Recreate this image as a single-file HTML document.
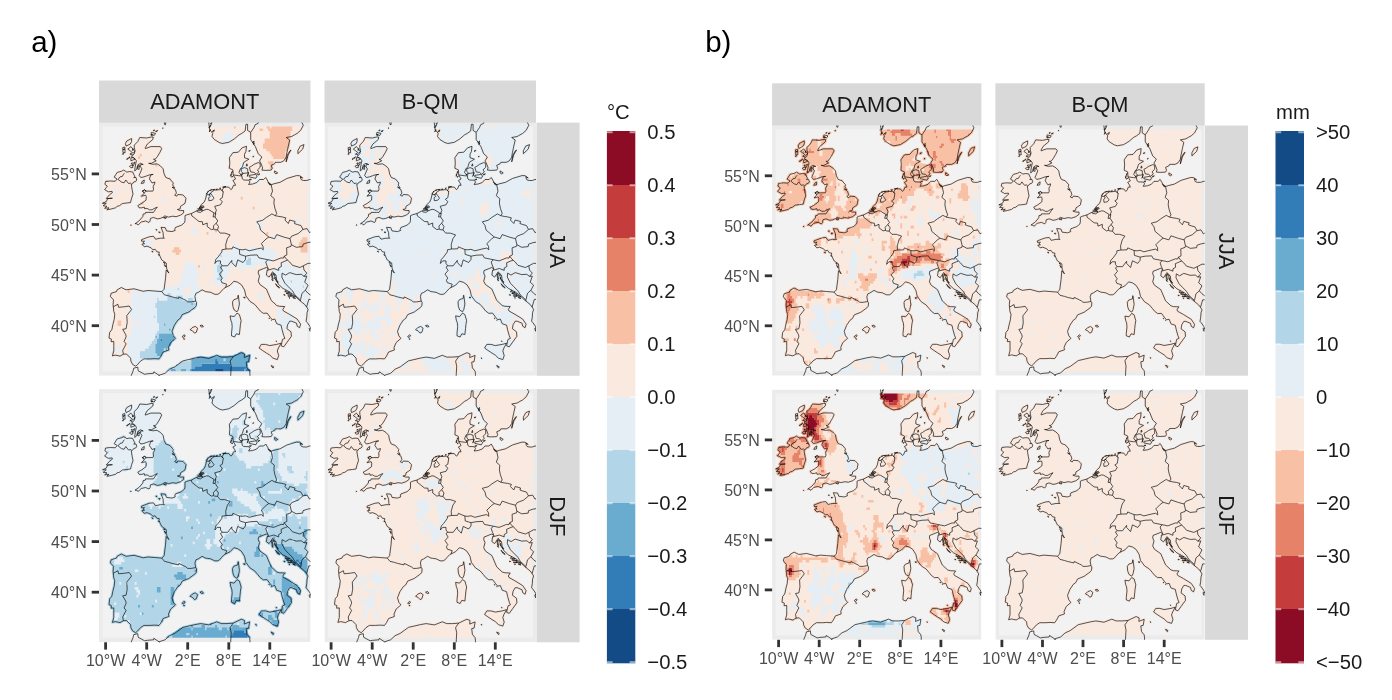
<!DOCTYPE html><html><head><meta charset="utf-8"><title>fig</title><style>html,body{margin:0;padding:0;background:#fff}svg{display:block}text{font-family:"Liberation Sans",sans-serif}</style></head><body>
<svg width="1392" height="700" viewBox="0 0 1392 700">
<defs>
<path id="land" d="M36 101.2L40.5 97.9L43.9 93.8L44.1 91.6L46.3 91.1L46.6 89.8L51.8 89.8L54.5 89.8L56.5 86.7L58.3 84.5L54.5 86.2L53.1 87.2L50.4 87.2L48 85.7L45.6 86.2L45.3 84.5L42.9 85.2L40.1 85.2L38.8 83L42.9 80.7L47 77.6L47.3 74.1L46.6 72.6L42.5 73.6L45.3 70.5L43.2 68.5L45.6 67.3L47.3 68.5L49 68.5L53.8 68.5L54.5 67L54.2 63.7L55.5 61.4L55.9 59.4L53.1 60.4L51.8 58.4L50.4 56.4L51.8 52.3L54.2 51.8L50.4 52.3L47.7 53.3L44.9 54.3L41.8 54.9L40.1 52.8L40.8 51.3L42.9 46.2L41.5 44.2L41.8 41.7L44.2 41.9L41.5 40.7L38.8 42.2L37.7 46.8L35.7 48.3L36 45.2L36.7 41.2L37.4 38.2L36 36.1L32.6 34.1L35.3 31.1L36 28L35.3 25L35.3 22.5L38.8 18.9L40.8 14.9L47.7 15.4L52.1 14.4L54.2 14.4L53.8 16.9L48.3 21.5L46.3 25L46.3 26L51.8 24L61.3 24L62.7 26L61 29.6L58.3 34.1L56.2 36.6L54.5 36.6L57.2 38.2L52.4 40.7L49.7 40.7L53.8 41.7L57.9 41.2L61.3 43.2L64.1 46.2L65.1 51.3L66.8 54.9L70.9 56.4L74.3 60.4L73.7 62.4L75.7 65.5L73 64.5L76.4 67L77.4 70.5L75.7 72.6L77.8 73.6L78.8 71.9L83.9 72.3L87 75.6L86 80.7L83.9 82.2L81.5 83.7L81.2 86.2L78.4 86.9L81.2 88L84.6 87.9L84.6 90.3L81.5 92.6L77.1 94.1L73.7 93.6L69.5 94.5L67.5 93.8L65.8 93.3L64.1 94.6L61.3 95.8L58.3 96.3L54.5 94.8L51.4 95.8L51.1 98.4L50 99.9L46.6 98.4L42.2 99.4L40.5 100.9L39.4 102.3L37 100.9ZM24.7 47.5L27.8 49.5L30.5 49L33.6 49.3L35.3 52.8L36 53.8L34.7 54.9L37 54.9L37.7 57.4L36.7 58.9L34.7 59.4L33.6 61.1L32.3 61.4L32.6 64L33.3 68L34 71.5L32.6 75.6L31.5 79.9L27.8 80.4L23.4 80.9L20.3 83.2L18.2 83.7L16.5 85.2L12.1 86.4L7.8 87.2L10 85.2L5.6 85.7L8 83.7L4.2 83.2L7.3 80.7L3.5 80.7L7.3 78.9L8.7 76.1L13.4 75.6L7.3 75.9L10.4 72.3L13.4 70L13.1 68.8L9.3 69.2L5.6 67L7.3 65L8.3 63.5L5.9 61.7L6.6 58.9L11.4 58.4L16.2 58.7L18.2 56.4L15.2 54.6L16.9 51.8L18.2 49.8L22.3 48.8ZM218.7 56.9L210.5 56.9L207.8 57.9L204.7 57.9L202.6 57.4L201.9 56.4L201.3 54.1L203.7 55.4L200.6 53.1L197.5 53L187.9 55.9L181.1 59.7L174.9 61.2L172.2 62.2L169.4 60.4L168.8 58.4L166.7 54.9L164.7 56.9L160.5 56.9L157.8 59.9L153.7 61.4L149.6 61.9L151 59.4L149.9 57.6L144.8 57.4L143.4 56.4L142.8 53.3L140 49.8L141.4 46.2L143.4 44.2L144.8 39.7L149.9 36.6L145.5 35.1L145.5 31.6L146.9 29L147.5 23.7L143.1 25.2L139.3 29.6L133.9 30.1L130.4 35.1L130.8 40.2L130.4 45.7L133.9 47.3L134.2 52.3L136.6 56.4L133.9 57.9L135.6 60.4L136.6 62.7L134.5 62.7L133.2 66L131.8 67L129.8 64.5L125 64.5L122.9 68L124.3 69L121.9 67L117.4 67.4L115.4 67.5L112 69.8L112 70.8L109.6 72.1L107.5 72L106.5 76.6L105.1 79.6L102.4 81.9L101.4 83.7L100.3 85.7L103.8 87.7L99 87.7L98.1 88L92.5 90.9L87.7 92.3L86 93.1L86 97.9L85.6 99.9L82.5 102.6L76.4 104.9L75.7 107L76.4 107.7L73 109L67.5 108.3L66.3 105.1L62 104.7L64.1 110L64.4 114.6L65.4 115.6L61.3 115.6L56.5 116.6L54.5 113.7L50.7 114.1L47.7 115.1L42.5 117.1L42.5 118.6L45.6 118.6L43.9 120.1L45.6 121.1L42.9 121.6L45.3 124.2L48 123.5L52.1 125.2L53.8 127.2L56.2 126.7L57.9 129.2L60.3 129.5L60 131.3L61.3 134.3L62.7 137.3L67.2 140.4L67.5 144.4L67.8 146.4L69.9 150.5L67.2 147.4L66.5 156.1L65.1 166.7L62.8 169L55.2 168.4L49 167.9L44.2 168.7L35 166.2L27.1 167.2L22.3 164.9L18.2 167.2L17.5 169L12.1 170.7L11.4 173.8L14.5 177.3L14.1 181.9L14.3 184.2L14.8 188.9L15.8 191.5L15.2 197L14.1 201.1L12.8 207.2L10.7 209.7L10 215.5L12.4 216.5L12.1 219.1L14.8 218.8L14.8 223.9L14.8 228.4L13.4 233.3L16.2 232.5L21 233.5L24.4 231.6L27.5 231.4L31.6 235.5L31.9 238.5L33.6 241.8L36.7 243.6L38.4 242.1L41.5 238.5L44.9 236.3L51.1 236.3L55.2 236L60 236.3L62 233.5L64.1 229.4L69.9 227.4L69.5 224.9L71.6 220L76.4 215.8L74.3 213.2L73 208.7L75.4 202.6L78.8 197.5L81.2 195.8L83.2 192L89.7 189.4L95.9 184.9L97.3 183.2L97.6 179.8L96.7 178.5L95.9 173.8L96.9 170.7L99 169.9L103.1 167.2L106.5 169L108.2 169.2L111.6 169.7L115.7 171.7L118.8 171.7L120.5 170.7L122.2 168.7L125 165.7L126.5 164.9L131.1 162.6L134.9 158.6L138.7 159.6L142.4 162.1L145.5 167.2L146.9 173.3L151 178.8L155.8 181.9L158.8 185.4L161.2 188.4L164.3 190.7L168.1 190.5L171.2 194.7L173.2 197L175.9 196.5L177.7 201.1L182.1 202.6L183.1 207.2L184.8 213.2L185.9 215.8L183.5 216.8L182.1 223.3L184.8 224.2L188.3 219.3L192.4 213.7L192 209.2L187.9 206.1L188.6 202.1L190.7 198.6L192.7 198.6L197.5 200.6L198.2 203.6L200.6 205.1L201.6 201.6L198.2 196.5L190.4 191.7L184.5 188.4L183.8 186.9L185.7 183.9L180.4 183.7L177.7 182.9L172.2 177.8L167.4 166.5L161 162L159.2 158.6L160.5 153.5L159.2 150.5L159.5 148L164.7 145.9L167.4 144.9L169.4 146.4L168.1 147.8L167.4 152.5L170.1 154.5L172.5 151L173.5 149.2L177 152.5L177.7 157.6L179.2 161.4L183.8 165.7L187.6 167.7L191.3 169.7L195.1 172.7L198.9 176.3L201.6 178.6L205.7 181.9L207.6 184.4L209.1 186.9L208.1 190L207.8 194.5L207.1 198.6L208.4 200.1L211.2 204.1L211.9 206.1L218.7 210.2ZM109.2 -9.4L109.6 -1.3L110.6 6.8L113.7 10.8L113 13.9L115.4 16.9L120.2 19.9L123.3 20.9L129.8 19.7L135.2 16.4L140 12.3L142.8 10.8L146.2 8.3L146.9 1.7L148.6 1.7L148.6 7.8L151.7 9.8L151.7 16.9L155.1 22L156.4 24L159.2 31.1L162.9 34.4L160.5 38.4L161.9 40.7L163.6 45.2L162.9 47.5L166.7 47.8L172.2 47.5L173.2 45.7L172.2 42.7L175.6 41.2L176.3 39.7L181.8 39.7L184.8 38.2L187.2 34.6L187.9 30.1L189.3 23.5L190.7 17.4L187.2 14.9L192.7 13.9L195.4 12.3L198.2 10.8L201.6 7.8L204.3 2.7L202.3 -1.3L201.6 -9.4ZM63.4 263.8L62.7 256.7L60 252.7L66.1 250.7L70.6 246.6L75.7 244.3L83.9 238.3L95.9 235.5L101.7 234.5L109.9 235.8L117.8 232.7L122.2 234.5L128 234.5L134.2 234L142.4 230.1L145.5 231.4L145.2 235L150.6 232.8L149.6 239L147.2 239.5L147.9 245.3L150.6 248.6L151 251.7L150.3 263.8ZM160.1 225.4L162.3 221.8L166.4 221.8L170.8 223L177.7 221.8L182.1 220.6L179.4 225.4L178.3 228.4L179.7 233L178.3 237L173.9 235.5L170.8 232.5L167.4 230.4L163.3 227.7ZM131.1 193.3L131.8 197.5L132.8 200.1L133.2 204.1L132.5 210.7L132.5 213.2L135.6 214.4L137.3 211.2L140.4 211.9L141 206.1L141.4 202.1L142.1 198L140.4 192L138 190.5L135.2 194ZM139.3 172.7L140.4 181.4L139.3 186.9L138 189.2L135.2 187.4L133.9 183.9L133.5 179.3L134.9 177.1L138.7 175.8L139 172.7ZM91.1 207.2L93.2 205.1L96.2 203.8L98.6 205.6L97.3 209.7L95.5 210.5L93.5 208.2ZM101 203.1L103.1 202.4L104.4 204.1L102.7 204.4ZM83.2 214.2L84.9 212.2L86.1 212.9L84.6 214.9ZM142.1 46.2L145.5 45L148.6 46.2L148.9 50.3L144.1 50.8L142.4 48.8ZM150.3 44.7L152.3 43.7L155.1 41.7L159.2 40L161.2 40.7L161.2 44.7L158.5 47.3L159.9 49.3L157.1 51.6L155.1 49.8L151.7 49.3ZM150.3 52.8L156.4 51.8L158.2 53.3L156.8 55.7L150.3 54.3ZM175.6 48.3L178.7 50.3L177 51.3L175.6 50.3ZM187.2 39.2L189.3 32.1L192 27.5L191 28L188.3 32.6ZM198.9 31.1L203.7 26.5L205 22L201.3 23.5L198.9 28ZM32.6 15.9L32.6 18.9L31.2 21.5L27.1 23.5L26.4 20.9L27.8 18.4ZM25.8 24.5L26.1 30.1L24 30.1L23.7 25ZM31.9 24L36 29L34 30.6L30.9 28L28.8 26.5ZM36 36.6L31.9 38.2L31.9 35.1L34.7 35.1ZM33.3 42.2L34 44.7L31.9 45.2L30.5 43.7ZM36 39.7L34.3 43.2L33.3 42.2L35 39.7ZM40.1 44.2L40.1 46.8L38.4 46.2L38.4 44.2ZM52.4 9.8L56.5 10.8L55.2 12.9L52.1 11.8ZM65.4 -1.3L66.8 -1.3L66.5 2.2L65.4 1.7ZM45.3 57.4L44.9 60.4L42.2 60.9L43.5 58.4ZM64.4 95L67.5 94.6L66.8 96ZM144.5 174.8L146.2 174.6L145.8 175.5ZM156.6 235.2L157.3 235.5L157.1 236.1ZM172.2 242.9L174.6 244.1L174.2 245.4L173.1 244.6ZM172.9 151L174.2 156.6L173.2 156.1L172.5 152.5ZM173.9 150.5L176.3 152.5L174.9 153ZM175.6 155.5L179.4 159.6L178 159.6ZM176.6 161.1L179 163.9L178.3 164.1ZM187.2 169.2L190.7 169.7L188.6 170.2ZM187.2 170.7L192.7 171.5L189.3 171.7ZM188.9 173L192.7 173.5L189.3 173.8ZM98.6 86.2L101.7 85.7L103.1 86.7L99.7 87.2ZM100.3 84.7L103.1 84.5L103.8 85.5L101 85.4ZM101.4 83.7L104.4 83.2L105.1 84.7L102.4 84.5ZM107.3 71.5L108.5 69.7L107.9 71.3ZM108.5 69.2L109.9 68.5L109.2 69.3ZM110.3 67.9L113 67L111.3 67.9ZM113.3 67.1L115.7 66.8L114.4 67.3ZM116.8 66.8L118.5 66.5L117.4 67ZM120.5 65.7L121.9 65.5L121.2 66ZM123.6 64.5L127 63.9L125 64.6ZM131.8 53.8L132.5 50.8L131.7 52.3ZM132.5 54.3L133.9 53.8L133.2 54.6ZM132.8 50.3L133.5 48.8L132.7 49.3ZM141.7 51.8L143.8 50.8L143.1 52.5ZM148.2 53.8L149.6 49.8L148.8 53.3ZM158.5 51.8L160.9 51.3L159.2 52.5ZM147.2 43.4L147.9 41.2L148.4 43.2ZM149.6 28.5L151.3 27.8L150.6 28.8ZM153.7 34.1L154.7 33.6L154.4 34.3ZM150.3 56.9L152.3 56.4L151.7 57.4ZM169.4 59.9L172.2 61.9L170.8 62.4L170.1 61.2ZM110.3 9.3L111.3 6.8L110.6 8.8ZM109.9 4.8L112 2.2L110.9 4.8ZM111.3 1.2L113 -0.3L112.3 1.7ZM113.3 8.8L115.4 7.3L114.7 9.3ZM153.4 19.9L155.1 18.4L154.7 20.4ZM154 21.5L155.4 20.4L154.7 21.8ZM29.2 35.6L30.9 34.1L30.2 35.6ZM27.5 36.6L28.8 35.6L28.5 36.8ZM30.9 31.6L32.3 30.6L32.3 31.8ZM32.6 32.3L33.3 31.8L33.1 32.5ZM32.3 41L33.1 40L32.9 41.2ZM39.8 42.4L40.8 43.7L40 44ZM33.4 27.8L34 26L34.1 27.5ZM24 27L25.8 26.2L25.1 27.2ZM23.4 31.6L24.4 30.6L24.3 31.8ZM51.8 12.3L53.5 11.8L53.1 13.1ZM56.5 8.8L58.6 7.8L57.9 9ZM54.2 8L55.5 7.3L55.2 8.3ZM63.5 5.6L64.1 5.2L64.1 5.8ZM43.5 68.5L45.6 67.3L47.3 68.5L45.3 70ZM31.6 102.4L32.1 102.1L32.1 102.9ZM59.6 109.5L61.3 109.5L60.7 110.3ZM56.9 107L57.9 107L57.6 107.8ZM52.8 128.7L54.2 129.2L53.5 129.4ZM65.4 141.9L66.8 143.9L66.5 144.4ZM64.4 139.9L66.1 140.4L65.8 140.9ZM59.3 132L60.3 132.5L60 132.8ZM84.5 216.1L85.6 216.5L84.9 216.8ZM172.2 197.4L172.7 197.5L172.3 197.7ZM169.8 195.5L170.6 195.7L170.1 196ZM177 218.3L177.7 218.6L177.3 219ZM184.8 172L186.2 172.4L185.2 172.7ZM193.7 174.8L196.5 175.8L194.1 175.3ZM190 175.1L191 175.3L190.3 175.6ZM175.6 154L176.6 155.5L175.9 155.5ZM172.9 156.6L174.2 158.1L173.5 158.1ZM179 163.6L180.7 165.2L179.7 165.2ZM185.9 168.7L186.9 169L186.2 169.4ZM186.5 167.7L187.2 167.7L186.9 168.1ZM191.3 172.7L195.4 174.3L196.5 174L192 172.2ZM210.5 205.6L211.5 205.3L211.2 208.7L210.2 206.1Z"/>
<path id="nod" d="M27.1 263.8L31.9 253.7L34 248.6L34.7 245.6L38.8 244.6L39.1 248.1L45.6 251.7L48.3 251.2L54.5 250.7L54.8 249.2L60 252.7L62.7 256.7L63.4 263.8ZM109.9 72.1L111.6 71L113.3 73.1L115 75.6L113.3 77.6L109.9 78.1L109.6 75.1L111.3 73.8Z"/>
<path id="mx" d="M140.7 53.3L142.1 41.2L149.6 38.2L161.2 40.2L162.6 46.2L159.2 54.3L150.3 56.4ZM30.5 45.2L39.4 45.2L37.4 35.1L36.7 25L32.6 23.5L28.5 27L30.5 35.1ZM98.3 87.7L104.4 87.7L104.4 82.2L100.3 83.7Z"/>
<path id="bord" d="M25.4 50.6L24.4 51.8L23.4 53.8L21 54.3L19.1 56.8L22.3 59.4L25.1 60.2L26.8 57.4L29.5 60.9L32.1 60.4M14.3 184.2L18.9 181.6L19.6 184.7L25.8 184.1L30.2 183.4L32.6 186.9L27.8 193L28.2 200.1L27.1 206.1L23.7 206.7L26.8 212.2L27.1 214.2L25.1 218.8L27.1 221.3L23.7 227.9L24.4 231.6M62.8 169L65.4 172.2L69.9 173.3L73 174.3L79.5 175.8L79.8 174.3L84.9 176.8L87 177.8L88.7 179.3L92.1 179.3L96.7 178.5M126.5 164.9L127.7 161.6L122.9 160.1L121.9 157.6L123.3 155.5L120.5 151.5L123.6 148L121.5 144.4L123.3 143.2M123.3 143.2L121.5 140.9L121.5 138.3L118.1 138.3L115.9 140.9L116.8 136.8L119.2 134.3L122.9 129.2L122.9 127.2L127 126.4M127 126.4L126.7 122.1L128.4 116.1L131.1 112.3L125.7 110.5L121.2 110.5L118.5 107.3M118.5 107.3L115.4 107L114.8 106.5L112.3 107L108.2 103.9L108.2 100.4L103.8 102.2L103.4 99.1L100 98.9L97.3 96.8L94.9 94.8L92.8 93.3L92.5 90.9M114.8 106.5L114.4 103.4L117.1 100.6L119.5 103.9L118.5 107.3M117.1 100.6L118.8 98.4L116.1 94.3M98.1 88L98.3 89.3L101.4 89.8L104.1 88L107.5 86.7L109.6 87L115 90.3L114 94.3L116.1 94.3M116.1 94.3L116.8 90.3L115.7 91.3L117.4 87.7L115.7 83.7L121.5 82.2L123.3 79.1L120.9 76.6L123.3 75.1L124.3 69M134.2 52.3L139.7 53.1L142.8 53.3M172.2 62.2L173.5 68.5L171.8 73.1L175.3 76.1L174.9 80.7L175.9 85.7L177.7 90.8L176.3 93.1M176.3 93.1L172.9 91.3L167.4 94.8L163.6 97.7L157.8 99.2L160.5 102.9L161.6 107.5L169.8 114.4M169.8 114.4L167 116.4L162.3 121.1L164 123.7L164.3 127.2L162.3 125.5L158.5 126.2L150.3 128.2L146.5 126.7L143.4 127.2L140.4 126.9M140.4 126.9L136.6 125.4L133.9 124.2L133.2 126.2L127 126.4M140.4 126.9L140.7 131.8L146.5 133.6M146.5 133.6L146.5 136.8L144.1 139.9L138.7 137.3L136.8 144.1L132.8 139.9L132.8 137.8L128.7 143.2L123.3 143.2M146.5 133.6L151.7 132.6L158.2 132.3L159.9 135.3L168.8 137.1M168.8 137.1L166.7 139.4L168.1 143.4L169.4 146.4M168.8 137.1L174.6 138.3L182.1 135.3L184.5 135.5L185.2 133.6M185.2 133.6L187.9 132.3L187.6 125.2L192 123.7L192.4 122.1M192.4 122.1L191 116.1M191 116.1L185.2 114.6L177.7 112L175.6 116.1L169.8 114.4M176.3 93.1L179.7 93.8L183.1 94.3L186.9 95.3L185.9 97.4L189.3 100.9L190.7 97.4L196.1 98.9L195.4 100.9L198.2 101.9L201.9 102.9L204 106.8M204 106.8L199.2 111L192.7 113.5L191 116.1M204 106.8L208.1 106L210.5 110L212.5 109L218.7 108M192.4 122.1L197.2 124.7L203.7 124L204 121.6L208.4 120.1L213.9 119.1L218.7 117.1M168.1 147.8L174.9 145.9L179.7 147.8L179.7 145.4L182.4 143.9L182.1 140.2L186.5 138.3L188.6 137.6M185.2 133.6L186.9 135.8L188.6 137.6M188.6 137.6L190.7 139.4L193.4 142.7L200.9 144.9L204.3 143.2M204.3 143.2L209.1 140.7L213.9 140.9L218.7 141.4M204.3 143.2L205 147.4L207.8 150.5L205 153.8M205 153.8L202.3 151.7L197.2 152L190.7 150L186.5 152.5L183.1 150.5L182.8 154.5L185.9 160.6L189.3 164.1L193.4 168.2L195.8 172.2L201.3 177.3L201.6 178.6M205 153.8L207.8 153.5L205.7 159.6L209.1 162.6L206.4 167.7L203 170.7L201.6 176.8L201.3 177.3M206.4 167.7L209.1 170.7L213.9 174.3L212.5 176.8L209.8 176.8L207.6 184.4M212.5 176.8L215.3 180.8L215.3 190L218.7 194M211.9 206.1L214.6 203.1L218.7 197M151.7 9.8L155.1 4.8L156.1 2.2L159.2 0.7L160.5 -4.4M134.2 234L131.1 238.5L132.2 243.6L131.8 250.7L131.5 257.8"/>
<mask id="lm" maskUnits="userSpaceOnUse" x="0" y="0" width="215" height="256"><use href="#land" fill="#fff" stroke="#fff" stroke-width="2.8" stroke-linejoin="round"/><use href="#mx" fill="#fff"/></mask>
<clipPath id="pca"><rect x="0" y="0" width="211.50" height="253.20"/></clipPath>
<clipPath id="pcb"><rect x="0" y="0" width="211.84" height="253.24"/></clipPath>
<clipPath id="rca"><rect x="3.5" y="4.00" width="205.00" height="244.70"/></clipPath>
<clipPath id="rcb"><rect x="3.5" y="4.35" width="205.34" height="244.74"/></clipPath>
</defs>
<rect width="1392" height="700" fill="#fff"/>
<rect x="99" y="80.5" width="211.5" height="42.4" fill="#D9D9D9"/>
<text x="204.75" y="109.35" font-size="21.8" text-anchor="middle" fill="#1a1a1a">ADAMONT</text>
<rect x="324.5" y="80.5" width="211.5" height="42.4" fill="#D9D9D9"/>
<text x="430.25" y="109.35" font-size="21.8" text-anchor="middle" fill="#1a1a1a">B-QM</text>
<rect x="536.5" y="122.6" width="43.1" height="253.2" fill="#D9D9D9"/>
<text transform="translate(558.05 249.8) rotate(90)" font-size="21.8" text-anchor="middle" fill="#1a1a1a" y="7.8">JJA</text>
<rect x="536.5" y="389.1" width="43.1" height="253.2" fill="#D9D9D9"/>
<text transform="translate(558.05 516.3) rotate(90)" font-size="21.8" text-anchor="middle" fill="#1a1a1a" y="7.8">DJF</text>
<g transform="translate(99 122.6) scale(1)" clip-path="url(#pca)">
<rect width="211.5" height="253.2" fill="#EBEBEB"/>
<rect x="3.5" y="4" width="205.0" height="244.7" fill="#F2F2F2"/>
<g transform="translate(0 0)">
<g mask="url(#lm)" clip-path="url(#rca)"><rect width="215" height="256" fill="#FAE9DF"/>
<path fill="#134B86" d="M116.1 246.1h8.7v2.7h-8.7zM107.5 248.6h5.3v2.7h-5.3zM116.1 248.6h13.8v2.7h-13.8zM102.4 251.2h29.2v2.7h-29.2z"/><path fill="#327CB8" d="M61.3 215.8h1.9v2.7h-1.9zM116.1 236h1.9v2.7h-1.9zM116.1 238.5h3.6v2.7h-3.6zM102.4 241.1h29.2v2.7h-29.2zM95.5 243.6h51.5v2.7h-51.5zM92.1 246.1h24.1v2.7h-24.1zM124.6 246.1h20.7v2.7h-20.7zM146.9 246.1h5.3v2.7h-5.3zM92.1 248.6h15.5v2.7h-15.5zM112.7 248.6h3.6v2.7h-3.6zM129.8 248.6h22.4v2.7h-22.4zM92.1 251.2h10.4v2.7h-10.4zM131.5 251.2h20.7v2.7h-20.7z"/><path fill="#6AACD0" d="M92.1 180.3h1.9v2.7h-1.9zM64.8 200.6h1.9v2.7h-1.9zM69.9 205.6h1.9v2.7h-1.9zM59.6 210.7h13.8v2.7h-13.8zM56.2 213.2h1.9v2.7h-1.9zM59.6 213.2h15.5v2.7h-15.5zM57.9 215.8h3.6v2.7h-3.6zM63 215.8h12.1v2.7h-12.1zM57.9 218.3h15.5v2.7h-15.5zM56.2 220.8h17.3v2.7h-17.3zM56.2 223.3h13.8v2.7h-13.8zM56.2 225.9h8.7v2.7h-8.7zM66.5 225.9h1.9v2.7h-1.9zM56.2 228.4h8.7v2.7h-8.7zM138.3 228.4h7v2.7h-7zM57.9 230.9h5.3v2.7h-5.3zM121.2 230.9h30.9v2.7h-30.9zM97.3 233.5h54.9v2.7h-54.9zM92.1 236h24.1v2.7h-24.1zM117.8 236h7v2.7h-7zM126.3 236h25.8v2.7h-25.8zM92.1 238.5h24.1v2.7h-24.1zM119.5 238.5h32.6v2.7h-32.6zM92.1 241.1h10.4v2.7h-10.4zM131.5 241.1h20.7v2.7h-20.7zM92.1 243.6h3.6v2.7h-3.6zM146.9 243.6h5.3v2.7h-5.3zM71.6 246.1h5.3v2.7h-5.3zM81.9 246.1h5.3v2.7h-5.3zM90.4 246.1h1.9v2.7h-1.9zM145.2 246.1h1.9v2.7h-1.9zM152 246.1h1.9v2.7h-1.9zM59.6 248.6h1.9v2.7h-1.9zM63 248.6h29.2v2.7h-29.2zM152 248.6h1.9v2.7h-1.9zM57.9 251.2h34.4v2.7h-34.4zM152 251.2h1.9v2.7h-1.9z"/><path fill="#B2D5E7" d="M121.2 132.3h1.9v2.7h-1.9zM148.6 134.8h3.6v2.7h-3.6zM146.9 137.3h5.3v2.7h-5.3zM119.5 139.9h1.9v2.7h-1.9zM146.9 139.9h5.3v2.7h-5.3zM117.8 142.4h5.3v2.7h-5.3zM117.8 144.9h5.3v2.7h-5.3zM117.8 147.4h5.3v2.7h-5.3zM119.5 150h3.6v2.7h-3.6zM119.5 152.5h3.6v2.7h-3.6zM117.8 155h5.3v2.7h-5.3zM191.3 157.6h1.9v2.7h-1.9zM203.3 162.6h1.9v2.7h-1.9zM78.4 165.2h1.9v2.7h-1.9zM68.2 170.2h3.6v2.7h-3.6zM68.2 172.7h5.3v2.7h-5.3zM76.7 172.7h7v2.7h-7zM57.9 175.3h1.9v2.7h-1.9zM68.2 175.3h15.5v2.7h-15.5zM88.7 175.3h5.3v2.7h-5.3zM57.9 177.8h37.8v2.7h-37.8zM56.2 180.3h36.1v2.7h-36.1zM93.8 180.3h3.6v2.7h-3.6zM56.2 182.9h41.2v2.7h-41.2zM57.9 185.4h39.5v2.7h-39.5zM57.9 187.9h34.4v2.7h-34.4zM57.9 190.5h32.6v2.7h-32.6zM54.5 193h1.9v2.7h-1.9zM57.9 193h30.9v2.7h-30.9zM57.9 195.5h27.5v2.7h-27.5zM57.9 198h24.1v2.7h-24.1zM59.6 200.6h5.3v2.7h-5.3zM66.5 200.6h13.8v2.7h-13.8zM59.6 203.1h19v2.7h-19zM59.6 205.6h10.4v2.7h-10.4zM71.6 205.6h5.3v2.7h-5.3zM57.9 208.2h19v2.7h-19zM56.2 210.7h3.6v2.7h-3.6zM73.3 210.7h5.3v2.7h-5.3zM57.9 213.2h1.9v2.7h-1.9zM75 213.2h5.3v2.7h-5.3zM54.5 215.8h3.6v2.7h-3.6zM75 215.8h3.6v2.7h-3.6zM52.8 218.3h5.3v2.7h-5.3zM73.3 218.3h3.6v2.7h-3.6zM51.1 220.8h5.3v2.7h-5.3zM73.3 220.8h1.9v2.7h-1.9zM49.4 223.3h7v2.7h-7zM69.9 223.3h3.6v2.7h-3.6zM45.9 225.9h10.4v2.7h-10.4zM64.8 225.9h1.9v2.7h-1.9zM68.2 225.9h5.3v2.7h-5.3zM138.3 225.9h7v2.7h-7zM40.8 228.4h15.5v2.7h-15.5zM64.8 228.4h7v2.7h-7zM131.5 228.4h7v2.7h-7zM145.2 228.4h7v2.7h-7zM40.8 230.9h17.3v2.7h-17.3zM63 230.9h7v2.7h-7zM97.3 230.9h24.1v2.7h-24.1zM152 230.9h1.9v2.7h-1.9zM40.8 233.5h24.1v2.7h-24.1zM92.1 233.5h5.3v2.7h-5.3zM152 233.5h1.9v2.7h-1.9zM47.7 236h15.5v2.7h-15.5zM90.4 236h1.9v2.7h-1.9zM124.6 236h1.9v2.7h-1.9zM152 236h1.9v2.7h-1.9zM80.2 238.5h12.1v2.7h-12.1zM76.7 241.1h15.5v2.7h-15.5zM66.5 243.6h25.8v2.7h-25.8zM61.3 246.1h10.4v2.7h-10.4zM76.7 246.1h5.3v2.7h-5.3zM87 246.1h3.6v2.7h-3.6zM57.9 248.6h1.9v2.7h-1.9zM61.3 248.6h1.9v2.7h-1.9z"/><path fill="#E4EEF4" d="M107.5 0.7h1.9v2.7h-1.9zM49.4 8.3h1.9v2.7h-1.9zM128 8.3h7v2.7h-7zM47.7 10.8h5.3v2.7h-5.3zM124.6 10.8h10.4v2.7h-10.4zM25.4 13.4h1.9v2.7h-1.9zM116.1 13.4h1.9v2.7h-1.9zM122.9 13.4h10.4v2.7h-10.4zM122.9 15.9h8.7v2.7h-8.7zM40.8 18.4h1.9v2.7h-1.9zM122.9 18.4h7v2.7h-7zM122.9 20.9h3.6v2.7h-3.6zM122.9 23.5h1.9v2.7h-1.9zM131.5 28.5h3.6v2.7h-3.6zM131.5 31.1h1.9v2.7h-1.9zM47.7 33.6h1.9v2.7h-1.9zM61.3 38.7h1.9v2.7h-1.9zM141.7 38.7h3.6v2.7h-3.6zM141.7 41.2h5.3v2.7h-5.3zM18.6 43.7h1.9v2.7h-1.9zM141.7 43.7h5.3v2.7h-5.3zM141.7 46.2h5.3v2.7h-5.3zM13.4 48.8h1.9v2.7h-1.9zM39.1 48.8h1.9v2.7h-1.9zM143.4 48.8h1.9v2.7h-1.9zM13.4 53.8h1.9v2.7h-1.9zM157.1 53.8h5.3v2.7h-5.3zM152 56.4h10.4v2.7h-10.4zM155.4 58.9h3.6v2.7h-3.6zM160.5 61.4h1.9v2.7h-1.9zM18.6 64h1.9v2.7h-1.9zM27.1 64h1.9v2.7h-1.9zM15.2 66.5h1.9v2.7h-1.9zM105.8 66.5h3.6v2.7h-3.6zM15.2 69h1.9v2.7h-1.9zM105.8 69h8.7v2.7h-8.7zM133.2 69h1.9v2.7h-1.9zM145.2 69h1.9v2.7h-1.9zM13.4 71.5h1.9v2.7h-1.9zM45.9 71.5h1.9v2.7h-1.9zM105.8 71.5h8.7v2.7h-8.7zM63 74.1h3.6v2.7h-3.6zM110.9 74.1h3.6v2.7h-3.6zM64.8 76.6h1.9v2.7h-1.9zM88.7 76.6h1.9v2.7h-1.9zM107.5 79.1h1.9v2.7h-1.9zM116.1 79.1h1.9v2.7h-1.9zM164 79.1h1.9v2.7h-1.9zM52.8 81.7h1.9v2.7h-1.9zM73.3 84.2h1.9v2.7h-1.9zM107.5 86.7h1.9v2.7h-1.9zM51.1 89.3h1.9v2.7h-1.9zM75 89.3h1.9v2.7h-1.9zM45.9 91.8h1.9v2.7h-1.9zM49.4 91.8h3.6v2.7h-3.6zM95.5 91.8h1.9v2.7h-1.9zM164 91.8h1.9v2.7h-1.9zM87 94.3h1.9v2.7h-1.9zM47.7 96.8h1.9v2.7h-1.9zM85.3 96.8h3.6v2.7h-3.6zM158.8 96.8h3.6v2.7h-3.6zM196.5 96.8h3.6v2.7h-3.6zM203.3 96.8h1.9v2.7h-1.9zM158.8 99.4h5.3v2.7h-5.3zM196.5 99.4h3.6v2.7h-3.6zM158.8 101.9h5.3v2.7h-5.3zM93.8 104.4h3.6v2.7h-3.6zM158.8 104.4h1.9v2.7h-1.9zM92.1 107h5.3v2.7h-5.3zM93.8 109.5h3.6v2.7h-3.6zM201.6 109.5h1.9v2.7h-1.9zM175.9 112h3.6v2.7h-3.6zM175.9 114.6h3.6v2.7h-3.6zM44.2 117.1h8.7v2.7h-8.7zM44.2 119.6h10.4v2.7h-10.4zM134.9 119.6h3.6v2.7h-3.6zM45.9 122.1h5.3v2.7h-5.3zM134.9 122.1h5.3v2.7h-5.3zM134.9 124.7h7v2.7h-7zM150.3 124.7h20.7v2.7h-20.7zM131.5 127.2h44.6v2.7h-44.6zM121.2 129.7h56.6v2.7h-56.6zM117.8 132.3h3.6v2.7h-3.6zM122.9 132.3h54.9v2.7h-54.9zM116.1 134.8h32.6v2.7h-32.6zM152 134.8h24.1v2.7h-24.1zM114.4 137.3h32.6v2.7h-32.6zM152 137.3h20.7v2.7h-20.7zM87 139.9h8.7v2.7h-8.7zM114.4 139.9h5.3v2.7h-5.3zM121.2 139.9h25.8v2.7h-25.8zM152 139.9h7v2.7h-7zM160.5 139.9h7v2.7h-7zM169.1 139.9h1.9v2.7h-1.9zM182.8 139.9h7v2.7h-7zM85.3 142.4h12.1v2.7h-12.1zM102.4 142.4h3.6v2.7h-3.6zM114.4 142.4h3.6v2.7h-3.6zM122.9 142.4h10.4v2.7h-10.4zM134.9 142.4h20.7v2.7h-20.7zM179.4 142.4h12.1v2.7h-12.1zM85.3 144.9h12.1v2.7h-12.1zM104.1 144.9h1.9v2.7h-1.9zM114.4 144.9h3.6v2.7h-3.6zM122.9 144.9h8.7v2.7h-8.7zM141.7 144.9h3.6v2.7h-3.6zM155.4 144.9h1.9v2.7h-1.9zM174.2 144.9h25.8v2.7h-25.8zM85.3 147.4h12.1v2.7h-12.1zM114.4 147.4h3.6v2.7h-3.6zM122.9 147.4h8.7v2.7h-8.7zM167.4 147.4h1.9v2.7h-1.9zM174.2 147.4h32.6v2.7h-32.6zM83.6 150h17.3v2.7h-17.3zM114.4 150h5.3v2.7h-5.3zM122.9 150h7v2.7h-7zM172.5 150h36.1v2.7h-36.1zM83.6 152.5h15.5v2.7h-15.5zM114.4 152.5h5.3v2.7h-5.3zM122.9 152.5h5.3v2.7h-5.3zM172.5 152.5h36.1v2.7h-36.1zM64.8 155h1.9v2.7h-1.9zM81.9 155h17.3v2.7h-17.3zM114.4 155h3.6v2.7h-3.6zM122.9 155h3.6v2.7h-3.6zM174.2 155h17.3v2.7h-17.3zM193 155h17.3v2.7h-17.3zM81.9 157.6h15.5v2.7h-15.5zM109.2 157.6h1.9v2.7h-1.9zM114.4 157.6h12.1v2.7h-12.1zM179.4 157.6h12.1v2.7h-12.1zM193 157.6h17.3v2.7h-17.3zM80.2 160.1h17.3v2.7h-17.3zM116.1 160.1h8.7v2.7h-8.7zM181.1 160.1h30.9v2.7h-30.9zM68.2 162.6h1.9v2.7h-1.9zM73.3 162.6h13.8v2.7h-13.8zM88.7 162.6h10.4v2.7h-10.4zM100.7 162.6h1.9v2.7h-1.9zM181.1 162.6h22.4v2.7h-22.4zM205 162.6h8.7v2.7h-8.7zM61.3 165.2h17.3v2.7h-17.3zM80.2 165.2h5.3v2.7h-5.3zM92.1 165.2h8.7v2.7h-8.7zM186.2 165.2h27.5v2.7h-27.5zM32.3 167.7h7v2.7h-7zM42.5 167.7h42.9v2.7h-42.9zM92.1 167.7h8.7v2.7h-8.7zM187.9 167.7h25.8v2.7h-25.8zM32.3 170.2h36.1v2.7h-36.1zM71.6 170.2h13.8v2.7h-13.8zM88.7 170.2h12.1v2.7h-12.1zM158.8 170.2h5.3v2.7h-5.3zM189.6 170.2h24.1v2.7h-24.1zM32.3 172.7h36.1v2.7h-36.1zM73.3 172.7h3.6v2.7h-3.6zM83.6 172.7h15.5v2.7h-15.5zM158.8 172.7h5.3v2.7h-5.3zM191.3 172.7h22.4v2.7h-22.4zM32.3 175.3h25.8v2.7h-25.8zM59.6 175.3h8.7v2.7h-8.7zM83.6 175.3h5.3v2.7h-5.3zM93.8 175.3h5.3v2.7h-5.3zM158.8 175.3h3.6v2.7h-3.6zM201.6 175.3h12.1v2.7h-12.1zM32.3 177.8h25.8v2.7h-25.8zM95.5 177.8h3.6v2.7h-3.6zM136.6 177.8h3.6v2.7h-3.6zM150.3 177.8h1.9v2.7h-1.9zM164 177.8h1.9v2.7h-1.9zM203.3 177.8h10.4v2.7h-10.4zM32.3 180.3h24.1v2.7h-24.1zM97.3 180.3h1.9v2.7h-1.9zM136.6 180.3h3.6v2.7h-3.6zM150.3 180.3h1.9v2.7h-1.9zM203.3 180.3h10.4v2.7h-10.4zM27.1 182.9h1.9v2.7h-1.9zM30.5 182.9h25.8v2.7h-25.8zM97.3 182.9h1.9v2.7h-1.9zM136.6 182.9h1.9v2.7h-1.9zM181.1 182.9h1.9v2.7h-1.9zM206.7 182.9h7v2.7h-7zM30.5 185.4h27.5v2.7h-27.5zM97.3 185.4h1.9v2.7h-1.9zM179.4 185.4h3.6v2.7h-3.6zM206.7 185.4h1.9v2.7h-1.9zM210.2 185.4h3.6v2.7h-3.6zM30.5 187.9h27.5v2.7h-27.5zM92.1 187.9h5.3v2.7h-5.3zM136.6 187.9h1.9v2.7h-1.9zM177.7 187.9h5.3v2.7h-5.3zM189.6 187.9h5.3v2.7h-5.3zM206.7 187.9h7v2.7h-7zM30.5 190.5h27.5v2.7h-27.5zM90.4 190.5h3.6v2.7h-3.6zM133.2 190.5h5.3v2.7h-5.3zM177.7 190.5h7v2.7h-7zM189.6 190.5h5.3v2.7h-5.3zM32.3 193h22.4v2.7h-22.4zM56.2 193h1.9v2.7h-1.9zM133.2 193h5.3v2.7h-5.3zM177.7 193h15.5v2.7h-15.5zM32.3 195.5h25.8v2.7h-25.8zM131.5 195.5h8.7v2.7h-8.7zM179.4 195.5h13.8v2.7h-13.8zM196.5 195.5h1.9v2.7h-1.9zM32.3 198h3.6v2.7h-3.6zM39.1 198h19v2.7h-19zM81.9 198h1.9v2.7h-1.9zM129.8 198h10.4v2.7h-10.4zM177.7 198h19v2.7h-19zM32.3 200.6h5.3v2.7h-5.3zM39.1 200.6h20.7v2.7h-20.7zM129.8 200.6h10.4v2.7h-10.4zM177.7 200.6h22.4v2.7h-22.4zM201.6 200.6h1.9v2.7h-1.9zM32.3 203.1h27.5v2.7h-27.5zM88.7 203.1h1.9v2.7h-1.9zM129.8 203.1h10.4v2.7h-10.4zM179.4 203.1h22.4v2.7h-22.4zM32.3 205.6h27.5v2.7h-27.5zM88.7 205.6h1.9v2.7h-1.9zM131.5 205.6h8.7v2.7h-8.7zM179.4 205.6h7v2.7h-7zM193 205.6h7v2.7h-7zM32.3 208.2h25.8v2.7h-25.8zM81.9 208.2h5.3v2.7h-5.3zM133.2 208.2h7v2.7h-7zM182.8 208.2h3.6v2.7h-3.6zM30.5 210.7h25.8v2.7h-25.8zM80.2 210.7h3.6v2.7h-3.6zM131.5 210.7h8.7v2.7h-8.7zM184.5 210.7h1.9v2.7h-1.9zM187.9 210.7h1.9v2.7h-1.9zM28.8 213.2h27.5v2.7h-27.5zM80.2 213.2h3.6v2.7h-3.6zM129.8 213.2h10.4v2.7h-10.4zM8.3 215.8h1.9v2.7h-1.9zM28.8 215.8h25.8v2.7h-25.8zM78.4 215.8h3.6v2.7h-3.6zM131.5 215.8h7v2.7h-7zM28.8 218.3h24.1v2.7h-24.1zM76.7 218.3h1.9v2.7h-1.9zM28.8 220.8h22.4v2.7h-22.4zM15.2 223.3h7v2.7h-7zM28.8 223.3h20.7v2.7h-20.7zM15.2 225.9h7v2.7h-7zM28.8 225.9h17.3v2.7h-17.3zM145.2 225.9h1.9v2.7h-1.9zM172.5 225.9h1.9v2.7h-1.9zM186.2 225.9h1.9v2.7h-1.9zM16.9 228.4h5.3v2.7h-5.3zM28.8 228.4h12.1v2.7h-12.1zM71.6 228.4h1.9v2.7h-1.9zM114.4 228.4h1.9v2.7h-1.9zM119.5 228.4h1.9v2.7h-1.9zM152 228.4h1.9v2.7h-1.9zM172.5 228.4h1.9v2.7h-1.9zM28.8 230.9h12.1v2.7h-12.1zM95.5 230.9h1.9v2.7h-1.9zM153.7 230.9h1.9v2.7h-1.9zM30.5 233.5h10.4v2.7h-10.4zM90.4 233.5h1.9v2.7h-1.9zM155.4 233.5h1.9v2.7h-1.9zM32.3 236h15.5v2.7h-15.5zM85.3 236h5.3v2.7h-5.3zM153.7 236h1.9v2.7h-1.9zM32.3 238.5h29.2v2.7h-29.2zM78.4 238.5h1.9v2.7h-1.9zM35.7 241.1h3.6v2.7h-3.6zM73.3 241.1h3.6v2.7h-3.6zM35.7 243.6h1.9v2.7h-1.9zM56.2 251.2h1.9v2.7h-1.9z"/><path fill="#F8C0A4" d="M169.1 -1.8h12.1v2.7h-12.1zM182.8 -1.8h12.1v2.7h-12.1zM167.4 0.7h3.6v2.7h-3.6zM172.5 0.7h20.7v2.7h-20.7zM134.9 3.2h1.9v2.7h-1.9zM167.4 3.2h3.6v2.7h-3.6zM172.5 3.2h20.7v2.7h-20.7zM160.5 5.8h3.6v2.7h-3.6zM169.1 5.8h24.1v2.7h-24.1zM170.8 8.3h20.7v2.7h-20.7zM170.8 10.8h20.7v2.7h-20.7zM170.8 13.4h20.7v2.7h-20.7zM165.7 15.9h25.8v2.7h-25.8zM165.7 18.4h25.8v2.7h-25.8zM164 20.9h27.5v2.7h-27.5zM164 23.5h27.5v2.7h-27.5zM167.4 26h20.7v2.7h-20.7zM170.8 28.5h15.5v2.7h-15.5zM40.8 31.1h1.9v2.7h-1.9zM172.5 31.1h13.8v2.7h-13.8zM39.1 33.6h1.9v2.7h-1.9zM174.2 33.6h13.8v2.7h-13.8zM186.2 36.1h1.9v2.7h-1.9zM169.1 38.7h5.3v2.7h-5.3zM56.2 41.2h1.9v2.7h-1.9zM170.8 41.2h3.6v2.7h-3.6zM128 43.7h1.9v2.7h-1.9zM170.8 43.7h3.6v2.7h-3.6zM69.9 53.8h1.9v2.7h-1.9zM6.6 56.4h1.9v2.7h-1.9zM211.9 66.5h1.9v2.7h-1.9zM211.9 69h1.9v2.7h-1.9zM40.8 71.5h1.9v2.7h-1.9zM39.1 74.1h5.3v2.7h-5.3zM141.7 74.1h1.9v2.7h-1.9zM39.1 76.6h5.3v2.7h-5.3zM3.2 79.1h1.9v2.7h-1.9zM40.8 79.1h3.6v2.7h-3.6zM153.7 84.2h1.9v2.7h-1.9zM80.2 94.3h1.9v2.7h-1.9zM116.1 107h1.9v2.7h-1.9zM56.2 109.5h1.9v2.7h-1.9zM107.5 109.5h1.9v2.7h-1.9zM167.4 109.5h1.9v2.7h-1.9zM56.2 112h3.6v2.7h-3.6zM203.3 114.6h5.3v2.7h-5.3zM201.6 117.1h10.4v2.7h-10.4zM199.9 119.6h12.1v2.7h-12.1zM199.9 122.1h12.1v2.7h-12.1zM75 124.7h5.3v2.7h-5.3zM201.6 124.7h10.4v2.7h-10.4zM73.3 127.2h8.7v2.7h-8.7zM201.6 127.2h10.4v2.7h-10.4zM76.7 129.7h3.6v2.7h-3.6zM99 142.4h1.9v2.7h-1.9zM28.8 167.7h1.9v2.7h-1.9zM18.6 198h3.6v2.7h-3.6zM18.6 200.6h3.6v2.7h-3.6zM85.3 213.2h1.9v2.7h-1.9zM11.7 228.4h1.9v2.7h-1.9zM170.8 246.1h1.9v2.7h-1.9z"/>
</g>
<g fill="none" stroke="#0d0d0d" stroke-width="0.7" stroke-linejoin="round"><use href="#land"/><use href="#nod"/><use href="#bord"/></g>
</g></g>
<g transform="translate(99 389.1) scale(1)" clip-path="url(#pca)">
<rect width="211.5" height="253.2" fill="#EBEBEB"/>
<rect x="3.5" y="4" width="205.0" height="244.7" fill="#F2F2F2"/>
<g transform="translate(0 0)">
<g mask="url(#lm)" clip-path="url(#rca)"><rect width="215" height="256" fill="#B2D5E7"/>
<path fill="#327CB8" d="M196.5 170.2h3.6v2.7h-3.6zM199.9 172.7h3.6v2.7h-3.6zM201.6 175.3h1.9v2.7h-1.9zM134.9 241.1h10.4v2.7h-10.4zM133.2 243.6h15.5v2.7h-15.5zM131.5 246.1h17.3v2.7h-17.3zM129.8 248.6h19v2.7h-19zM129.8 251.2h19v2.7h-19z"/><path fill="#6AACD0" d="M162.3 -1.8h1.9v2.7h-1.9zM110.9 64h1.9v2.7h-1.9zM83.6 69h1.9v2.7h-1.9zM76.7 71.5h1.9v2.7h-1.9zM117.8 91.8h1.9v2.7h-1.9zM162.3 91.8h1.9v2.7h-1.9zM162.3 94.3h3.6v2.7h-3.6zM205 104.4h1.9v2.7h-1.9zM47.7 109.5h1.9v2.7h-1.9zM112.7 109.5h3.6v2.7h-3.6zM109.2 112h1.9v2.7h-1.9zM131.5 112h1.9v2.7h-1.9zM129.8 114.6h3.6v2.7h-3.6zM174.2 114.6h1.9v2.7h-1.9zM110.9 124.7h1.9v2.7h-1.9zM172.5 134.8h1.9v2.7h-1.9zM92.1 137.3h1.9v2.7h-1.9zM199.9 137.3h1.9v2.7h-1.9zM153.7 139.9h3.6v2.7h-3.6zM205 139.9h3.6v2.7h-3.6zM150.3 142.4h8.7v2.7h-8.7zM205 142.4h3.6v2.7h-3.6zM160.5 144.9h1.9v2.7h-1.9zM203.3 144.9h3.6v2.7h-3.6zM81.9 147.4h1.9v2.7h-1.9zM174.2 147.4h1.9v2.7h-1.9zM124.6 150h1.9v2.7h-1.9zM206.7 152.5h1.9v2.7h-1.9zM177.7 155h7v2.7h-7zM157.1 157.6h3.6v2.7h-3.6zM177.7 157.6h15.5v2.7h-15.5zM157.1 160.1h3.6v2.7h-3.6zM177.7 160.1h17.3v2.7h-17.3zM155.4 162.6h5.3v2.7h-5.3zM177.7 162.6h20.7v2.7h-20.7zM155.4 165.2h5.3v2.7h-5.3zM162.3 165.2h1.9v2.7h-1.9zM182.8 165.2h20.7v2.7h-20.7zM186.2 167.7h19v2.7h-19zM187.9 170.2h1.9v2.7h-1.9zM191.3 170.2h5.3v2.7h-5.3zM199.9 170.2h8.7v2.7h-8.7zM193 172.7h7v2.7h-7zM203.3 172.7h8.7v2.7h-8.7zM170.8 175.3h1.9v2.7h-1.9zM194.8 175.3h7v2.7h-7zM203.3 175.3h10.4v2.7h-10.4zM20.3 177.8h3.6v2.7h-3.6zM169.1 177.8h3.6v2.7h-3.6zM199.9 177.8h13.8v2.7h-13.8zM95.5 180.3h1.9v2.7h-1.9zM169.1 180.3h3.6v2.7h-3.6zM201.6 180.3h12.1v2.7h-12.1zM78.4 182.9h5.3v2.7h-5.3zM141.7 182.9h1.9v2.7h-1.9zM169.1 182.9h3.6v2.7h-3.6zM186.2 182.9h1.9v2.7h-1.9zM203.3 182.9h10.4v2.7h-10.4zM75 185.4h12.1v2.7h-12.1zM138.3 185.4h1.9v2.7h-1.9zM205 185.4h8.7v2.7h-8.7zM76.7 187.9h10.4v2.7h-10.4zM182.8 187.9h8.7v2.7h-8.7zM208.4 187.9h5.3v2.7h-5.3zM174.2 190.5h1.9v2.7h-1.9zM182.8 190.5h8.7v2.7h-8.7zM210.2 190.5h3.6v2.7h-3.6zM174.2 193h1.9v2.7h-1.9zM182.8 193h10.4v2.7h-10.4zM211.9 193h1.9v2.7h-1.9zM78.4 195.5h1.9v2.7h-1.9zM182.8 195.5h15.5v2.7h-15.5zM57.9 198h3.6v2.7h-3.6zM71.6 198h3.6v2.7h-3.6zM104.1 198h1.9v2.7h-1.9zM182.8 198h7v2.7h-7zM194.8 198h7v2.7h-7zM57.9 200.6h3.6v2.7h-3.6zM71.6 200.6h3.6v2.7h-3.6zM182.8 200.6h5.3v2.7h-5.3zM196.5 200.6h5.3v2.7h-5.3zM71.6 203.1h3.6v2.7h-3.6zM184.5 203.1h5.3v2.7h-5.3zM198.2 203.1h3.6v2.7h-3.6zM71.6 205.6h3.6v2.7h-3.6zM184.5 205.6h10.4v2.7h-10.4zM71.6 208.2h3.6v2.7h-3.6zM134.9 208.2h5.3v2.7h-5.3zM184.5 208.2h10.4v2.7h-10.4zM71.6 210.7h3.6v2.7h-3.6zM133.2 210.7h8.7v2.7h-8.7zM184.5 210.7h8.7v2.7h-8.7zM71.6 213.2h3.6v2.7h-3.6zM133.2 213.2h3.6v2.7h-3.6zM184.5 213.2h7v2.7h-7zM39.1 215.8h1.9v2.7h-1.9zM52.8 215.8h1.9v2.7h-1.9zM186.2 215.8h5.3v2.7h-5.3zM165.7 218.3h3.6v2.7h-3.6zM182.8 218.3h1.9v2.7h-1.9zM174.2 220.8h3.6v2.7h-3.6zM182.8 220.8h1.9v2.7h-1.9zM42.5 223.3h1.9v2.7h-1.9zM158.8 223.3h5.3v2.7h-5.3zM175.9 223.3h3.6v2.7h-3.6zM158.8 225.9h5.3v2.7h-5.3zM169.1 225.9h3.6v2.7h-3.6zM175.9 225.9h3.6v2.7h-3.6zM169.1 228.4h5.3v2.7h-5.3zM63 230.9h1.9v2.7h-1.9zM172.5 230.9h7v2.7h-7zM110.9 233.5h1.9v2.7h-1.9zM174.2 233.5h5.3v2.7h-5.3zM92.1 236h1.9v2.7h-1.9zM102.4 236h3.6v2.7h-3.6zM116.1 236h1.9v2.7h-1.9zM133.2 236h7v2.7h-7zM157.1 236h3.6v2.7h-3.6zM175.9 236h5.3v2.7h-5.3zM78.4 238.5h13.8v2.7h-13.8zM93.8 238.5h12.1v2.7h-12.1zM107.5 238.5h12.1v2.7h-12.1zM122.9 238.5h5.3v2.7h-5.3zM129.8 238.5h22.4v2.7h-22.4zM179.4 238.5h1.9v2.7h-1.9zM73.3 241.1h61.7v2.7h-61.7zM145.2 241.1h7v2.7h-7zM73.3 243.6h13.8v2.7h-13.8zM90.4 243.6h7v2.7h-7zM99 243.6h34.4v2.7h-34.4zM148.6 243.6h3.6v2.7h-3.6zM64.8 246.1h5.3v2.7h-5.3zM73.3 246.1h19v2.7h-19zM93.8 246.1h32.6v2.7h-32.6zM128 246.1h3.6v2.7h-3.6zM148.6 246.1h5.3v2.7h-5.3zM73.3 248.6h56.6v2.7h-56.6zM148.6 248.6h5.3v2.7h-5.3zM59.6 251.2h1.9v2.7h-1.9zM73.3 251.2h19v2.7h-19zM93.8 251.2h19v2.7h-19zM114.4 251.2h10.4v2.7h-10.4zM126.3 251.2h3.6v2.7h-3.6zM148.6 251.2h5.3v2.7h-5.3z"/><path fill="#E4EEF4" d="M63 -1.8h5.3v2.7h-5.3zM105.8 -1.8h15.5v2.7h-15.5zM122.9 -1.8h36.1v2.7h-36.1zM186.2 -1.8h3.6v2.7h-3.6zM61.3 0.7h7v2.7h-7zM107.5 0.7h49.8v2.7h-49.8zM181.1 0.7h1.9v2.7h-1.9zM52.8 3.2h15.5v2.7h-15.5zM107.5 3.2h48v2.7h-48zM179.4 3.2h1.9v2.7h-1.9zM203.3 3.2h1.9v2.7h-1.9zM49.4 5.8h17.3v2.7h-17.3zM109.2 5.8h48v2.7h-48zM158.8 5.8h1.9v2.7h-1.9zM199.9 5.8h1.9v2.7h-1.9zM49.4 8.3h17.3v2.7h-17.3zM109.2 8.3h51.5v2.7h-51.5zM199.9 8.3h1.9v2.7h-1.9zM30.5 10.8h3.6v2.7h-3.6zM39.1 10.8h20.7v2.7h-20.7zM109.2 10.8h48v2.7h-48zM25.4 13.4h8.7v2.7h-8.7zM37.4 13.4h20.7v2.7h-20.7zM109.2 13.4h36.1v2.7h-36.1zM148.6 13.4h10.4v2.7h-10.4zM174.2 13.4h1.9v2.7h-1.9zM23.7 15.9h32.6v2.7h-32.6zM110.9 15.9h29.2v2.7h-29.2zM148.6 15.9h12.1v2.7h-12.1zM23.7 18.4h39.5v2.7h-39.5zM112.7 18.4h25.8v2.7h-25.8zM145.2 18.4h17.3v2.7h-17.3zM22 20.9h42.9v2.7h-42.9zM117.8 20.9h15.5v2.7h-15.5zM140 20.9h24.1v2.7h-24.1zM20.3 23.5h46.3v2.7h-46.3zM121.2 23.5h7v2.7h-7zM138.3 23.5h25.8v2.7h-25.8zM20.3 26h46.3v2.7h-46.3zM131.5 26h32.6v2.7h-32.6zM205 26h1.9v2.7h-1.9zM20.3 28.5h44.6v2.7h-44.6zM129.8 28.5h36.1v2.7h-36.1zM20.3 31.1h42.9v2.7h-42.9zM128 31.1h15.5v2.7h-15.5zM146.9 31.1h17.3v2.7h-17.3zM179.4 31.1h1.9v2.7h-1.9zM22 33.6h39.5v2.7h-39.5zM128 33.6h15.5v2.7h-15.5zM146.9 33.6h19v2.7h-19zM23.7 36.1h30.9v2.7h-30.9zM56.2 36.1h3.6v2.7h-3.6zM128 36.1h7v2.7h-7zM138.3 36.1h27.5v2.7h-27.5zM25.4 38.7h37.8v2.7h-37.8zM128 38.7h5.3v2.7h-5.3zM140 38.7h25.8v2.7h-25.8zM167.4 38.7h3.6v2.7h-3.6zM177.7 38.7h1.9v2.7h-1.9zM27.1 41.2h39.5v2.7h-39.5zM128 41.2h5.3v2.7h-5.3zM138.3 41.2h36.1v2.7h-36.1zM25.4 43.7h41.2v2.7h-41.2zM128 43.7h3.6v2.7h-3.6zM138.3 43.7h36.1v2.7h-36.1zM15.2 46.2h5.3v2.7h-5.3zM27.1 46.2h39.5v2.7h-39.5zM128 46.2h1.9v2.7h-1.9zM138.3 46.2h17.3v2.7h-17.3zM158.8 46.2h15.5v2.7h-15.5zM13.4 48.8h53.2v2.7h-53.2zM136.6 48.8h5.3v2.7h-5.3zM143.4 48.8h13.8v2.7h-13.8zM158.8 48.8h15.5v2.7h-15.5zM11.7 51.3h49.8v2.7h-49.8zM129.8 51.3h3.6v2.7h-3.6zM134.9 51.3h34.4v2.7h-34.4zM186.2 51.3h3.6v2.7h-3.6zM210.2 51.3h3.6v2.7h-3.6zM4.9 53.8h54.9v2.7h-54.9zM128 53.8h41.2v2.7h-41.2zM181.1 53.8h19v2.7h-19zM203.3 53.8h10.4v2.7h-10.4zM3.2 56.4h53.2v2.7h-53.2zM129.8 56.4h41.2v2.7h-41.2zM172.5 56.4h1.9v2.7h-1.9zM179.4 56.4h34.4v2.7h-34.4zM3.2 58.9h51.5v2.7h-51.5zM73.3 58.9h1.9v2.7h-1.9zM129.8 58.9h10.4v2.7h-10.4zM143.4 58.9h29.2v2.7h-29.2zM179.4 58.9h34.4v2.7h-34.4zM3.2 61.4h5.3v2.7h-5.3zM10 61.4h37.8v2.7h-37.8zM51.1 61.4h3.6v2.7h-3.6zM131.5 61.4h8.7v2.7h-8.7zM143.4 61.4h30.9v2.7h-30.9zM179.4 61.4h34.4v2.7h-34.4zM3.2 64h32.6v2.7h-32.6zM40.8 64h13.8v2.7h-13.8zM107.5 64h1.9v2.7h-1.9zM136.6 64h36.1v2.7h-36.1zM179.4 64h3.6v2.7h-3.6zM186.2 64h27.5v2.7h-27.5zM3.2 66.5h32.6v2.7h-32.6zM40.8 66.5h13.8v2.7h-13.8zM71.6 66.5h1.9v2.7h-1.9zM138.3 66.5h32.6v2.7h-32.6zM172.5 66.5h1.9v2.7h-1.9zM179.4 66.5h5.3v2.7h-5.3zM186.2 66.5h27.5v2.7h-27.5zM3.2 69h7v2.7h-7zM11.7 69h25.8v2.7h-25.8zM40.8 69h13.8v2.7h-13.8zM81.9 69h1.9v2.7h-1.9zM140 69h30.9v2.7h-30.9zM179.4 69h34.4v2.7h-34.4zM4.9 71.5h19v2.7h-19zM25.4 71.5h29.2v2.7h-29.2zM145.2 71.5h24.1v2.7h-24.1zM179.4 71.5h34.4v2.7h-34.4zM4.9 74.1h30.9v2.7h-30.9zM39.1 74.1h7v2.7h-7zM47.7 74.1h7v2.7h-7zM146.9 74.1h17.3v2.7h-17.3zM179.4 74.1h34.4v2.7h-34.4zM1.5 76.6h25.8v2.7h-25.8zM28.8 76.6h7v2.7h-7zM39.1 76.6h15.5v2.7h-15.5zM146.9 76.6h5.3v2.7h-5.3zM179.4 76.6h8.7v2.7h-8.7zM193 76.6h20.7v2.7h-20.7zM1.5 79.1h24.1v2.7h-24.1zM28.8 79.1h25.8v2.7h-25.8zM73.3 79.1h1.9v2.7h-1.9zM124.6 79.1h1.9v2.7h-1.9zM158.8 79.1h1.9v2.7h-1.9zM177.7 79.1h10.4v2.7h-10.4zM193 79.1h20.7v2.7h-20.7zM3.2 81.7h22.4v2.7h-22.4zM27.1 81.7h27.5v2.7h-27.5zM179.4 81.7h10.4v2.7h-10.4zM194.8 81.7h12.1v2.7h-12.1zM210.2 81.7h3.6v2.7h-3.6zM1.5 84.2h22.4v2.7h-22.4zM35.7 84.2h20.7v2.7h-20.7zM105.8 84.2h1.9v2.7h-1.9zM117.8 84.2h1.9v2.7h-1.9zM181.1 84.2h25.8v2.7h-25.8zM211.9 84.2h1.9v2.7h-1.9zM3.2 86.7h17.3v2.7h-17.3zM37.4 86.7h20.7v2.7h-20.7zM182.8 86.7h22.4v2.7h-22.4zM211.9 86.7h1.9v2.7h-1.9zM6.6 89.3h7v2.7h-7zM40.8 89.3h15.5v2.7h-15.5zM80.2 89.3h1.9v2.7h-1.9zM177.7 89.3h1.9v2.7h-1.9zM182.8 89.3h24.1v2.7h-24.1zM39.1 91.8h15.5v2.7h-15.5zM81.9 91.8h1.9v2.7h-1.9zM97.3 91.8h1.9v2.7h-1.9zM155.4 91.8h1.9v2.7h-1.9zM187.9 91.8h24.1v2.7h-24.1zM37.4 94.3h15.5v2.7h-15.5zM194.8 94.3h5.3v2.7h-5.3zM32.3 96.8h20.7v2.7h-20.7zM32.3 99.4h20.7v2.7h-20.7zM100.7 99.4h1.9v2.7h-1.9zM133.2 99.4h5.3v2.7h-5.3zM141.7 99.4h1.9v2.7h-1.9zM181.1 99.4h1.9v2.7h-1.9zM206.7 99.4h1.9v2.7h-1.9zM30.5 101.9h15.5v2.7h-15.5zM56.2 101.9h3.6v2.7h-3.6zM133.2 101.9h15.5v2.7h-15.5zM169.1 101.9h13.8v2.7h-13.8zM30.5 104.4h3.6v2.7h-3.6zM69.9 104.4h1.9v2.7h-1.9zM73.3 104.4h7v2.7h-7zM85.3 104.4h1.9v2.7h-1.9zM134.9 104.4h17.3v2.7h-17.3zM153.7 104.4h5.3v2.7h-5.3zM61.3 107h17.3v2.7h-17.3zM83.6 107h5.3v2.7h-5.3zM138.3 107h19v2.7h-19zM164 107h1.9v2.7h-1.9zM199.9 107h12.1v2.7h-12.1zM61.3 109.5h19v2.7h-19zM128 109.5h1.9v2.7h-1.9zM138.3 109.5h19v2.7h-19zM193 109.5h3.6v2.7h-3.6zM199.9 109.5h13.8v2.7h-13.8zM51.1 112h30.9v2.7h-30.9zM99 112h1.9v2.7h-1.9zM141.7 112h17.3v2.7h-17.3zM191.3 112h22.4v2.7h-22.4zM49.4 114.6h5.3v2.7h-5.3zM56.2 114.6h8.7v2.7h-8.7zM78.4 114.6h5.3v2.7h-5.3zM145.2 114.6h15.5v2.7h-15.5zM189.6 114.6h24.1v2.7h-24.1zM51.1 117.1h1.9v2.7h-1.9zM59.6 117.1h1.9v2.7h-1.9zM68.2 117.1h1.9v2.7h-1.9zM78.4 117.1h5.3v2.7h-5.3zM150.3 117.1h12.1v2.7h-12.1zM175.9 117.1h1.9v2.7h-1.9zM189.6 117.1h22.4v2.7h-22.4zM85.3 119.6h1.9v2.7h-1.9zM152 119.6h10.4v2.7h-10.4zM172.5 119.6h12.1v2.7h-12.1zM189.6 119.6h24.1v2.7h-24.1zM157.1 122.1h8.7v2.7h-8.7zM169.1 122.1h17.3v2.7h-17.3zM187.9 122.1h25.8v2.7h-25.8zM134.9 124.7h7v2.7h-7zM143.4 124.7h5.3v2.7h-5.3zM157.1 124.7h29.2v2.7h-29.2zM189.6 124.7h3.6v2.7h-3.6zM196.5 124.7h17.3v2.7h-17.3zM87 127.2h3.6v2.7h-3.6zM119.5 127.2h5.3v2.7h-5.3zM128 127.2h54.9v2.7h-54.9zM198.2 127.2h3.6v2.7h-3.6zM87 129.7h1.9v2.7h-1.9zM97.3 129.7h1.9v2.7h-1.9zM117.8 129.7h51.5v2.7h-51.5zM179.4 129.7h3.6v2.7h-3.6zM99 132.3h1.9v2.7h-1.9zM112.7 132.3h1.9v2.7h-1.9zM117.8 132.3h41.2v2.7h-41.2zM170.8 132.3h1.9v2.7h-1.9zM199.9 132.3h1.9v2.7h-1.9zM117.8 134.8h20.7v2.7h-20.7zM140 134.8h5.3v2.7h-5.3zM146.9 134.8h8.7v2.7h-8.7zM158.8 134.8h3.6v2.7h-3.6zM116.1 137.3h25.8v2.7h-25.8zM116.1 139.9h24.1v2.7h-24.1zM167.4 139.9h1.9v2.7h-1.9zM104.1 142.4h1.9v2.7h-1.9zM116.1 142.4h13.8v2.7h-13.8zM136.6 142.4h1.9v2.7h-1.9zM99 144.9h1.9v2.7h-1.9zM116.1 144.9h10.4v2.7h-10.4zM97.3 147.4h1.9v2.7h-1.9zM116.1 147.4h8.7v2.7h-8.7zM107.5 150h3.6v2.7h-3.6zM114.4 150h8.7v2.7h-8.7zM193 150h1.9v2.7h-1.9zM93.8 152.5h1.9v2.7h-1.9zM107.5 152.5h3.6v2.7h-3.6zM114.4 152.5h8.7v2.7h-8.7zM140 152.5h1.9v2.7h-1.9zM71.6 155h1.9v2.7h-1.9zM105.8 155h7v2.7h-7zM117.8 155h3.6v2.7h-3.6zM107.5 157.6h3.6v2.7h-3.6zM122.9 157.6h1.9v2.7h-1.9zM128 157.6h1.9v2.7h-1.9zM85.3 165.2h1.9v2.7h-1.9zM18.6 167.7h5.3v2.7h-5.3zM15.2 170.2h10.4v2.7h-10.4zM15.2 172.7h7v2.7h-7zM78.4 172.7h3.6v2.7h-3.6zM119.5 172.7h1.9v2.7h-1.9zM73.3 175.3h10.4v2.7h-10.4zM35.7 180.3h3.6v2.7h-3.6zM45.9 182.9h1.9v2.7h-1.9zM174.2 182.9h1.9v2.7h-1.9zM20.3 193h1.9v2.7h-1.9zM27.1 193h1.9v2.7h-1.9zM35.7 193h1.9v2.7h-1.9zM169.1 195.5h1.9v2.7h-1.9zM35.7 198h3.6v2.7h-3.6zM37.4 200.6h3.6v2.7h-3.6zM97.3 200.6h1.9v2.7h-1.9zM39.1 203.1h1.9v2.7h-1.9zM175.9 203.1h1.9v2.7h-1.9zM37.4 205.6h1.9v2.7h-1.9zM211.9 205.6h1.9v2.7h-1.9zM56.2 210.7h1.9v2.7h-1.9zM15.2 213.2h1.9v2.7h-1.9zM15.2 223.3h5.3v2.7h-5.3zM40.8 223.3h1.9v2.7h-1.9zM15.2 225.9h5.3v2.7h-5.3zM25.4 225.9h1.9v2.7h-1.9zM15.2 228.4h3.6v2.7h-3.6zM68.2 228.4h1.9v2.7h-1.9zM28.8 230.9h1.9v2.7h-1.9zM105.8 230.9h1.9v2.7h-1.9zM25.4 233.5h1.9v2.7h-1.9zM59.6 233.5h1.9v2.7h-1.9zM81.9 233.5h1.9v2.7h-1.9zM138.3 233.5h1.9v2.7h-1.9zM61.3 246.1h1.9v2.7h-1.9z"/>
</g>
<g fill="none" stroke="#0d0d0d" stroke-width="0.7" stroke-linejoin="round"><use href="#land"/><use href="#nod"/><use href="#bord"/></g>
</g></g>
<g transform="translate(324.5 122.6) scale(1)" clip-path="url(#pca)">
<rect width="211.5" height="253.2" fill="#EBEBEB"/>
<rect x="3.5" y="4" width="205.0" height="244.7" fill="#F2F2F2"/>
<g transform="translate(0 0)">
<g mask="url(#lm)" clip-path="url(#rca)"><rect width="215" height="256" fill="#E4EEF4"/>
<path fill="#FAE9DF" d="M68.2 -1.8h1.9v2.7h-1.9zM184.5 -1.8h1.9v2.7h-1.9zM196.5 -1.8h1.9v2.7h-1.9zM162.3 0.7h1.9v2.7h-1.9zM181.1 0.7h5.3v2.7h-5.3zM52.8 3.2h1.9v2.7h-1.9zM164 3.2h5.3v2.7h-5.3zM110.9 5.8h3.6v2.7h-3.6zM141.7 5.8h1.9v2.7h-1.9zM148.6 5.8h1.9v2.7h-1.9zM165.7 5.8h1.9v2.7h-1.9zM49.4 8.3h3.6v2.7h-3.6zM110.9 8.3h5.3v2.7h-5.3zM158.8 8.3h1.9v2.7h-1.9zM30.5 10.8h1.9v2.7h-1.9zM39.1 10.8h8.7v2.7h-8.7zM51.1 10.8h1.9v2.7h-1.9zM110.9 10.8h5.3v2.7h-5.3zM27.1 13.4h15.5v2.7h-15.5zM45.9 13.4h1.9v2.7h-1.9zM110.9 13.4h3.6v2.7h-3.6zM136.6 13.4h1.9v2.7h-1.9zM148.6 13.4h1.9v2.7h-1.9zM186.2 13.4h1.9v2.7h-1.9zM28.8 15.9h1.9v2.7h-1.9zM32.3 15.9h10.4v2.7h-10.4zM110.9 15.9h3.6v2.7h-3.6zM116.1 15.9h1.9v2.7h-1.9zM121.2 15.9h1.9v2.7h-1.9zM129.8 15.9h5.3v2.7h-5.3zM136.6 15.9h3.6v2.7h-3.6zM34 18.4h12.1v2.7h-12.1zM57.9 18.4h5.3v2.7h-5.3zM32.3 20.9h7v2.7h-7zM40.8 20.9h5.3v2.7h-5.3zM57.9 20.9h7v2.7h-7zM22 23.5h3.6v2.7h-3.6zM30.5 23.5h3.6v2.7h-3.6zM57.9 23.5h8.7v2.7h-8.7zM22 26h3.6v2.7h-3.6zM30.5 26h1.9v2.7h-1.9zM42.5 26h3.6v2.7h-3.6zM51.1 26h3.6v2.7h-3.6zM57.9 26h1.9v2.7h-1.9zM61.3 26h5.3v2.7h-5.3zM20.3 28.5h7v2.7h-7zM30.5 28.5h1.9v2.7h-1.9zM39.1 28.5h7v2.7h-7zM51.1 28.5h5.3v2.7h-5.3zM57.9 28.5h7v2.7h-7zM25.4 31.1h1.9v2.7h-1.9zM39.1 31.1h7v2.7h-7zM49.4 31.1h1.9v2.7h-1.9zM52.8 31.1h3.6v2.7h-3.6zM57.9 31.1h5.3v2.7h-5.3zM131.5 31.1h1.9v2.7h-1.9zM162.3 31.1h3.6v2.7h-3.6zM23.7 33.6h5.3v2.7h-5.3zM51.1 33.6h3.6v2.7h-3.6zM57.9 33.6h3.6v2.7h-3.6zM131.5 33.6h1.9v2.7h-1.9zM160.5 33.6h7v2.7h-7zM27.1 36.1h5.3v2.7h-5.3zM35.7 36.1h1.9v2.7h-1.9zM51.1 36.1h3.6v2.7h-3.6zM57.9 36.1h1.9v2.7h-1.9zM131.5 36.1h1.9v2.7h-1.9zM160.5 36.1h7v2.7h-7zM28.8 38.7h7v2.7h-7zM44.2 38.7h12.1v2.7h-12.1zM59.6 38.7h3.6v2.7h-3.6zM131.5 38.7h1.9v2.7h-1.9zM160.5 38.7h7v2.7h-7zM28.8 41.2h3.6v2.7h-3.6zM49.4 41.2h8.7v2.7h-8.7zM59.6 41.2h7v2.7h-7zM131.5 41.2h1.9v2.7h-1.9zM160.5 41.2h1.9v2.7h-1.9zM164 41.2h3.6v2.7h-3.6zM42.5 43.7h1.9v2.7h-1.9zM47.7 43.7h10.4v2.7h-10.4zM59.6 43.7h7v2.7h-7zM131.5 43.7h3.6v2.7h-3.6zM39.1 46.2h1.9v2.7h-1.9zM44.2 46.2h24.1v2.7h-24.1zM129.8 46.2h3.6v2.7h-3.6zM40.8 48.8h7v2.7h-7zM51.1 48.8h5.3v2.7h-5.3zM57.9 48.8h10.4v2.7h-10.4zM131.5 48.8h1.9v2.7h-1.9zM45.9 51.3h3.6v2.7h-3.6zM56.2 51.3h15.5v2.7h-15.5zM131.5 51.3h1.9v2.7h-1.9zM172.5 51.3h1.9v2.7h-1.9zM51.1 53.8h1.9v2.7h-1.9zM57.9 53.8h8.7v2.7h-8.7zM69.9 53.8h1.9v2.7h-1.9zM177.7 53.8h1.9v2.7h-1.9zM47.7 56.4h5.3v2.7h-5.3zM57.9 56.4h8.7v2.7h-8.7zM69.9 56.4h1.9v2.7h-1.9zM131.5 56.4h1.9v2.7h-1.9zM158.8 56.4h8.7v2.7h-8.7zM16.9 58.9h8.7v2.7h-8.7zM49.4 58.9h1.9v2.7h-1.9zM52.8 58.9h1.9v2.7h-1.9zM59.6 58.9h10.4v2.7h-10.4zM148.6 58.9h1.9v2.7h-1.9zM153.7 58.9h13.8v2.7h-13.8zM18.6 61.4h7v2.7h-7zM45.9 61.4h1.9v2.7h-1.9zM61.3 61.4h8.7v2.7h-8.7zM8.3 64h1.9v2.7h-1.9zM15.2 64h12.1v2.7h-12.1zM28.8 64h3.6v2.7h-3.6zM45.9 64h3.6v2.7h-3.6zM54.5 64h17.3v2.7h-17.3zM75 64h1.9v2.7h-1.9zM124.6 64h3.6v2.7h-3.6zM140 64h1.9v2.7h-1.9zM18.6 66.5h13.8v2.7h-13.8zM52.8 66.5h17.3v2.7h-17.3zM76.7 66.5h1.9v2.7h-1.9zM109.2 66.5h22.4v2.7h-22.4zM134.9 66.5h1.9v2.7h-1.9zM201.6 66.5h3.6v2.7h-3.6zM15.2 69h12.1v2.7h-12.1zM40.8 69h1.9v2.7h-1.9zM51.1 69h1.9v2.7h-1.9zM54.5 69h12.1v2.7h-12.1zM68.2 69h3.6v2.7h-3.6zM83.6 69h1.9v2.7h-1.9zM109.2 69h12.1v2.7h-12.1zM122.9 69h3.6v2.7h-3.6zM196.5 69h1.9v2.7h-1.9zM199.9 69h5.3v2.7h-5.3zM13.4 71.5h10.4v2.7h-10.4zM52.8 71.5h10.4v2.7h-10.4zM64.8 71.5h1.9v2.7h-1.9zM78.4 71.5h3.6v2.7h-3.6zM83.6 71.5h3.6v2.7h-3.6zM138.3 71.5h1.9v2.7h-1.9zM198.2 71.5h8.7v2.7h-8.7zM18.6 74.1h7v2.7h-7zM52.8 74.1h8.7v2.7h-8.7zM83.6 74.1h3.6v2.7h-3.6zM203.3 74.1h1.9v2.7h-1.9zM18.6 76.6h5.3v2.7h-5.3zM39.1 76.6h1.9v2.7h-1.9zM42.5 76.6h1.9v2.7h-1.9zM52.8 76.6h8.7v2.7h-8.7zM63 76.6h1.9v2.7h-1.9zM76.7 76.6h1.9v2.7h-1.9zM83.6 76.6h5.3v2.7h-5.3zM136.6 76.6h1.9v2.7h-1.9zM32.3 79.1h1.9v2.7h-1.9zM37.4 79.1h8.7v2.7h-8.7zM52.8 79.1h7v2.7h-7zM61.3 79.1h5.3v2.7h-5.3zM75 79.1h3.6v2.7h-3.6zM133.2 79.1h1.9v2.7h-1.9zM160.5 79.1h1.9v2.7h-1.9zM37.4 81.7h8.7v2.7h-8.7zM52.8 81.7h1.9v2.7h-1.9zM63 81.7h3.6v2.7h-3.6zM75 81.7h3.6v2.7h-3.6zM81.9 81.7h3.6v2.7h-3.6zM126.3 81.7h1.9v2.7h-1.9zM136.6 81.7h1.9v2.7h-1.9zM157.1 81.7h7v2.7h-7zM39.1 84.2h7v2.7h-7zM56.2 84.2h1.9v2.7h-1.9zM63 84.2h3.6v2.7h-3.6zM69.9 84.2h1.9v2.7h-1.9zM75 84.2h5.3v2.7h-5.3zM81.9 84.2h1.9v2.7h-1.9zM155.4 84.2h8.7v2.7h-8.7zM187.9 84.2h1.9v2.7h-1.9zM37.4 86.7h8.7v2.7h-8.7zM51.1 86.7h1.9v2.7h-1.9zM63 86.7h5.3v2.7h-5.3zM76.7 86.7h7v2.7h-7zM155.4 86.7h7v2.7h-7zM40.8 89.3h5.3v2.7h-5.3zM61.3 89.3h17.3v2.7h-17.3zM80.2 89.3h3.6v2.7h-3.6zM155.4 89.3h7v2.7h-7zM40.8 91.8h7v2.7h-7zM49.4 91.8h5.3v2.7h-5.3zM64.8 91.8h1.9v2.7h-1.9zM69.9 91.8h5.3v2.7h-5.3zM124.6 91.8h1.9v2.7h-1.9zM157.1 91.8h1.9v2.7h-1.9zM42.5 94.3h5.3v2.7h-5.3zM49.4 94.3h3.6v2.7h-3.6zM63 94.3h3.6v2.7h-3.6zM69.9 94.3h5.3v2.7h-5.3zM51.1 96.8h3.6v2.7h-3.6zM64.8 96.8h3.6v2.7h-3.6zM211.9 96.8h1.9v2.7h-1.9zM49.4 99.4h5.3v2.7h-5.3zM64.8 99.4h1.9v2.7h-1.9zM76.7 99.4h1.9v2.7h-1.9zM172.5 99.4h3.6v2.7h-3.6zM47.7 101.9h1.9v2.7h-1.9zM174.2 101.9h1.9v2.7h-1.9zM160.5 104.4h1.9v2.7h-1.9zM63 117.1h1.9v2.7h-1.9zM143.4 119.6h1.9v2.7h-1.9zM134.9 124.7h1.9v2.7h-1.9zM162.3 124.7h1.9v2.7h-1.9zM133.2 127.2h3.6v2.7h-3.6zM177.7 127.2h1.9v2.7h-1.9zM100.7 129.7h1.9v2.7h-1.9zM121.2 129.7h1.9v2.7h-1.9zM153.7 129.7h1.9v2.7h-1.9zM157.1 129.7h1.9v2.7h-1.9zM177.7 129.7h8.7v2.7h-8.7zM102.4 132.3h1.9v2.7h-1.9zM129.8 132.3h1.9v2.7h-1.9zM175.9 132.3h13.8v2.7h-13.8zM175.9 134.8h3.6v2.7h-3.6zM181.1 134.8h8.7v2.7h-8.7zM177.7 137.3h12.1v2.7h-12.1zM177.7 139.9h1.9v2.7h-1.9zM187.9 139.9h1.9v2.7h-1.9zM81.9 142.4h1.9v2.7h-1.9zM164 142.4h1.9v2.7h-1.9zM128 147.4h1.9v2.7h-1.9zM152 147.4h3.6v2.7h-3.6zM169.1 147.4h1.9v2.7h-1.9zM210.2 147.4h1.9v2.7h-1.9zM122.9 150h1.9v2.7h-1.9zM129.8 150h3.6v2.7h-3.6zM152 150h3.6v2.7h-3.6zM189.6 150h1.9v2.7h-1.9zM80.2 152.5h1.9v2.7h-1.9zM107.5 152.5h1.9v2.7h-1.9zM143.4 152.5h1.9v2.7h-1.9zM146.9 152.5h1.9v2.7h-1.9zM150.3 152.5h5.3v2.7h-5.3zM162.3 152.5h1.9v2.7h-1.9zM182.8 152.5h1.9v2.7h-1.9zM134.9 155h1.9v2.7h-1.9zM143.4 155h1.9v2.7h-1.9zM148.6 155h12.1v2.7h-12.1zM184.5 155h1.9v2.7h-1.9zM105.8 157.6h1.9v2.7h-1.9zM138.3 157.6h1.9v2.7h-1.9zM143.4 157.6h3.6v2.7h-3.6zM148.6 157.6h13.8v2.7h-13.8zM64.8 160.1h7v2.7h-7zM140 160.1h7v2.7h-7zM155.4 160.1h7v2.7h-7zM189.6 160.1h1.9v2.7h-1.9zM27.1 162.6h8.7v2.7h-8.7zM68.2 162.6h1.9v2.7h-1.9zM145.2 162.6h3.6v2.7h-3.6zM153.7 162.6h8.7v2.7h-8.7zM189.6 162.6h1.9v2.7h-1.9zM203.3 162.6h1.9v2.7h-1.9zM11.7 165.2h5.3v2.7h-5.3zM20.3 165.2h1.9v2.7h-1.9zM28.8 165.2h8.7v2.7h-8.7zM47.7 165.2h1.9v2.7h-1.9zM66.5 165.2h3.6v2.7h-3.6zM122.9 165.2h1.9v2.7h-1.9zM143.4 165.2h7v2.7h-7zM153.7 165.2h12.1v2.7h-12.1zM179.4 165.2h1.9v2.7h-1.9zM11.7 167.7h8.7v2.7h-8.7zM28.8 167.7h10.4v2.7h-10.4zM45.9 167.7h3.6v2.7h-3.6zM54.5 167.7h1.9v2.7h-1.9zM64.8 167.7h5.3v2.7h-5.3zM146.9 167.7h19v2.7h-19zM8.3 170.2h1.9v2.7h-1.9zM16.9 170.2h3.6v2.7h-3.6zM28.8 170.2h12.1v2.7h-12.1zM42.5 170.2h13.8v2.7h-13.8zM61.3 170.2h8.7v2.7h-8.7zM148.6 170.2h8.7v2.7h-8.7zM162.3 170.2h8.7v2.7h-8.7zM16.9 172.7h3.6v2.7h-3.6zM22 172.7h1.9v2.7h-1.9zM27.1 172.7h30.9v2.7h-30.9zM61.3 172.7h8.7v2.7h-8.7zM80.2 172.7h3.6v2.7h-3.6zM92.1 172.7h3.6v2.7h-3.6zM153.7 172.7h1.9v2.7h-1.9zM165.7 172.7h7v2.7h-7zM15.2 175.3h8.7v2.7h-8.7zM27.1 175.3h12.1v2.7h-12.1zM40.8 175.3h15.5v2.7h-15.5zM59.6 175.3h8.7v2.7h-8.7zM78.4 175.3h7v2.7h-7zM87 175.3h8.7v2.7h-8.7zM165.7 175.3h7v2.7h-7zM13.4 177.8h12.1v2.7h-12.1zM27.1 177.8h12.1v2.7h-12.1zM42.5 177.8h8.7v2.7h-8.7zM54.5 177.8h3.6v2.7h-3.6zM61.3 177.8h10.4v2.7h-10.4zM73.3 177.8h1.9v2.7h-1.9zM78.4 177.8h7v2.7h-7zM90.4 177.8h3.6v2.7h-3.6zM131.5 177.8h1.9v2.7h-1.9zM155.4 177.8h1.9v2.7h-1.9zM165.7 177.8h7v2.7h-7zM11.7 180.3h25.8v2.7h-25.8zM45.9 180.3h5.3v2.7h-5.3zM56.2 180.3h3.6v2.7h-3.6zM61.3 180.3h1.9v2.7h-1.9zM64.8 180.3h8.7v2.7h-8.7zM75 180.3h10.4v2.7h-10.4zM92.1 180.3h3.6v2.7h-3.6zM155.4 180.3h1.9v2.7h-1.9zM167.4 180.3h5.3v2.7h-5.3zM175.9 180.3h1.9v2.7h-1.9zM13.4 182.9h5.3v2.7h-5.3zM20.3 182.9h1.9v2.7h-1.9zM23.7 182.9h12.1v2.7h-12.1zM45.9 182.9h1.9v2.7h-1.9zM57.9 182.9h3.6v2.7h-3.6zM68.2 182.9h5.3v2.7h-5.3zM75 182.9h10.4v2.7h-10.4zM90.4 182.9h3.6v2.7h-3.6zM160.5 182.9h3.6v2.7h-3.6zM169.1 182.9h5.3v2.7h-5.3zM13.4 185.4h7v2.7h-7zM22 185.4h13.8v2.7h-13.8zM37.4 185.4h7v2.7h-7zM45.9 185.4h1.9v2.7h-1.9zM52.8 185.4h7v2.7h-7zM66.5 185.4h5.3v2.7h-5.3zM75 185.4h12.1v2.7h-12.1zM95.5 185.4h1.9v2.7h-1.9zM160.5 185.4h1.9v2.7h-1.9zM164 185.4h1.9v2.7h-1.9zM172.5 185.4h7v2.7h-7zM184.5 185.4h1.9v2.7h-1.9zM13.4 187.9h3.6v2.7h-3.6zM18.6 187.9h3.6v2.7h-3.6zM23.7 187.9h1.9v2.7h-1.9zM27.1 187.9h3.6v2.7h-3.6zM37.4 187.9h7v2.7h-7zM52.8 187.9h7v2.7h-7zM64.8 187.9h19v2.7h-19zM172.5 187.9h1.9v2.7h-1.9zM186.2 187.9h7v2.7h-7zM15.2 190.5h3.6v2.7h-3.6zM25.4 190.5h1.9v2.7h-1.9zM28.8 190.5h1.9v2.7h-1.9zM32.3 190.5h20.7v2.7h-20.7zM54.5 190.5h5.3v2.7h-5.3zM64.8 190.5h19v2.7h-19zM167.4 190.5h1.9v2.7h-1.9zM189.6 190.5h3.6v2.7h-3.6zM196.5 190.5h1.9v2.7h-1.9zM13.4 193h12.1v2.7h-12.1zM28.8 193h20.7v2.7h-20.7zM51.1 193h1.9v2.7h-1.9zM63 193h1.9v2.7h-1.9zM66.5 193h13.8v2.7h-13.8zM81.9 193h3.6v2.7h-3.6zM167.4 193h1.9v2.7h-1.9zM196.5 193h1.9v2.7h-1.9zM13.4 195.5h8.7v2.7h-8.7zM40.8 195.5h7v2.7h-7zM66.5 195.5h10.4v2.7h-10.4zM83.6 195.5h1.9v2.7h-1.9zM138.3 195.5h1.9v2.7h-1.9zM167.4 195.5h3.6v2.7h-3.6zM187.9 195.5h1.9v2.7h-1.9zM191.3 195.5h7v2.7h-7zM15.2 198h1.9v2.7h-1.9zM20.3 198h1.9v2.7h-1.9zM35.7 198h7v2.7h-7zM49.4 198h1.9v2.7h-1.9zM56.2 198h5.3v2.7h-5.3zM68.2 198h7v2.7h-7zM76.7 198h1.9v2.7h-1.9zM187.9 198h10.4v2.7h-10.4zM39.1 200.6h1.9v2.7h-1.9zM56.2 200.6h5.3v2.7h-5.3zM66.5 200.6h7v2.7h-7zM75 200.6h1.9v2.7h-1.9zM129.8 200.6h1.9v2.7h-1.9zM181.1 200.6h3.6v2.7h-3.6zM186.2 200.6h15.5v2.7h-15.5zM13.4 203.1h1.9v2.7h-1.9zM18.6 203.1h1.9v2.7h-1.9zM57.9 203.1h15.5v2.7h-15.5zM179.4 203.1h22.4v2.7h-22.4zM8.3 205.6h7v2.7h-7zM16.9 205.6h3.6v2.7h-3.6zM37.4 205.6h3.6v2.7h-3.6zM42.5 205.6h1.9v2.7h-1.9zM52.8 205.6h1.9v2.7h-1.9zM56.2 205.6h1.9v2.7h-1.9zM59.6 205.6h3.6v2.7h-3.6zM64.8 205.6h12.1v2.7h-12.1zM181.1 205.6h13.8v2.7h-13.8zM199.9 205.6h3.6v2.7h-3.6zM208.4 205.6h1.9v2.7h-1.9zM8.3 208.2h8.7v2.7h-8.7zM18.6 208.2h1.9v2.7h-1.9zM27.1 208.2h1.9v2.7h-1.9zM35.7 208.2h3.6v2.7h-3.6zM42.5 208.2h3.6v2.7h-3.6zM49.4 208.2h8.7v2.7h-8.7zM59.6 208.2h8.7v2.7h-8.7zM71.6 208.2h1.9v2.7h-1.9zM81.9 208.2h3.6v2.7h-3.6zM181.1 208.2h13.8v2.7h-13.8zM6.6 210.7h8.7v2.7h-8.7zM18.6 210.7h1.9v2.7h-1.9zM25.4 210.7h5.3v2.7h-5.3zM35.7 210.7h3.6v2.7h-3.6zM40.8 210.7h5.3v2.7h-5.3zM56.2 210.7h8.7v2.7h-8.7zM68.2 210.7h8.7v2.7h-8.7zM80.2 210.7h7v2.7h-7zM181.1 210.7h5.3v2.7h-5.3zM187.9 210.7h7v2.7h-7zM6.6 213.2h8.7v2.7h-8.7zM25.4 213.2h22.4v2.7h-22.4zM56.2 213.2h8.7v2.7h-8.7zM66.5 213.2h10.4v2.7h-10.4zM181.1 213.2h1.9v2.7h-1.9zM184.5 213.2h10.4v2.7h-10.4zM8.3 215.8h8.7v2.7h-8.7zM27.1 215.8h10.4v2.7h-10.4zM39.1 215.8h13.8v2.7h-13.8zM56.2 215.8h22.4v2.7h-22.4zM179.4 215.8h3.6v2.7h-3.6zM189.6 215.8h5.3v2.7h-5.3zM10 218.3h7v2.7h-7zM28.8 218.3h3.6v2.7h-3.6zM34 218.3h1.9v2.7h-1.9zM40.8 218.3h15.5v2.7h-15.5zM57.9 218.3h1.9v2.7h-1.9zM61.3 218.3h17.3v2.7h-17.3zM181.1 218.3h1.9v2.7h-1.9zM191.3 218.3h1.9v2.7h-1.9zM10 220.8h5.3v2.7h-5.3zM30.5 220.8h1.9v2.7h-1.9zM40.8 220.8h3.6v2.7h-3.6zM49.4 220.8h17.3v2.7h-17.3zM69.9 220.8h5.3v2.7h-5.3zM169.1 220.8h1.9v2.7h-1.9zM181.1 220.8h1.9v2.7h-1.9zM11.7 223.3h7v2.7h-7zM40.8 223.3h3.6v2.7h-3.6zM49.4 223.3h1.9v2.7h-1.9zM52.8 223.3h5.3v2.7h-5.3zM59.6 223.3h1.9v2.7h-1.9zM63 223.3h5.3v2.7h-5.3zM69.9 223.3h3.6v2.7h-3.6zM179.4 223.3h3.6v2.7h-3.6zM186.2 223.3h1.9v2.7h-1.9zM13.4 225.9h5.3v2.7h-5.3zM40.8 225.9h1.9v2.7h-1.9zM54.5 225.9h3.6v2.7h-3.6zM63 225.9h10.4v2.7h-10.4zM15.2 228.4h3.6v2.7h-3.6zM32.3 228.4h3.6v2.7h-3.6zM57.9 228.4h5.3v2.7h-5.3zM66.5 228.4h7v2.7h-7zM131.5 228.4h1.9v2.7h-1.9zM134.9 228.4h1.9v2.7h-1.9zM140 228.4h1.9v2.7h-1.9zM34 230.9h3.6v2.7h-3.6zM51.1 230.9h3.6v2.7h-3.6zM56.2 230.9h13.8v2.7h-13.8zM117.8 230.9h5.3v2.7h-5.3zM126.3 230.9h1.9v2.7h-1.9zM129.8 230.9h7v2.7h-7zM143.4 230.9h8.7v2.7h-8.7zM30.5 233.5h8.7v2.7h-8.7zM40.8 233.5h3.6v2.7h-3.6zM49.4 233.5h1.9v2.7h-1.9zM52.8 233.5h12.1v2.7h-12.1zM85.3 233.5h3.6v2.7h-3.6zM90.4 233.5h5.3v2.7h-5.3zM114.4 233.5h3.6v2.7h-3.6zM121.2 233.5h8.7v2.7h-8.7zM134.9 233.5h19v2.7h-19zM30.5 236h13.8v2.7h-13.8zM49.4 236h10.4v2.7h-10.4zM85.3 236h12.1v2.7h-12.1zM124.6 236h10.4v2.7h-10.4zM140 236h13.8v2.7h-13.8zM32.3 238.5h22.4v2.7h-22.4zM56.2 238.5h1.9v2.7h-1.9zM85.3 238.5h13.8v2.7h-13.8zM122.9 238.5h3.6v2.7h-3.6zM128 238.5h7v2.7h-7zM141.7 238.5h1.9v2.7h-1.9zM145.2 238.5h7v2.7h-7zM32.3 241.1h10.4v2.7h-10.4zM71.6 241.1h3.6v2.7h-3.6zM83.6 241.1h15.5v2.7h-15.5zM102.4 241.1h1.9v2.7h-1.9zM124.6 241.1h1.9v2.7h-1.9zM128 241.1h8.7v2.7h-8.7zM143.4 241.1h8.7v2.7h-8.7zM32.3 243.6h8.7v2.7h-8.7zM69.9 243.6h5.3v2.7h-5.3zM80.2 243.6h20.7v2.7h-20.7zM128 243.6h8.7v2.7h-8.7zM145.2 243.6h3.6v2.7h-3.6zM150.3 243.6h1.9v2.7h-1.9zM35.7 246.1h3.6v2.7h-3.6zM61.3 246.1h1.9v2.7h-1.9zM66.5 246.1h37.8v2.7h-37.8zM128 246.1h10.4v2.7h-10.4zM145.2 246.1h5.3v2.7h-5.3zM152 246.1h1.9v2.7h-1.9zM59.6 248.6h5.3v2.7h-5.3zM66.5 248.6h10.4v2.7h-10.4zM80.2 248.6h24.1v2.7h-24.1zM126.3 248.6h12.1v2.7h-12.1zM145.2 248.6h7v2.7h-7zM59.6 251.2h5.3v2.7h-5.3zM66.5 251.2h10.4v2.7h-10.4zM80.2 251.2h19v2.7h-19zM102.4 251.2h1.9v2.7h-1.9zM117.8 251.2h5.3v2.7h-5.3zM124.6 251.2h17.3v2.7h-17.3zM145.2 251.2h5.3v2.7h-5.3z"/>
</g>
<g fill="none" stroke="#0d0d0d" stroke-width="0.7" stroke-linejoin="round"><use href="#land"/><use href="#nod"/><use href="#bord"/></g>
</g></g>
<g transform="translate(324.5 389.1) scale(1)" clip-path="url(#pca)">
<rect width="211.5" height="253.2" fill="#EBEBEB"/>
<rect x="3.5" y="4" width="205.0" height="244.7" fill="#F2F2F2"/>
<g transform="translate(0 0)">
<g mask="url(#lm)" clip-path="url(#rca)"><rect width="215" height="256" fill="#FAE9DF"/>
<path fill="#E4EEF4" d="M134.9 -1.8h1.9v2.7h-1.9zM136.6 0.7h1.9v2.7h-1.9zM141.7 0.7h3.6v2.7h-3.6zM194.8 0.7h1.9v2.7h-1.9zM191.3 3.2h1.9v2.7h-1.9zM63 8.3h1.9v2.7h-1.9zM140 8.3h1.9v2.7h-1.9zM201.6 8.3h1.9v2.7h-1.9zM119.5 10.8h3.6v2.7h-3.6zM124.6 10.8h1.9v2.7h-1.9zM25.4 13.4h1.9v2.7h-1.9zM126.3 13.4h1.9v2.7h-1.9zM23.7 15.9h5.3v2.7h-5.3zM121.2 15.9h8.7v2.7h-8.7zM153.7 15.9h1.9v2.7h-1.9zM23.7 18.4h5.3v2.7h-5.3zM40.8 18.4h1.9v2.7h-1.9zM57.9 18.4h3.6v2.7h-3.6zM124.6 18.4h3.6v2.7h-3.6zM152 18.4h3.6v2.7h-3.6zM174.2 18.4h1.9v2.7h-1.9zM28.8 20.9h1.9v2.7h-1.9zM56.2 20.9h1.9v2.7h-1.9zM124.6 20.9h3.6v2.7h-3.6zM152 20.9h3.6v2.7h-3.6zM167.4 20.9h1.9v2.7h-1.9zM155.4 23.5h1.9v2.7h-1.9zM37.4 26h1.9v2.7h-1.9zM157.1 26h1.9v2.7h-1.9zM155.4 28.5h3.6v2.7h-3.6zM158.8 31.1h1.9v2.7h-1.9zM47.7 33.6h3.6v2.7h-3.6zM158.8 33.6h1.9v2.7h-1.9zM162.3 33.6h3.6v2.7h-3.6zM51.1 36.1h1.9v2.7h-1.9zM54.5 36.1h1.9v2.7h-1.9zM51.1 38.7h1.9v2.7h-1.9zM44.2 41.2h3.6v2.7h-3.6zM45.9 43.7h1.9v2.7h-1.9zM174.2 48.8h1.9v2.7h-1.9zM187.9 51.3h1.9v2.7h-1.9zM203.3 51.3h1.9v2.7h-1.9zM49.4 53.8h1.9v2.7h-1.9zM69.9 56.4h1.9v2.7h-1.9zM210.2 56.4h1.9v2.7h-1.9zM143.4 58.9h1.9v2.7h-1.9zM194.8 58.9h1.9v2.7h-1.9zM45.9 61.4h1.9v2.7h-1.9zM64.8 61.4h1.9v2.7h-1.9zM122.9 61.4h1.9v2.7h-1.9zM66.5 64h1.9v2.7h-1.9zM71.6 64h1.9v2.7h-1.9zM148.6 64h1.9v2.7h-1.9zM27.1 66.5h1.9v2.7h-1.9zM61.3 66.5h1.9v2.7h-1.9zM64.8 66.5h1.9v2.7h-1.9zM18.6 69h1.9v2.7h-1.9zM27.1 69h1.9v2.7h-1.9zM174.2 69h1.9v2.7h-1.9zM210.2 69h1.9v2.7h-1.9zM35.7 71.5h1.9v2.7h-1.9zM75 71.5h3.6v2.7h-3.6zM81.9 71.5h5.3v2.7h-5.3zM129.8 71.5h1.9v2.7h-1.9zM210.2 71.5h1.9v2.7h-1.9zM44.2 74.1h1.9v2.7h-1.9zM61.3 74.1h1.9v2.7h-1.9zM71.6 74.1h1.9v2.7h-1.9zM75 74.1h8.7v2.7h-8.7zM146.9 74.1h1.9v2.7h-1.9zM152 74.1h1.9v2.7h-1.9zM196.5 74.1h1.9v2.7h-1.9zM52.8 76.6h1.9v2.7h-1.9zM76.7 76.6h5.3v2.7h-5.3zM4.9 79.1h1.9v2.7h-1.9zM40.8 79.1h1.9v2.7h-1.9zM64.8 79.1h1.9v2.7h-1.9zM78.4 79.1h1.9v2.7h-1.9zM121.2 79.1h1.9v2.7h-1.9zM57.9 81.7h1.9v2.7h-1.9zM61.3 81.7h15.5v2.7h-15.5zM81.9 81.7h1.9v2.7h-1.9zM126.3 81.7h1.9v2.7h-1.9zM131.5 81.7h1.9v2.7h-1.9zM56.2 84.2h20.7v2.7h-20.7zM128 84.2h3.6v2.7h-3.6zM37.4 86.7h1.9v2.7h-1.9zM56.2 86.7h22.4v2.7h-22.4zM85.3 86.7h1.9v2.7h-1.9zM57.9 89.3h5.3v2.7h-5.3zM71.6 89.3h7v2.7h-7zM110.9 89.3h1.9v2.7h-1.9zM205 89.3h3.6v2.7h-3.6zM45.9 91.8h1.9v2.7h-1.9zM59.6 91.8h3.6v2.7h-3.6zM99 91.8h15.5v2.7h-15.5zM131.5 91.8h1.9v2.7h-1.9zM145.2 91.8h1.9v2.7h-1.9zM39.1 94.3h1.9v2.7h-1.9zM44.2 94.3h1.9v2.7h-1.9zM59.6 94.3h1.9v2.7h-1.9zM100.7 94.3h13.8v2.7h-13.8zM133.2 94.3h1.9v2.7h-1.9zM136.6 94.3h1.9v2.7h-1.9zM196.5 94.3h1.9v2.7h-1.9zM205 94.3h1.9v2.7h-1.9zM208.4 94.3h1.9v2.7h-1.9zM211.9 94.3h1.9v2.7h-1.9zM39.1 96.8h1.9v2.7h-1.9zM104.1 96.8h8.7v2.7h-8.7zM129.8 96.8h1.9v2.7h-1.9zM138.3 96.8h5.3v2.7h-5.3zM210.2 96.8h3.6v2.7h-3.6zM28.8 99.4h1.9v2.7h-1.9zM78.4 99.4h1.9v2.7h-1.9zM165.7 99.4h3.6v2.7h-3.6zM28.8 101.9h1.9v2.7h-1.9zM148.6 101.9h1.9v2.7h-1.9zM28.8 104.4h1.9v2.7h-1.9zM61.3 104.4h1.9v2.7h-1.9zM105.8 104.4h1.9v2.7h-1.9zM164 104.4h1.9v2.7h-1.9zM211.9 104.4h1.9v2.7h-1.9zM95.5 107h1.9v2.7h-1.9zM102.4 107h1.9v2.7h-1.9zM109.2 107h1.9v2.7h-1.9zM117.8 107h1.9v2.7h-1.9zM155.4 107h1.9v2.7h-1.9zM210.2 107h1.9v2.7h-1.9zM88.7 109.5h1.9v2.7h-1.9zM93.8 109.5h1.9v2.7h-1.9zM99 109.5h3.6v2.7h-3.6zM110.9 109.5h1.9v2.7h-1.9zM116.1 109.5h1.9v2.7h-1.9zM140 109.5h1.9v2.7h-1.9zM92.1 112h12.1v2.7h-12.1zM109.2 112h3.6v2.7h-3.6zM116.1 112h3.6v2.7h-3.6zM121.2 112h5.3v2.7h-5.3zM145.2 112h1.9v2.7h-1.9zM211.9 112h1.9v2.7h-1.9zM92.1 114.6h13.8v2.7h-13.8zM112.7 114.6h13.8v2.7h-13.8zM92.1 117.1h1.9v2.7h-1.9zM95.5 117.1h10.4v2.7h-10.4zM112.7 117.1h7v2.7h-7zM121.2 117.1h3.6v2.7h-3.6zM196.5 117.1h1.9v2.7h-1.9zM211.9 117.1h1.9v2.7h-1.9zM95.5 119.6h8.7v2.7h-8.7zM112.7 119.6h12.1v2.7h-12.1zM203.3 119.6h1.9v2.7h-1.9zM61.3 122.1h1.9v2.7h-1.9zM90.4 122.1h13.8v2.7h-13.8zM112.7 122.1h8.7v2.7h-8.7zM152 122.1h1.9v2.7h-1.9zM92.1 124.7h7v2.7h-7zM114.4 124.7h7v2.7h-7zM92.1 127.2h1.9v2.7h-1.9zM95.5 127.2h3.6v2.7h-3.6zM116.1 127.2h3.6v2.7h-3.6zM175.9 127.2h1.9v2.7h-1.9zM179.4 127.2h1.9v2.7h-1.9zM63 129.7h1.9v2.7h-1.9zM93.8 129.7h7v2.7h-7zM102.4 129.7h1.9v2.7h-1.9zM114.4 129.7h8.7v2.7h-8.7zM167.4 129.7h3.6v2.7h-3.6zM175.9 129.7h1.9v2.7h-1.9zM179.4 129.7h1.9v2.7h-1.9zM64.8 132.3h3.6v2.7h-3.6zM90.4 132.3h1.9v2.7h-1.9zM100.7 132.3h8.7v2.7h-8.7zM114.4 132.3h8.7v2.7h-8.7zM153.7 132.3h1.9v2.7h-1.9zM169.1 132.3h1.9v2.7h-1.9zM92.1 134.8h1.9v2.7h-1.9zM100.7 134.8h8.7v2.7h-8.7zM114.4 134.8h3.6v2.7h-3.6zM134.9 134.8h1.9v2.7h-1.9zM162.3 134.8h1.9v2.7h-1.9zM165.7 134.8h1.9v2.7h-1.9zM169.1 134.8h1.9v2.7h-1.9zM95.5 137.3h7v2.7h-7zM105.8 137.3h1.9v2.7h-1.9zM109.2 137.3h8.7v2.7h-8.7zM133.2 137.3h1.9v2.7h-1.9zM145.2 137.3h7v2.7h-7zM155.4 137.3h1.9v2.7h-1.9zM165.7 137.3h3.6v2.7h-3.6zM184.5 137.3h1.9v2.7h-1.9zM95.5 139.9h1.9v2.7h-1.9zM99 139.9h1.9v2.7h-1.9zM104.1 139.9h13.8v2.7h-13.8zM133.2 139.9h3.6v2.7h-3.6zM143.4 139.9h5.3v2.7h-5.3zM150.3 139.9h1.9v2.7h-1.9zM153.7 139.9h1.9v2.7h-1.9zM160.5 139.9h1.9v2.7h-1.9zM164 139.9h1.9v2.7h-1.9zM100.7 142.4h1.9v2.7h-1.9zM105.8 142.4h7v2.7h-7zM114.4 142.4h5.3v2.7h-5.3zM145.2 142.4h3.6v2.7h-3.6zM150.3 142.4h7v2.7h-7zM164 142.4h1.9v2.7h-1.9zM90.4 144.9h1.9v2.7h-1.9zM99 144.9h1.9v2.7h-1.9zM104.1 144.9h1.9v2.7h-1.9zM107.5 144.9h10.4v2.7h-10.4zM119.5 144.9h1.9v2.7h-1.9zM146.9 144.9h1.9v2.7h-1.9zM150.3 144.9h7v2.7h-7zM167.4 144.9h1.9v2.7h-1.9zM181.1 144.9h3.6v2.7h-3.6zM102.4 147.4h1.9v2.7h-1.9zM107.5 147.4h7v2.7h-7zM150.3 147.4h3.6v2.7h-3.6zM177.7 147.4h1.9v2.7h-1.9zM181.1 147.4h7v2.7h-7zM189.6 147.4h1.9v2.7h-1.9zM198.2 147.4h3.6v2.7h-3.6zM211.9 147.4h1.9v2.7h-1.9zM105.8 150h8.7v2.7h-8.7zM143.4 150h1.9v2.7h-1.9zM179.4 150h7v2.7h-7zM189.6 150h3.6v2.7h-3.6zM194.8 150h1.9v2.7h-1.9zM211.9 150h1.9v2.7h-1.9zM90.4 152.5h3.6v2.7h-3.6zM102.4 152.5h1.9v2.7h-1.9zM110.9 152.5h1.9v2.7h-1.9zM179.4 152.5h1.9v2.7h-1.9zM184.5 152.5h1.9v2.7h-1.9zM191.3 152.5h1.9v2.7h-1.9zM194.8 152.5h3.6v2.7h-3.6zM63 155h1.9v2.7h-1.9zM85.3 155h1.9v2.7h-1.9zM90.4 155h3.6v2.7h-3.6zM152 155h1.9v2.7h-1.9zM175.9 155h13.8v2.7h-13.8zM193 155h5.3v2.7h-5.3zM201.6 155h1.9v2.7h-1.9zM90.4 157.6h3.6v2.7h-3.6zM100.7 157.6h1.9v2.7h-1.9zM177.7 157.6h5.3v2.7h-5.3zM184.5 157.6h12.1v2.7h-12.1zM71.6 160.1h1.9v2.7h-1.9zM87 160.1h3.6v2.7h-3.6zM92.1 160.1h3.6v2.7h-3.6zM177.7 160.1h1.9v2.7h-1.9zM186.2 160.1h1.9v2.7h-1.9zM189.6 160.1h8.7v2.7h-8.7zM162.3 162.6h3.6v2.7h-3.6zM177.7 162.6h5.3v2.7h-5.3zM186.2 162.6h1.9v2.7h-1.9zM191.3 162.6h5.3v2.7h-5.3zM76.7 165.2h1.9v2.7h-1.9zM152 165.2h1.9v2.7h-1.9zM162.3 165.2h5.3v2.7h-5.3zM189.6 165.2h5.3v2.7h-5.3zM196.5 165.2h1.9v2.7h-1.9zM37.4 167.7h1.9v2.7h-1.9zM76.7 167.7h1.9v2.7h-1.9zM110.9 167.7h1.9v2.7h-1.9zM177.7 167.7h1.9v2.7h-1.9zM186.2 167.7h1.9v2.7h-1.9zM189.6 167.7h1.9v2.7h-1.9zM193 167.7h1.9v2.7h-1.9zM160.5 170.2h1.9v2.7h-1.9zM193 170.2h1.9v2.7h-1.9zM201.6 170.2h1.9v2.7h-1.9zM206.7 170.2h1.9v2.7h-1.9zM39.1 172.7h1.9v2.7h-1.9zM194.8 172.7h1.9v2.7h-1.9zM64.8 175.3h1.9v2.7h-1.9zM145.2 175.3h1.9v2.7h-1.9zM153.7 175.3h1.9v2.7h-1.9zM167.4 175.3h1.9v2.7h-1.9zM206.7 175.3h1.9v2.7h-1.9zM141.7 177.8h1.9v2.7h-1.9zM146.9 177.8h3.6v2.7h-3.6zM153.7 177.8h1.9v2.7h-1.9zM158.8 177.8h1.9v2.7h-1.9zM196.5 177.8h1.9v2.7h-1.9zM54.5 180.3h1.9v2.7h-1.9zM148.6 180.3h5.3v2.7h-5.3zM162.3 180.3h3.6v2.7h-3.6zM184.5 180.3h1.9v2.7h-1.9zM198.2 180.3h1.9v2.7h-1.9zM28.8 182.9h1.9v2.7h-1.9zM45.9 182.9h7v2.7h-7zM59.6 182.9h1.9v2.7h-1.9zM63 182.9h1.9v2.7h-1.9zM160.5 182.9h5.3v2.7h-5.3zM30.5 185.4h3.6v2.7h-3.6zM37.4 185.4h1.9v2.7h-1.9zM45.9 185.4h8.7v2.7h-8.7zM56.2 185.4h1.9v2.7h-1.9zM59.6 185.4h1.9v2.7h-1.9zM92.1 185.4h1.9v2.7h-1.9zM160.5 185.4h3.6v2.7h-3.6zM172.5 185.4h1.9v2.7h-1.9zM32.3 187.9h5.3v2.7h-5.3zM39.1 187.9h3.6v2.7h-3.6zM44.2 187.9h17.3v2.7h-17.3zM92.1 187.9h1.9v2.7h-1.9zM162.3 187.9h1.9v2.7h-1.9zM165.7 187.9h1.9v2.7h-1.9zM30.5 190.5h1.9v2.7h-1.9zM35.7 190.5h1.9v2.7h-1.9zM39.1 190.5h3.6v2.7h-3.6zM49.4 190.5h10.4v2.7h-10.4zM169.1 190.5h3.6v2.7h-3.6zM15.2 193h1.9v2.7h-1.9zM27.1 193h3.6v2.7h-3.6zM32.3 193h3.6v2.7h-3.6zM40.8 193h1.9v2.7h-1.9zM49.4 193h3.6v2.7h-3.6zM54.5 193h3.6v2.7h-3.6zM59.6 193h3.6v2.7h-3.6zM170.8 193h1.9v2.7h-1.9zM181.1 193h1.9v2.7h-1.9zM27.1 195.5h3.6v2.7h-3.6zM35.7 195.5h3.6v2.7h-3.6zM51.1 195.5h1.9v2.7h-1.9zM170.8 195.5h1.9v2.7h-1.9zM177.7 195.5h1.9v2.7h-1.9zM39.1 198h1.9v2.7h-1.9zM47.7 198h3.6v2.7h-3.6zM59.6 198h5.3v2.7h-5.3zM104.1 198h1.9v2.7h-1.9zM134.9 198h1.9v2.7h-1.9zM172.5 198h3.6v2.7h-3.6zM177.7 198h1.9v2.7h-1.9zM189.6 198h1.9v2.7h-1.9zM23.7 200.6h1.9v2.7h-1.9zM40.8 200.6h5.3v2.7h-5.3zM47.7 200.6h3.6v2.7h-3.6zM56.2 200.6h8.7v2.7h-8.7zM90.4 200.6h1.9v2.7h-1.9zM174.2 200.6h3.6v2.7h-3.6zM179.4 200.6h1.9v2.7h-1.9zM47.7 203.1h3.6v2.7h-3.6zM57.9 203.1h3.6v2.7h-3.6zM63 203.1h5.3v2.7h-5.3zM88.7 203.1h1.9v2.7h-1.9zM175.9 203.1h1.9v2.7h-1.9zM32.3 205.6h3.6v2.7h-3.6zM44.2 205.6h3.6v2.7h-3.6zM57.9 205.6h1.9v2.7h-1.9zM63 205.6h1.9v2.7h-1.9zM68.2 205.6h1.9v2.7h-1.9zM34 208.2h1.9v2.7h-1.9zM42.5 208.2h3.6v2.7h-3.6zM47.7 208.2h3.6v2.7h-3.6zM61.3 208.2h3.6v2.7h-3.6zM68.2 208.2h1.9v2.7h-1.9zM81.9 208.2h1.9v2.7h-1.9zM99 208.2h1.9v2.7h-1.9zM23.7 210.7h1.9v2.7h-1.9zM35.7 210.7h1.9v2.7h-1.9zM39.1 210.7h12.1v2.7h-12.1zM57.9 210.7h3.6v2.7h-3.6zM63 210.7h1.9v2.7h-1.9zM66.5 210.7h3.6v2.7h-3.6zM35.7 213.2h1.9v2.7h-1.9zM39.1 213.2h8.7v2.7h-8.7zM49.4 213.2h1.9v2.7h-1.9zM68.2 213.2h1.9v2.7h-1.9zM40.8 215.8h8.7v2.7h-8.7zM57.9 215.8h3.6v2.7h-3.6zM63 215.8h1.9v2.7h-1.9zM66.5 215.8h3.6v2.7h-3.6zM40.8 218.3h3.6v2.7h-3.6zM45.9 218.3h1.9v2.7h-1.9zM51.1 218.3h1.9v2.7h-1.9zM57.9 218.3h3.6v2.7h-3.6zM68.2 218.3h1.9v2.7h-1.9zM160.5 218.3h1.9v2.7h-1.9zM37.4 220.8h1.9v2.7h-1.9zM40.8 220.8h1.9v2.7h-1.9zM51.1 220.8h1.9v2.7h-1.9zM184.5 220.8h1.9v2.7h-1.9zM37.4 223.3h5.3v2.7h-5.3zM47.7 223.3h7v2.7h-7zM39.1 225.9h3.6v2.7h-3.6zM51.1 225.9h1.9v2.7h-1.9zM184.5 225.9h1.9v2.7h-1.9zM39.1 228.4h1.9v2.7h-1.9zM52.8 228.4h3.6v2.7h-3.6zM112.7 228.4h1.9v2.7h-1.9zM30.5 230.9h3.6v2.7h-3.6zM177.7 230.9h1.9v2.7h-1.9zM35.7 233.5h1.9v2.7h-1.9zM40.8 233.5h1.9v2.7h-1.9zM52.8 233.5h1.9v2.7h-1.9zM56.2 233.5h1.9v2.7h-1.9zM165.7 233.5h1.9v2.7h-1.9zM28.8 236h1.9v2.7h-1.9zM35.7 236h1.9v2.7h-1.9zM57.9 236h1.9v2.7h-1.9zM95.5 236h1.9v2.7h-1.9zM145.2 238.5h3.6v2.7h-3.6zM150.3 238.5h1.9v2.7h-1.9zM170.8 238.5h3.6v2.7h-3.6zM76.7 241.1h1.9v2.7h-1.9zM134.9 241.1h1.9v2.7h-1.9zM30.5 243.6h1.9v2.7h-1.9zM146.9 243.6h1.9v2.7h-1.9zM64.8 246.1h1.9v2.7h-1.9zM100.7 246.1h1.9v2.7h-1.9zM170.8 246.1h3.6v2.7h-3.6zM71.6 248.6h1.9v2.7h-1.9zM76.7 248.6h1.9v2.7h-1.9zM83.6 248.6h1.9v2.7h-1.9zM63 251.2h1.9v2.7h-1.9zM81.9 251.2h1.9v2.7h-1.9zM124.6 251.2h1.9v2.7h-1.9z"/>
</g>
<g fill="none" stroke="#0d0d0d" stroke-width="0.7" stroke-linejoin="round"><use href="#land"/><use href="#nod"/><use href="#bord"/></g>
</g></g>
<rect x="91.7" y="172.5" width="7.3" height="2.8" fill="#333"/>
<text x="86.8" y="180.0" font-size="16" text-anchor="end" fill="#4D4D4D">55°N</text>
<rect x="91.7" y="223.1" width="7.3" height="2.8" fill="#333"/>
<text x="86.8" y="230.6" font-size="16" text-anchor="end" fill="#4D4D4D">50°N</text>
<rect x="91.7" y="273.7" width="7.3" height="2.8" fill="#333"/>
<text x="86.8" y="281.2" font-size="16" text-anchor="end" fill="#4D4D4D">45°N</text>
<rect x="91.7" y="324.3" width="7.3" height="2.8" fill="#333"/>
<text x="86.8" y="331.8" font-size="16" text-anchor="end" fill="#4D4D4D">40°N</text>
<rect x="91.7" y="439.0" width="7.3" height="2.8" fill="#333"/>
<text x="86.8" y="446.5" font-size="16" text-anchor="end" fill="#4D4D4D">55°N</text>
<rect x="91.7" y="489.6" width="7.3" height="2.8" fill="#333"/>
<text x="86.8" y="497.1" font-size="16" text-anchor="end" fill="#4D4D4D">50°N</text>
<rect x="91.7" y="540.2" width="7.3" height="2.8" fill="#333"/>
<text x="86.8" y="547.7" font-size="16" text-anchor="end" fill="#4D4D4D">45°N</text>
<rect x="91.7" y="590.8" width="7.3" height="2.8" fill="#333"/>
<text x="86.8" y="598.3" font-size="16" text-anchor="end" fill="#4D4D4D">40°N</text>
<rect x="104.2" y="642.3" width="2.8" height="7.3" fill="#333"/>
<text x="105.6" y="666.1" font-size="16" text-anchor="middle" fill="#4D4D4D">10°W</text>
<rect x="145.3" y="642.3" width="2.8" height="7.3" fill="#333"/>
<text x="146.7" y="666.1" font-size="16" text-anchor="middle" fill="#4D4D4D">4°W</text>
<rect x="186.3" y="642.3" width="2.8" height="7.3" fill="#333"/>
<text x="187.7" y="666.1" font-size="16" text-anchor="middle" fill="#4D4D4D">2°E</text>
<rect x="227.4" y="642.3" width="2.8" height="7.3" fill="#333"/>
<text x="228.8" y="666.1" font-size="16" text-anchor="middle" fill="#4D4D4D">8°E</text>
<rect x="268.4" y="642.3" width="2.8" height="7.3" fill="#333"/>
<text x="269.8" y="666.1" font-size="16" text-anchor="middle" fill="#4D4D4D">14°E</text>
<rect x="329.7" y="642.3" width="2.8" height="7.3" fill="#333"/>
<text x="331.1" y="666.1" font-size="16" text-anchor="middle" fill="#4D4D4D">10°W</text>
<rect x="370.8" y="642.3" width="2.8" height="7.3" fill="#333"/>
<text x="372.2" y="666.1" font-size="16" text-anchor="middle" fill="#4D4D4D">4°W</text>
<rect x="411.8" y="642.3" width="2.8" height="7.3" fill="#333"/>
<text x="413.2" y="666.1" font-size="16" text-anchor="middle" fill="#4D4D4D">2°E</text>
<rect x="452.9" y="642.3" width="2.8" height="7.3" fill="#333"/>
<text x="454.3" y="666.1" font-size="16" text-anchor="middle" fill="#4D4D4D">8°E</text>
<rect x="493.9" y="642.3" width="2.8" height="7.3" fill="#333"/>
<text x="495.3" y="666.1" font-size="16" text-anchor="middle" fill="#4D4D4D">14°E</text>
<rect x="772.1" y="83.3" width="209.3" height="42.5" fill="#D9D9D9"/>
<text x="876.75" y="112.2" font-size="21.8" text-anchor="middle" fill="#1a1a1a">ADAMONT</text>
<rect x="995.4" y="83.3" width="209.3" height="42.5" fill="#D9D9D9"/>
<text x="1100.05" y="112.2" font-size="21.8" text-anchor="middle" fill="#1a1a1a">B-QM</text>
<rect x="1204.9" y="125.5" width="43.1" height="250.2" fill="#D9D9D9"/>
<text transform="translate(1226.45 251.2) rotate(90)" font-size="21.8" text-anchor="middle" fill="#1a1a1a" y="7.8">JJA</text>
<rect x="1204.9" y="389.6" width="43.1" height="250.2" fill="#D9D9D9"/>
<text transform="translate(1226.45 515.3) rotate(90)" font-size="21.8" text-anchor="middle" fill="#1a1a1a" y="7.8">DJF</text>
<g transform="translate(772.1 125.5) scale(0.988)" clip-path="url(#pcb)">
<rect width="211.8" height="253.2" fill="#EBEBEB"/>
<rect x="3.5" y="4" width="205.3" height="244.7" fill="#F2F2F2"/>
<g transform="translate(0 -0.354251)">
<g mask="url(#lm)" clip-path="url(#rcb)"><rect width="215" height="256" fill="#FAE9DF"/>
<path fill="#8C0C25" d="M133.2 137.3h3.6v2.7h-3.6zM133.2 139.9h1.9v2.7h-1.9z"/><path fill="#C43C3C" d="M129.8 0.7h1.9v2.7h-1.9zM129.8 3.2h3.6v2.7h-3.6zM136.6 132.3h3.6v2.7h-3.6zM148.6 132.3h1.9v2.7h-1.9zM131.5 134.8h8.7v2.7h-8.7zM119.5 137.3h1.9v2.7h-1.9zM129.8 137.3h3.6v2.7h-3.6zM136.6 137.3h1.9v2.7h-1.9zM131.5 139.9h1.9v2.7h-1.9zM134.9 139.9h1.9v2.7h-1.9zM16.9 175.3h1.9v2.7h-1.9zM15.2 177.8h5.3v2.7h-5.3zM16.9 180.3h1.9v2.7h-1.9z"/><path fill="#E58268" d="M122.9 -1.8h3.6v2.7h-3.6zM128 -1.8h5.3v2.7h-5.3zM136.6 -1.8h3.6v2.7h-3.6zM141.7 -1.8h3.6v2.7h-3.6zM158.8 -1.8h3.6v2.7h-3.6zM170.8 -1.8h3.6v2.7h-3.6zM194.8 -1.8h1.9v2.7h-1.9zM116.1 0.7h1.9v2.7h-1.9zM122.9 0.7h7v2.7h-7zM131.5 0.7h8.7v2.7h-8.7zM155.4 0.7h1.9v2.7h-1.9zM158.8 0.7h1.9v2.7h-1.9zM172.5 0.7h1.9v2.7h-1.9zM177.7 0.7h1.9v2.7h-1.9zM68.2 3.2h1.9v2.7h-1.9zM107.5 3.2h1.9v2.7h-1.9zM116.1 3.2h3.6v2.7h-3.6zM121.2 3.2h8.7v2.7h-8.7zM133.2 3.2h7v2.7h-7zM164 3.2h1.9v2.7h-1.9zM175.9 3.2h5.3v2.7h-5.3zM107.5 5.8h1.9v2.7h-1.9zM119.5 5.8h20.7v2.7h-20.7zM164 5.8h1.9v2.7h-1.9zM177.7 5.8h3.6v2.7h-3.6zM107.5 8.3h3.6v2.7h-3.6zM121.2 8.3h3.6v2.7h-3.6zM129.8 8.3h12.1v2.7h-12.1zM177.7 8.3h3.6v2.7h-3.6zM198.2 8.3h1.9v2.7h-1.9zM40.8 10.8h1.9v2.7h-1.9zM44.2 10.8h1.9v2.7h-1.9zM107.5 10.8h3.6v2.7h-3.6zM124.6 10.8h1.9v2.7h-1.9zM141.7 10.8h1.9v2.7h-1.9zM165.7 10.8h1.9v2.7h-1.9zM179.4 10.8h1.9v2.7h-1.9zM44.2 13.4h1.9v2.7h-1.9zM51.1 13.4h1.9v2.7h-1.9zM124.6 13.4h1.9v2.7h-1.9zM179.4 13.4h7v2.7h-7zM198.2 13.4h1.9v2.7h-1.9zM112.7 15.9h1.9v2.7h-1.9zM181.1 15.9h3.6v2.7h-3.6zM170.8 18.4h3.6v2.7h-3.6zM169.1 20.9h3.6v2.7h-3.6zM37.4 23.5h1.9v2.7h-1.9zM64.8 23.5h1.9v2.7h-1.9zM196.5 23.5h1.9v2.7h-1.9zM30.5 26h1.9v2.7h-1.9zM35.7 26h7v2.7h-7zM155.4 26h3.6v2.7h-3.6zM162.3 26h3.6v2.7h-3.6zM20.3 28.5h1.9v2.7h-1.9zM148.6 28.5h1.9v2.7h-1.9zM155.4 28.5h3.6v2.7h-3.6zM162.3 28.5h3.6v2.7h-3.6zM162.3 31.1h5.3v2.7h-5.3zM164 33.6h1.9v2.7h-1.9zM186.2 33.6h1.9v2.7h-1.9zM157.1 36.1h1.9v2.7h-1.9zM169.1 36.1h3.6v2.7h-3.6zM158.8 38.7h7v2.7h-7zM170.8 38.7h3.6v2.7h-3.6zM158.8 41.2h7v2.7h-7zM174.2 41.2h5.3v2.7h-5.3zM160.5 43.7h3.6v2.7h-3.6zM174.2 43.7h3.6v2.7h-3.6zM32.3 46.2h5.3v2.7h-5.3zM169.1 46.2h3.6v2.7h-3.6zM174.2 46.2h3.6v2.7h-3.6zM32.3 48.8h3.6v2.7h-3.6zM145.2 48.8h3.6v2.7h-3.6zM25.4 53.8h3.6v2.7h-3.6zM51.1 53.8h5.3v2.7h-5.3zM27.1 56.4h1.9v2.7h-1.9zM49.4 56.4h1.9v2.7h-1.9zM15.2 58.9h1.9v2.7h-1.9zM63 61.4h1.9v2.7h-1.9zM140 61.4h1.9v2.7h-1.9zM30.5 64h5.3v2.7h-5.3zM119.5 64h1.9v2.7h-1.9zM138.3 64h1.9v2.7h-1.9zM158.8 64h1.9v2.7h-1.9zM11.7 66.5h1.9v2.7h-1.9zM32.3 66.5h3.6v2.7h-3.6zM47.7 69h3.6v2.7h-3.6zM47.7 71.5h5.3v2.7h-5.3zM129.8 71.5h1.9v2.7h-1.9zM47.7 74.1h3.6v2.7h-3.6zM78.4 76.6h1.9v2.7h-1.9zM8.3 79.1h3.6v2.7h-3.6zM8.3 81.7h3.6v2.7h-3.6zM37.4 81.7h1.9v2.7h-1.9zM8.3 84.2h1.9v2.7h-1.9zM35.7 84.2h3.6v2.7h-3.6zM54.5 84.2h1.9v2.7h-1.9zM37.4 86.7h1.9v2.7h-1.9zM42.5 86.7h1.9v2.7h-1.9zM76.7 86.7h1.9v2.7h-1.9zM104.1 86.7h1.9v2.7h-1.9zM71.6 91.8h1.9v2.7h-1.9zM76.7 91.8h1.9v2.7h-1.9zM45.9 94.3h1.9v2.7h-1.9zM42.5 96.8h5.3v2.7h-5.3zM59.6 107h1.9v2.7h-1.9zM63 109.5h1.9v2.7h-1.9zM146.9 122.1h1.9v2.7h-1.9zM136.6 124.7h1.9v2.7h-1.9zM146.9 127.2h3.6v2.7h-3.6zM155.4 127.2h5.3v2.7h-5.3zM162.3 127.2h1.9v2.7h-1.9zM131.5 129.7h39.5v2.7h-39.5zM126.3 132.3h10.4v2.7h-10.4zM140 132.3h8.7v2.7h-8.7zM150.3 132.3h22.4v2.7h-22.4zM122.9 134.8h8.7v2.7h-8.7zM140 134.8h12.1v2.7h-12.1zM153.7 134.8h17.3v2.7h-17.3zM121.2 137.3h8.7v2.7h-8.7zM138.3 137.3h5.3v2.7h-5.3zM145.2 137.3h5.3v2.7h-5.3zM160.5 137.3h3.6v2.7h-3.6zM121.2 139.9h5.3v2.7h-5.3zM129.8 139.9h1.9v2.7h-1.9zM136.6 139.9h3.6v2.7h-3.6zM141.7 139.9h1.9v2.7h-1.9zM170.8 139.9h3.6v2.7h-3.6zM121.2 142.4h5.3v2.7h-5.3zM131.5 142.4h3.6v2.7h-3.6zM170.8 142.4h3.6v2.7h-3.6zM122.9 144.9h3.6v2.7h-3.6zM175.9 150h1.9v2.7h-1.9zM93.8 155h3.6v2.7h-3.6zM16.9 167.7h1.9v2.7h-1.9zM15.2 170.2h3.6v2.7h-3.6zM35.7 170.2h1.9v2.7h-1.9zM15.2 172.7h5.3v2.7h-5.3zM15.2 175.3h1.9v2.7h-1.9zM18.6 175.3h3.6v2.7h-3.6zM56.2 175.3h1.9v2.7h-1.9zM83.6 175.3h1.9v2.7h-1.9zM13.4 177.8h1.9v2.7h-1.9zM20.3 177.8h1.9v2.7h-1.9zM13.4 180.3h3.6v2.7h-3.6zM18.6 180.3h1.9v2.7h-1.9zM13.4 182.9h7v2.7h-7zM15.2 185.4h3.6v2.7h-3.6zM15.2 187.9h1.9v2.7h-1.9zM22 215.8h1.9v2.7h-1.9z"/><path fill="#F8C0A4" d="M63 -1.8h7v2.7h-7zM105.8 -1.8h17.3v2.7h-17.3zM126.3 -1.8h1.9v2.7h-1.9zM133.2 -1.8h3.6v2.7h-3.6zM140 -1.8h1.9v2.7h-1.9zM145.2 -1.8h13.8v2.7h-13.8zM162.3 -1.8h8.7v2.7h-8.7zM174.2 -1.8h20.7v2.7h-20.7zM196.5 -1.8h10.4v2.7h-10.4zM61.3 0.7h8.7v2.7h-8.7zM107.5 0.7h8.7v2.7h-8.7zM117.8 0.7h5.3v2.7h-5.3zM140 0.7h15.5v2.7h-15.5zM157.1 0.7h1.9v2.7h-1.9zM160.5 0.7h12.1v2.7h-12.1zM174.2 0.7h3.6v2.7h-3.6zM179.4 0.7h27.5v2.7h-27.5zM52.8 3.2h15.5v2.7h-15.5zM109.2 3.2h7v2.7h-7zM119.5 3.2h1.9v2.7h-1.9zM140 3.2h8.7v2.7h-8.7zM153.7 3.2h10.4v2.7h-10.4zM165.7 3.2h10.4v2.7h-10.4zM181.1 3.2h25.8v2.7h-25.8zM56.2 5.8h10.4v2.7h-10.4zM109.2 5.8h10.4v2.7h-10.4zM140 5.8h10.4v2.7h-10.4zM152 5.8h12.1v2.7h-12.1zM165.7 5.8h12.1v2.7h-12.1zM181.1 5.8h25.8v2.7h-25.8zM49.4 8.3h1.9v2.7h-1.9zM59.6 8.3h3.6v2.7h-3.6zM64.8 8.3h1.9v2.7h-1.9zM110.9 8.3h10.4v2.7h-10.4zM124.6 8.3h5.3v2.7h-5.3zM141.7 8.3h36.1v2.7h-36.1zM181.1 8.3h17.3v2.7h-17.3zM199.9 8.3h5.3v2.7h-5.3zM39.1 10.8h1.9v2.7h-1.9zM42.5 10.8h1.9v2.7h-1.9zM45.9 10.8h8.7v2.7h-8.7zM57.9 10.8h1.9v2.7h-1.9zM110.9 10.8h13.8v2.7h-13.8zM126.3 10.8h15.5v2.7h-15.5zM143.4 10.8h22.4v2.7h-22.4zM167.4 10.8h12.1v2.7h-12.1zM181.1 10.8h22.4v2.7h-22.4zM25.4 13.4h8.7v2.7h-8.7zM39.1 13.4h5.3v2.7h-5.3zM45.9 13.4h5.3v2.7h-5.3zM52.8 13.4h5.3v2.7h-5.3zM109.2 13.4h15.5v2.7h-15.5zM126.3 13.4h19v2.7h-19zM148.6 13.4h30.9v2.7h-30.9zM186.2 13.4h12.1v2.7h-12.1zM25.4 15.9h8.7v2.7h-8.7zM39.1 15.9h7v2.7h-7zM49.4 15.9h7v2.7h-7zM110.9 15.9h1.9v2.7h-1.9zM119.5 15.9h20.7v2.7h-20.7zM148.6 15.9h32.6v2.7h-32.6zM184.5 15.9h10.4v2.7h-10.4zM23.7 18.4h10.4v2.7h-10.4zM37.4 18.4h8.7v2.7h-8.7zM49.4 18.4h5.3v2.7h-5.3zM56.2 18.4h7v2.7h-7zM112.7 18.4h1.9v2.7h-1.9zM119.5 18.4h19v2.7h-19zM150.3 18.4h20.7v2.7h-20.7zM174.2 18.4h19v2.7h-19zM199.9 18.4h7v2.7h-7zM22 20.9h5.3v2.7h-5.3zM34 20.9h12.1v2.7h-12.1zM49.4 20.9h5.3v2.7h-5.3zM56.2 20.9h8.7v2.7h-8.7zM121.2 20.9h12.1v2.7h-12.1zM148.6 20.9h20.7v2.7h-20.7zM172.5 20.9h20.7v2.7h-20.7zM198.2 20.9h10.4v2.7h-10.4zM20.3 23.5h8.7v2.7h-8.7zM32.3 23.5h5.3v2.7h-5.3zM39.1 23.5h8.7v2.7h-8.7zM49.4 23.5h15.5v2.7h-15.5zM145.2 23.5h49.8v2.7h-49.8zM198.2 23.5h8.7v2.7h-8.7zM20.3 26h10.4v2.7h-10.4zM32.3 26h3.6v2.7h-3.6zM42.5 26h5.3v2.7h-5.3zM51.1 26h15.5v2.7h-15.5zM134.9 26h1.9v2.7h-1.9zM140 26h15.5v2.7h-15.5zM158.8 26h3.6v2.7h-3.6zM165.7 26h41.2v2.7h-41.2zM22 28.5h3.6v2.7h-3.6zM28.8 28.5h19v2.7h-19zM51.1 28.5h10.4v2.7h-10.4zM63 28.5h1.9v2.7h-1.9zM129.8 28.5h19v2.7h-19zM150.3 28.5h5.3v2.7h-5.3zM158.8 28.5h3.6v2.7h-3.6zM165.7 28.5h39.5v2.7h-39.5zM23.7 31.1h34.4v2.7h-34.4zM61.3 31.1h1.9v2.7h-1.9zM129.8 31.1h13.8v2.7h-13.8zM145.2 31.1h3.6v2.7h-3.6zM150.3 31.1h12.1v2.7h-12.1zM167.4 31.1h25.8v2.7h-25.8zM196.5 31.1h3.6v2.7h-3.6zM25.4 33.6h32.6v2.7h-32.6zM129.8 33.6h12.1v2.7h-12.1zM150.3 33.6h13.8v2.7h-13.8zM165.7 33.6h20.7v2.7h-20.7zM187.9 33.6h1.9v2.7h-1.9zM25.4 36.1h34.4v2.7h-34.4zM131.5 36.1h25.8v2.7h-25.8zM158.8 36.1h10.4v2.7h-10.4zM172.5 36.1h15.5v2.7h-15.5zM27.1 38.7h36.1v2.7h-36.1zM131.5 38.7h7v2.7h-7zM140 38.7h19v2.7h-19zM165.7 38.7h5.3v2.7h-5.3zM174.2 38.7h12.1v2.7h-12.1zM30.5 41.2h12.1v2.7h-12.1zM45.9 41.2h17.3v2.7h-17.3zM64.8 41.2h1.9v2.7h-1.9zM129.8 41.2h5.3v2.7h-5.3zM143.4 41.2h15.5v2.7h-15.5zM165.7 41.2h8.7v2.7h-8.7zM179.4 41.2h3.6v2.7h-3.6zM30.5 43.7h12.1v2.7h-12.1zM45.9 43.7h15.5v2.7h-15.5zM129.8 43.7h5.3v2.7h-5.3zM138.3 43.7h1.9v2.7h-1.9zM141.7 43.7h7v2.7h-7zM153.7 43.7h7v2.7h-7zM164 43.7h10.4v2.7h-10.4zM15.2 46.2h5.3v2.7h-5.3zM25.4 46.2h3.6v2.7h-3.6zM30.5 46.2h1.9v2.7h-1.9zM37.4 46.2h3.6v2.7h-3.6zM49.4 46.2h12.1v2.7h-12.1zM129.8 46.2h20.7v2.7h-20.7zM152 46.2h17.3v2.7h-17.3zM172.5 46.2h1.9v2.7h-1.9zM177.7 46.2h1.9v2.7h-1.9zM13.4 48.8h5.3v2.7h-5.3zM22 48.8h10.4v2.7h-10.4zM35.7 48.8h5.3v2.7h-5.3zM47.7 48.8h17.3v2.7h-17.3zM131.5 48.8h13.8v2.7h-13.8zM148.6 48.8h30.9v2.7h-30.9zM11.7 51.3h7v2.7h-7zM20.3 51.3h15.5v2.7h-15.5zM40.8 51.3h3.6v2.7h-3.6zM47.7 51.3h17.3v2.7h-17.3zM69.9 51.3h1.9v2.7h-1.9zM131.5 51.3h27.5v2.7h-27.5zM4.9 53.8h1.9v2.7h-1.9zM8.3 53.8h17.3v2.7h-17.3zM28.8 53.8h7v2.7h-7zM40.8 53.8h3.6v2.7h-3.6zM45.9 53.8h5.3v2.7h-5.3zM56.2 53.8h8.7v2.7h-8.7zM69.9 53.8h1.9v2.7h-1.9zM131.5 53.8h19v2.7h-19zM152 53.8h7v2.7h-7zM3.2 56.4h3.6v2.7h-3.6zM10 56.4h17.3v2.7h-17.3zM28.8 56.4h15.5v2.7h-15.5zM47.7 56.4h1.9v2.7h-1.9zM51.1 56.4h8.7v2.7h-8.7zM61.3 56.4h3.6v2.7h-3.6zM131.5 56.4h27.5v2.7h-27.5zM3.2 58.9h12.1v2.7h-12.1zM16.9 58.9h30.9v2.7h-30.9zM54.5 58.9h3.6v2.7h-3.6zM61.3 58.9h3.6v2.7h-3.6zM66.5 58.9h1.9v2.7h-1.9zM124.6 58.9h1.9v2.7h-1.9zM131.5 58.9h29.2v2.7h-29.2zM165.7 58.9h7v2.7h-7zM191.3 58.9h5.3v2.7h-5.3zM3.2 61.4h39.5v2.7h-39.5zM45.9 61.4h1.9v2.7h-1.9zM52.8 61.4h10.4v2.7h-10.4zM71.6 61.4h3.6v2.7h-3.6zM126.3 61.4h1.9v2.7h-1.9zM129.8 61.4h10.4v2.7h-10.4zM141.7 61.4h20.7v2.7h-20.7zM165.7 61.4h7v2.7h-7zM191.3 61.4h7v2.7h-7zM208.4 61.4h5.3v2.7h-5.3zM3.2 64h27.5v2.7h-27.5zM40.8 64h1.9v2.7h-1.9zM45.9 64h19v2.7h-19zM71.6 64h5.3v2.7h-5.3zM121.2 64h1.9v2.7h-1.9zM126.3 64h12.1v2.7h-12.1zM140 64h5.3v2.7h-5.3zM153.7 64h5.3v2.7h-5.3zM160.5 64h1.9v2.7h-1.9zM181.1 64h1.9v2.7h-1.9zM191.3 64h7v2.7h-7zM211.9 64h1.9v2.7h-1.9zM3.2 66.5h8.7v2.7h-8.7zM13.4 66.5h3.6v2.7h-3.6zM20.3 66.5h12.1v2.7h-12.1zM45.9 66.5h17.3v2.7h-17.3zM73.3 66.5h8.7v2.7h-8.7zM112.7 66.5h5.3v2.7h-5.3zM119.5 66.5h24.1v2.7h-24.1zM157.1 66.5h7v2.7h-7zM189.6 66.5h8.7v2.7h-8.7zM3.2 69h34.4v2.7h-34.4zM45.9 69h1.9v2.7h-1.9zM51.1 69h12.1v2.7h-12.1zM75 69h10.4v2.7h-10.4zM112.7 69h30.9v2.7h-30.9zM158.8 69h3.6v2.7h-3.6zM187.9 69h10.4v2.7h-10.4zM4.9 71.5h30.9v2.7h-30.9zM45.9 71.5h1.9v2.7h-1.9zM52.8 71.5h1.9v2.7h-1.9zM57.9 71.5h7v2.7h-7zM66.5 71.5h1.9v2.7h-1.9zM78.4 71.5h10.4v2.7h-10.4zM104.1 71.5h1.9v2.7h-1.9zM112.7 71.5h17.3v2.7h-17.3zM131.5 71.5h5.3v2.7h-5.3zM165.7 71.5h3.6v2.7h-3.6zM187.9 71.5h12.1v2.7h-12.1zM4.9 74.1h30.9v2.7h-30.9zM39.1 74.1h1.9v2.7h-1.9zM42.5 74.1h5.3v2.7h-5.3zM51.1 74.1h1.9v2.7h-1.9zM57.9 74.1h7v2.7h-7zM66.5 74.1h1.9v2.7h-1.9zM76.7 74.1h7v2.7h-7zM85.3 74.1h5.3v2.7h-5.3zM104.1 74.1h7v2.7h-7zM112.7 74.1h5.3v2.7h-5.3zM119.5 74.1h8.7v2.7h-8.7zM131.5 74.1h5.3v2.7h-5.3zM179.4 74.1h1.9v2.7h-1.9zM193 74.1h5.3v2.7h-5.3zM1.5 76.6h27.5v2.7h-27.5zM30.5 76.6h5.3v2.7h-5.3zM42.5 76.6h12.1v2.7h-12.1zM56.2 76.6h7v2.7h-7zM75 76.6h3.6v2.7h-3.6zM80.2 76.6h10.4v2.7h-10.4zM104.1 76.6h8.7v2.7h-8.7zM114.4 76.6h12.1v2.7h-12.1zM131.5 76.6h3.6v2.7h-3.6zM179.4 76.6h1.9v2.7h-1.9zM-0.2 79.1h8.7v2.7h-8.7zM11.7 79.1h15.5v2.7h-15.5zM30.5 79.1h8.7v2.7h-8.7zM42.5 79.1h20.7v2.7h-20.7zM75 79.1h13.8v2.7h-13.8zM99 79.1h7v2.7h-7zM110.9 79.1h12.1v2.7h-12.1zM1.5 81.7h7v2.7h-7zM11.7 81.7h25.8v2.7h-25.8zM39.1 81.7h22.4v2.7h-22.4zM63 81.7h7v2.7h-7zM73.3 81.7h15.5v2.7h-15.5zM97.3 81.7h8.7v2.7h-8.7zM109.2 81.7h13.8v2.7h-13.8zM141.7 81.7h3.6v2.7h-3.6zM1.5 84.2h7v2.7h-7zM10 84.2h13.8v2.7h-13.8zM39.1 84.2h15.5v2.7h-15.5zM56.2 84.2h3.6v2.7h-3.6zM64.8 84.2h7v2.7h-7zM75 84.2h10.4v2.7h-10.4zM97.3 84.2h20.7v2.7h-20.7zM119.5 84.2h1.9v2.7h-1.9zM140 84.2h3.6v2.7h-3.6zM3.2 86.7h17.3v2.7h-17.3zM39.1 86.7h3.6v2.7h-3.6zM44.2 86.7h13.8v2.7h-13.8zM66.5 86.7h10.4v2.7h-10.4zM80.2 86.7h12.1v2.7h-12.1zM97.3 86.7h7v2.7h-7zM105.8 86.7h3.6v2.7h-3.6zM112.7 86.7h5.3v2.7h-5.3zM11.7 89.3h1.9v2.7h-1.9zM40.8 89.3h5.3v2.7h-5.3zM47.7 89.3h12.1v2.7h-12.1zM66.5 89.3h20.7v2.7h-20.7zM90.4 89.3h1.9v2.7h-1.9zM97.3 89.3h1.9v2.7h-1.9zM104.1 89.3h3.6v2.7h-3.6zM114.4 89.3h1.9v2.7h-1.9zM121.2 89.3h3.6v2.7h-3.6zM39.1 91.8h20.7v2.7h-20.7zM64.8 91.8h7v2.7h-7zM73.3 91.8h3.6v2.7h-3.6zM78.4 91.8h5.3v2.7h-5.3zM102.4 91.8h1.9v2.7h-1.9zM122.9 91.8h1.9v2.7h-1.9zM129.8 91.8h1.9v2.7h-1.9zM133.2 91.8h3.6v2.7h-3.6zM193 91.8h1.9v2.7h-1.9zM37.4 94.3h8.7v2.7h-8.7zM47.7 94.3h15.5v2.7h-15.5zM64.8 94.3h3.6v2.7h-3.6zM69.9 94.3h8.7v2.7h-8.7zM80.2 94.3h3.6v2.7h-3.6zM87 94.3h12.1v2.7h-12.1zM172.5 94.3h1.9v2.7h-1.9zM189.6 94.3h3.6v2.7h-3.6zM34 96.8h8.7v2.7h-8.7zM47.7 96.8h17.3v2.7h-17.3zM71.6 96.8h7v2.7h-7zM83.6 96.8h17.3v2.7h-17.3zM189.6 96.8h3.6v2.7h-3.6zM32.3 99.4h22.4v2.7h-22.4zM57.9 99.4h7v2.7h-7zM75 99.4h1.9v2.7h-1.9zM83.6 99.4h17.3v2.7h-17.3zM129.8 99.4h1.9v2.7h-1.9zM189.6 99.4h3.6v2.7h-3.6zM30.5 101.9h7v2.7h-7zM39.1 101.9h10.4v2.7h-10.4zM59.6 101.9h10.4v2.7h-10.4zM73.3 101.9h5.3v2.7h-5.3zM81.9 101.9h17.3v2.7h-17.3zM129.8 101.9h1.9v2.7h-1.9zM140 101.9h3.6v2.7h-3.6zM30.5 104.4h3.6v2.7h-3.6zM56.2 104.4h32.6v2.7h-32.6zM206.7 104.4h1.9v2.7h-1.9zM211.9 104.4h1.9v2.7h-1.9zM54.5 107h5.3v2.7h-5.3zM61.3 107h27.5v2.7h-27.5zM136.6 107h1.9v2.7h-1.9zM49.4 109.5h13.8v2.7h-13.8zM64.8 109.5h19v2.7h-19zM85.3 109.5h5.3v2.7h-5.3zM99 109.5h1.9v2.7h-1.9zM136.6 109.5h1.9v2.7h-1.9zM146.9 109.5h1.9v2.7h-1.9zM174.2 109.5h3.6v2.7h-3.6zM42.5 112h7v2.7h-7zM51.1 112h20.7v2.7h-20.7zM87 112h1.9v2.7h-1.9zM119.5 112h1.9v2.7h-1.9zM174.2 112h3.6v2.7h-3.6zM203.3 112h1.9v2.7h-1.9zM40.8 114.6h8.7v2.7h-8.7zM54.5 114.6h3.6v2.7h-3.6zM61.3 114.6h3.6v2.7h-3.6zM100.7 114.6h1.9v2.7h-1.9zM119.5 114.6h3.6v2.7h-3.6zM128 114.6h3.6v2.7h-3.6zM174.2 114.6h3.6v2.7h-3.6zM40.8 117.1h8.7v2.7h-8.7zM54.5 117.1h1.9v2.7h-1.9zM66.5 117.1h1.9v2.7h-1.9zM110.9 117.1h5.3v2.7h-5.3zM119.5 117.1h5.3v2.7h-5.3zM129.8 117.1h1.9v2.7h-1.9zM155.4 117.1h3.6v2.7h-3.6zM44.2 119.6h5.3v2.7h-5.3zM110.9 119.6h1.9v2.7h-1.9zM119.5 119.6h5.3v2.7h-5.3zM143.4 119.6h7v2.7h-7zM155.4 119.6h7v2.7h-7zM167.4 119.6h3.6v2.7h-3.6zM110.9 122.1h3.6v2.7h-3.6zM117.8 122.1h8.7v2.7h-8.7zM136.6 122.1h10.4v2.7h-10.4zM148.6 122.1h22.4v2.7h-22.4zM208.4 122.1h3.6v2.7h-3.6zM110.9 124.7h3.6v2.7h-3.6zM119.5 124.7h10.4v2.7h-10.4zM138.3 124.7h1.9v2.7h-1.9zM143.4 124.7h8.7v2.7h-8.7zM153.7 124.7h13.8v2.7h-13.8zM208.4 124.7h3.6v2.7h-3.6zM51.1 127.2h3.6v2.7h-3.6zM69.9 127.2h1.9v2.7h-1.9zM119.5 127.2h10.4v2.7h-10.4zM136.6 127.2h10.4v2.7h-10.4zM150.3 127.2h5.3v2.7h-5.3zM160.5 127.2h1.9v2.7h-1.9zM164 127.2h5.3v2.7h-5.3zM49.4 129.7h3.6v2.7h-3.6zM119.5 129.7h3.6v2.7h-3.6zM124.6 129.7h7v2.7h-7zM170.8 129.7h3.6v2.7h-3.6zM97.3 132.3h3.6v2.7h-3.6zM122.9 132.3h3.6v2.7h-3.6zM119.5 134.8h3.6v2.7h-3.6zM152 134.8h1.9v2.7h-1.9zM170.8 134.8h1.9v2.7h-1.9zM175.9 134.8h3.6v2.7h-3.6zM104.1 137.3h1.9v2.7h-1.9zM143.4 137.3h1.9v2.7h-1.9zM150.3 137.3h10.4v2.7h-10.4zM164 137.3h15.5v2.7h-15.5zM119.5 139.9h1.9v2.7h-1.9zM126.3 139.9h3.6v2.7h-3.6zM140 139.9h1.9v2.7h-1.9zM143.4 139.9h7v2.7h-7zM167.4 139.9h3.6v2.7h-3.6zM174.2 139.9h3.6v2.7h-3.6zM119.5 142.4h1.9v2.7h-1.9zM126.3 142.4h5.3v2.7h-5.3zM134.9 142.4h3.6v2.7h-3.6zM169.1 142.4h1.9v2.7h-1.9zM174.2 142.4h1.9v2.7h-1.9zM99 144.9h1.9v2.7h-1.9zM117.8 144.9h5.3v2.7h-5.3zM126.3 144.9h3.6v2.7h-3.6zM170.8 144.9h5.3v2.7h-5.3zM75 147.4h1.9v2.7h-1.9zM117.8 147.4h8.7v2.7h-8.7zM174.2 147.4h5.3v2.7h-5.3zM87 150h5.3v2.7h-5.3zM97.3 150h8.7v2.7h-8.7zM117.8 150h3.6v2.7h-3.6zM174.2 150h1.9v2.7h-1.9zM177.7 150h1.9v2.7h-1.9zM87 152.5h19v2.7h-19zM88.7 155h5.3v2.7h-5.3zM97.3 155h7v2.7h-7zM117.8 155h1.9v2.7h-1.9zM83.6 157.6h1.9v2.7h-1.9zM90.4 157.6h12.1v2.7h-12.1zM20.3 160.1h3.6v2.7h-3.6zM90.4 160.1h8.7v2.7h-8.7zM18.6 162.6h7v2.7h-7zM88.7 162.6h8.7v2.7h-8.7zM15.2 165.2h5.3v2.7h-5.3zM22 165.2h3.6v2.7h-3.6zM49.4 165.2h1.9v2.7h-1.9zM85.3 165.2h1.9v2.7h-1.9zM92.1 165.2h5.3v2.7h-5.3zM13.4 167.7h3.6v2.7h-3.6zM18.6 167.7h27.5v2.7h-27.5zM47.7 167.7h3.6v2.7h-3.6zM193 167.7h1.9v2.7h-1.9zM13.4 170.2h1.9v2.7h-1.9zM18.6 170.2h17.3v2.7h-17.3zM37.4 170.2h15.5v2.7h-15.5zM193 170.2h1.9v2.7h-1.9zM13.4 172.7h1.9v2.7h-1.9zM20.3 172.7h5.3v2.7h-5.3zM28.8 172.7h1.9v2.7h-1.9zM35.7 172.7h7v2.7h-7zM44.2 172.7h5.3v2.7h-5.3zM69.9 172.7h3.6v2.7h-3.6zM76.7 172.7h3.6v2.7h-3.6zM145.2 172.7h3.6v2.7h-3.6zM11.7 175.3h3.6v2.7h-3.6zM22 175.3h1.9v2.7h-1.9zM35.7 175.3h3.6v2.7h-3.6zM57.9 175.3h1.9v2.7h-1.9zM64.8 175.3h8.7v2.7h-8.7zM76.7 175.3h3.6v2.7h-3.6zM81.9 175.3h1.9v2.7h-1.9zM85.3 175.3h1.9v2.7h-1.9zM145.2 175.3h1.9v2.7h-1.9zM11.7 177.8h1.9v2.7h-1.9zM22 177.8h1.9v2.7h-1.9zM56.2 177.8h3.6v2.7h-3.6zM64.8 177.8h3.6v2.7h-3.6zM85.3 177.8h1.9v2.7h-1.9zM199.9 177.8h1.9v2.7h-1.9zM11.7 180.3h1.9v2.7h-1.9zM20.3 180.3h5.3v2.7h-5.3zM34 180.3h3.6v2.7h-3.6zM140 180.3h1.9v2.7h-1.9zM11.7 182.9h1.9v2.7h-1.9zM20.3 182.9h5.3v2.7h-5.3zM34 182.9h3.6v2.7h-3.6zM177.7 182.9h1.9v2.7h-1.9zM11.7 185.4h3.6v2.7h-3.6zM18.6 185.4h8.7v2.7h-8.7zM134.9 185.4h1.9v2.7h-1.9zM179.4 185.4h1.9v2.7h-1.9zM205 185.4h1.9v2.7h-1.9zM13.4 187.9h1.9v2.7h-1.9zM16.9 187.9h8.7v2.7h-8.7zM133.2 187.9h1.9v2.7h-1.9zM205 187.9h1.9v2.7h-1.9zM13.4 190.5h10.4v2.7h-10.4zM133.2 190.5h1.9v2.7h-1.9zM158.8 190.5h1.9v2.7h-1.9zM179.4 190.5h1.9v2.7h-1.9zM13.4 193h10.4v2.7h-10.4zM140 193h3.6v2.7h-3.6zM13.4 195.5h8.7v2.7h-8.7zM141.7 195.5h3.6v2.7h-3.6zM193 195.5h5.3v2.7h-5.3zM13.4 198h7v2.7h-7zM193 198h5.3v2.7h-5.3zM174.2 200.6h3.6v2.7h-3.6zM199.9 200.6h1.9v2.7h-1.9zM16.9 203.1h1.9v2.7h-1.9zM23.7 203.1h1.9v2.7h-1.9zM13.4 205.6h5.3v2.7h-5.3zM23.7 205.6h1.9v2.7h-1.9zM30.5 205.6h1.9v2.7h-1.9zM99 205.6h3.6v2.7h-3.6zM80.2 210.7h1.9v2.7h-1.9zM93.8 210.7h1.9v2.7h-1.9zM140 210.7h1.9v2.7h-1.9zM78.4 213.2h5.3v2.7h-5.3zM129.8 213.2h1.9v2.7h-1.9zM191.3 213.2h1.9v2.7h-1.9zM11.7 215.8h5.3v2.7h-5.3zM189.6 215.8h5.3v2.7h-5.3zM8.3 218.3h5.3v2.7h-5.3zM25.4 218.3h1.9v2.7h-1.9zM87 218.3h1.9v2.7h-1.9zM187.9 218.3h5.3v2.7h-5.3zM10 220.8h1.9v2.7h-1.9zM42.5 225.9h1.9v2.7h-1.9zM11.7 228.4h1.9v2.7h-1.9zM42.5 228.4h3.6v2.7h-3.6zM30.5 233.5h1.9v2.7h-1.9zM54.5 233.5h1.9v2.7h-1.9zM16.9 236h1.9v2.7h-1.9zM52.8 236h3.6v2.7h-3.6zM85.3 236h1.9v2.7h-1.9zM32.3 238.5h3.6v2.7h-3.6zM37.4 238.5h1.9v2.7h-1.9zM49.4 238.5h3.6v2.7h-3.6zM152 251.2h1.9v2.7h-1.9z"/><path fill="#E4EEF4" d="M194.8 48.8h7v2.7h-7zM196.5 51.3h3.6v2.7h-3.6zM211.9 53.8h1.9v2.7h-1.9zM211.9 56.4h1.9v2.7h-1.9zM206.7 66.5h1.9v2.7h-1.9zM205 69h1.9v2.7h-1.9zM138.3 74.1h3.6v2.7h-3.6zM146.9 74.1h1.9v2.7h-1.9zM201.6 74.1h3.6v2.7h-3.6zM138.3 76.6h1.9v2.7h-1.9zM201.6 76.6h3.6v2.7h-3.6zM206.7 76.6h7v2.7h-7zM162.3 79.1h1.9v2.7h-1.9zM201.6 79.1h12.1v2.7h-12.1zM136.6 81.7h1.9v2.7h-1.9zM201.6 81.7h10.4v2.7h-10.4zM136.6 84.2h1.9v2.7h-1.9zM160.5 84.2h1.9v2.7h-1.9zM201.6 84.2h12.1v2.7h-12.1zM158.8 86.7h5.3v2.7h-5.3zM203.3 86.7h8.7v2.7h-8.7zM158.8 89.3h5.3v2.7h-5.3zM165.7 89.3h5.3v2.7h-5.3zM198.2 89.3h1.9v2.7h-1.9zM206.7 89.3h5.3v2.7h-5.3zM148.6 91.8h3.6v2.7h-3.6zM160.5 91.8h8.7v2.7h-8.7zM208.4 91.8h3.6v2.7h-3.6zM126.3 94.3h1.9v2.7h-1.9zM148.6 94.3h3.6v2.7h-3.6zM203.3 94.3h7v2.7h-7zM126.3 96.8h1.9v2.7h-1.9zM146.9 96.8h5.3v2.7h-5.3zM206.7 96.8h5.3v2.7h-5.3zM134.9 99.4h1.9v2.7h-1.9zM146.9 99.4h3.6v2.7h-3.6zM206.7 99.4h3.6v2.7h-3.6zM184.5 101.9h1.9v2.7h-1.9zM184.5 104.4h1.9v2.7h-1.9zM160.5 107h1.9v2.7h-1.9zM170.8 107h1.9v2.7h-1.9zM184.5 107h3.6v2.7h-3.6zM160.5 109.5h1.9v2.7h-1.9zM184.5 109.5h5.3v2.7h-5.3zM83.6 114.6h3.6v2.7h-3.6zM205 114.6h7v2.7h-7zM83.6 117.1h3.6v2.7h-3.6zM203.3 117.1h3.6v2.7h-3.6zM201.6 119.6h5.3v2.7h-5.3zM186.2 122.1h1.9v2.7h-1.9zM201.6 122.1h3.6v2.7h-3.6zM71.6 124.7h1.9v2.7h-1.9zM80.2 124.7h3.6v2.7h-3.6zM92.1 124.7h1.9v2.7h-1.9zM95.5 124.7h1.9v2.7h-1.9zM184.5 124.7h3.6v2.7h-3.6zM201.6 124.7h5.3v2.7h-5.3zM80.2 127.2h3.6v2.7h-3.6zM95.5 127.2h1.9v2.7h-1.9zM182.8 127.2h7v2.7h-7zM203.3 127.2h3.6v2.7h-3.6zM80.2 129.7h5.3v2.7h-5.3zM181.1 129.7h8.7v2.7h-8.7zM194.8 129.7h1.9v2.7h-1.9zM203.3 129.7h5.3v2.7h-5.3zM80.2 132.3h5.3v2.7h-5.3zM88.7 132.3h1.9v2.7h-1.9zM181.1 132.3h13.8v2.7h-13.8zM196.5 132.3h3.6v2.7h-3.6zM203.3 132.3h1.9v2.7h-1.9zM78.4 134.8h8.7v2.7h-8.7zM88.7 134.8h1.9v2.7h-1.9zM182.8 134.8h1.9v2.7h-1.9zM186.2 134.8h8.7v2.7h-8.7zM196.5 134.8h7v2.7h-7zM78.4 137.3h8.7v2.7h-8.7zM186.2 137.3h8.7v2.7h-8.7zM199.9 137.3h5.3v2.7h-5.3zM78.4 139.9h8.7v2.7h-8.7zM99 139.9h3.6v2.7h-3.6zM189.6 139.9h5.3v2.7h-5.3zM198.2 139.9h8.7v2.7h-8.7zM78.4 142.4h7v2.7h-7zM90.4 142.4h1.9v2.7h-1.9zM109.2 142.4h1.9v2.7h-1.9zM155.4 142.4h5.3v2.7h-5.3zM181.1 142.4h1.9v2.7h-1.9zM189.6 142.4h19v2.7h-19zM80.2 144.9h5.3v2.7h-5.3zM90.4 144.9h5.3v2.7h-5.3zM109.2 144.9h1.9v2.7h-1.9zM138.3 144.9h7v2.7h-7zM146.9 144.9h17.3v2.7h-17.3zM179.4 144.9h3.6v2.7h-3.6zM187.9 144.9h19v2.7h-19zM78.4 147.4h1.9v2.7h-1.9zM81.9 147.4h3.6v2.7h-3.6zM107.5 147.4h3.6v2.7h-3.6zM129.8 147.4h17.3v2.7h-17.3zM152 147.4h12.1v2.7h-12.1zM165.7 147.4h1.9v2.7h-1.9zM181.1 147.4h1.9v2.7h-1.9zM184.5 147.4h19v2.7h-19zM206.7 147.4h1.9v2.7h-1.9zM211.9 147.4h1.9v2.7h-1.9zM78.4 150h7v2.7h-7zM107.5 150h1.9v2.7h-1.9zM129.8 150h13.8v2.7h-13.8zM153.7 150h10.4v2.7h-10.4zM184.5 150h19v2.7h-19zM205 150h8.7v2.7h-8.7zM73.3 152.5h1.9v2.7h-1.9zM78.4 152.5h5.3v2.7h-5.3zM107.5 152.5h3.6v2.7h-3.6zM131.5 152.5h12.1v2.7h-12.1zM145.2 152.5h15.5v2.7h-15.5zM184.5 152.5h19v2.7h-19zM205 152.5h8.7v2.7h-8.7zM73.3 155h1.9v2.7h-1.9zM80.2 155h3.6v2.7h-3.6zM110.9 155h7v2.7h-7zM133.2 155h1.9v2.7h-1.9zM141.7 155h10.4v2.7h-10.4zM167.4 155h3.6v2.7h-3.6zM182.8 155h1.9v2.7h-1.9zM186.2 155h3.6v2.7h-3.6zM191.3 155h22.4v2.7h-22.4zM71.6 157.6h3.6v2.7h-3.6zM112.7 157.6h5.3v2.7h-5.3zM182.8 157.6h5.3v2.7h-5.3zM189.6 157.6h17.3v2.7h-17.3zM210.2 157.6h3.6v2.7h-3.6zM64.8 160.1h1.9v2.7h-1.9zM71.6 160.1h3.6v2.7h-3.6zM119.5 160.1h3.6v2.7h-3.6zM126.3 160.1h3.6v2.7h-3.6zM152 160.1h1.9v2.7h-1.9zM184.5 160.1h1.9v2.7h-1.9zM187.9 160.1h15.5v2.7h-15.5zM63 162.6h3.6v2.7h-3.6zM121.2 162.6h1.9v2.7h-1.9zM126.3 162.6h3.6v2.7h-3.6zM177.7 162.6h3.6v2.7h-3.6zM189.6 162.6h5.3v2.7h-5.3zM164 165.2h7v2.7h-7zM177.7 165.2h3.6v2.7h-3.6zM187.9 165.2h3.6v2.7h-3.6zM99 167.7h3.6v2.7h-3.6zM117.8 167.7h1.9v2.7h-1.9zM140 167.7h1.9v2.7h-1.9zM158.8 167.7h1.9v2.7h-1.9zM164 167.7h7v2.7h-7zM187.9 167.7h1.9v2.7h-1.9zM205 167.7h1.9v2.7h-1.9zM158.8 170.2h12.1v2.7h-12.1zM158.8 172.7h3.6v2.7h-3.6zM165.7 172.7h7v2.7h-7zM157.1 175.3h15.5v2.7h-15.5zM194.8 175.3h3.6v2.7h-3.6zM211.9 175.3h1.9v2.7h-1.9zM80.2 177.8h1.9v2.7h-1.9zM152 177.8h1.9v2.7h-1.9zM157.1 177.8h17.3v2.7h-17.3zM194.8 177.8h3.6v2.7h-3.6zM203.3 177.8h1.9v2.7h-1.9zM210.2 177.8h3.6v2.7h-3.6zM44.2 180.3h3.6v2.7h-3.6zM73.3 180.3h1.9v2.7h-1.9zM80.2 180.3h3.6v2.7h-3.6zM133.2 180.3h3.6v2.7h-3.6zM141.7 180.3h1.9v2.7h-1.9zM162.3 180.3h3.6v2.7h-3.6zM169.1 180.3h5.3v2.7h-5.3zM198.2 180.3h1.9v2.7h-1.9zM211.9 180.3h1.9v2.7h-1.9zM39.1 182.9h10.4v2.7h-10.4zM63 182.9h1.9v2.7h-1.9zM80.2 182.9h3.6v2.7h-3.6zM141.7 182.9h1.9v2.7h-1.9zM162.3 182.9h12.1v2.7h-12.1zM182.8 182.9h3.6v2.7h-3.6zM211.9 182.9h1.9v2.7h-1.9zM40.8 185.4h13.8v2.7h-13.8zM59.6 185.4h10.4v2.7h-10.4zM155.4 185.4h5.3v2.7h-5.3zM164 185.4h7v2.7h-7zM181.1 185.4h5.3v2.7h-5.3zM42.5 187.9h12.1v2.7h-12.1zM57.9 187.9h13.8v2.7h-13.8zM157.1 187.9h3.6v2.7h-3.6zM164 187.9h7v2.7h-7zM179.4 187.9h5.3v2.7h-5.3zM44.2 190.5h10.4v2.7h-10.4zM57.9 190.5h13.8v2.7h-13.8zM169.1 190.5h1.9v2.7h-1.9zM44.2 193h10.4v2.7h-10.4zM56.2 193h17.3v2.7h-17.3zM164 193h1.9v2.7h-1.9zM174.2 193h3.6v2.7h-3.6zM42.5 195.5h10.4v2.7h-10.4zM56.2 195.5h15.5v2.7h-15.5zM81.9 195.5h1.9v2.7h-1.9zM174.2 195.5h3.6v2.7h-3.6zM39.1 198h15.5v2.7h-15.5zM64.8 198h5.3v2.7h-5.3zM80.2 198h3.6v2.7h-3.6zM167.4 198h5.3v2.7h-5.3zM206.7 198h1.9v2.7h-1.9zM37.4 200.6h7v2.7h-7zM45.9 200.6h10.4v2.7h-10.4zM63 200.6h7v2.7h-7zM71.6 200.6h3.6v2.7h-3.6zM170.8 200.6h1.9v2.7h-1.9zM206.7 200.6h3.6v2.7h-3.6zM35.7 203.1h22.4v2.7h-22.4zM61.3 203.1h12.1v2.7h-12.1zM208.4 203.1h1.9v2.7h-1.9zM37.4 205.6h36.1v2.7h-36.1zM181.1 205.6h1.9v2.7h-1.9zM201.6 205.6h1.9v2.7h-1.9zM42.5 208.2h1.9v2.7h-1.9zM47.7 208.2h7v2.7h-7zM56.2 208.2h17.3v2.7h-17.3zM181.1 208.2h5.3v2.7h-5.3zM199.9 208.2h1.9v2.7h-1.9zM42.5 210.7h15.5v2.7h-15.5zM59.6 210.7h13.8v2.7h-13.8zM181.1 210.7h5.3v2.7h-5.3zM42.5 213.2h24.1v2.7h-24.1zM181.1 213.2h3.6v2.7h-3.6zM44.2 215.8h22.4v2.7h-22.4zM182.8 215.8h1.9v2.7h-1.9zM49.4 218.3h8.7v2.7h-8.7zM59.6 218.3h8.7v2.7h-8.7zM25.4 220.8h1.9v2.7h-1.9zM47.7 220.8h5.3v2.7h-5.3zM61.3 220.8h7v2.7h-7zM47.7 223.3h5.3v2.7h-5.3zM63 223.3h3.6v2.7h-3.6zM68.2 223.3h1.9v2.7h-1.9zM68.2 225.9h3.6v2.7h-3.6zM138.3 225.9h1.9v2.7h-1.9zM186.2 225.9h1.9v2.7h-1.9zM117.8 228.4h3.6v2.7h-3.6zM133.2 228.4h7v2.7h-7zM146.9 228.4h3.6v2.7h-3.6zM162.3 228.4h1.9v2.7h-1.9zM97.3 230.9h1.9v2.7h-1.9zM105.8 230.9h7v2.7h-7zM116.1 230.9h7v2.7h-7zM126.3 230.9h12.1v2.7h-12.1zM140 230.9h1.9v2.7h-1.9zM146.9 230.9h3.6v2.7h-3.6zM162.3 230.9h3.6v2.7h-3.6zM88.7 233.5h5.3v2.7h-5.3zM95.5 233.5h5.3v2.7h-5.3zM104.1 233.5h15.5v2.7h-15.5zM122.9 233.5h13.8v2.7h-13.8zM146.9 233.5h5.3v2.7h-5.3zM88.7 236h12.1v2.7h-12.1zM104.1 236h1.9v2.7h-1.9zM107.5 236h1.9v2.7h-1.9zM112.7 236h7v2.7h-7zM122.9 236h12.1v2.7h-12.1zM148.6 236h1.9v2.7h-1.9zM153.7 236h1.9v2.7h-1.9zM88.7 238.5h5.3v2.7h-5.3zM97.3 238.5h1.9v2.7h-1.9zM102.4 238.5h7v2.7h-7zM110.9 238.5h8.7v2.7h-8.7zM122.9 238.5h12.1v2.7h-12.1zM148.6 238.5h3.6v2.7h-3.6zM170.8 238.5h3.6v2.7h-3.6zM69.9 241.1h1.9v2.7h-1.9zM76.7 241.1h5.3v2.7h-5.3zM102.4 241.1h7v2.7h-7zM116.1 241.1h20.7v2.7h-20.7zM140 241.1h3.6v2.7h-3.6zM172.5 241.1h1.9v2.7h-1.9zM66.5 243.6h13.8v2.7h-13.8zM100.7 243.6h7v2.7h-7zM117.8 243.6h12.1v2.7h-12.1zM140 243.6h3.6v2.7h-3.6zM175.9 243.6h1.9v2.7h-1.9zM61.3 246.1h25.8v2.7h-25.8zM100.7 246.1h7v2.7h-7zM119.5 246.1h10.4v2.7h-10.4zM140 246.1h3.6v2.7h-3.6zM148.6 246.1h3.6v2.7h-3.6zM59.6 248.6h27.5v2.7h-27.5zM90.4 248.6h8.7v2.7h-8.7zM102.4 248.6h7v2.7h-7zM119.5 248.6h1.9v2.7h-1.9zM124.6 248.6h5.3v2.7h-5.3zM140 248.6h3.6v2.7h-3.6zM148.6 248.6h5.3v2.7h-5.3zM69.9 251.2h1.9v2.7h-1.9zM73.3 251.2h8.7v2.7h-8.7zM87 251.2h12.1v2.7h-12.1zM102.4 251.2h7v2.7h-7zM124.6 251.2h7v2.7h-7zM141.7 251.2h3.6v2.7h-3.6zM148.6 251.2h3.6v2.7h-3.6z"/><path fill="#B2D5E7" d="M211.9 81.7h1.9v2.7h-1.9zM146.9 147.4h5.3v2.7h-5.3zM143.4 150h10.4v2.7h-10.4zM143.4 152.5h1.9v2.7h-1.9zM71.6 251.2h1.9v2.7h-1.9z"/>
</g>
<g fill="none" stroke="#0d0d0d" stroke-width="0.7" stroke-linejoin="round"><use href="#land"/><use href="#nod"/><use href="#bord"/></g>
</g></g>
<g transform="translate(772.1 389.6) scale(0.988)" clip-path="url(#pcb)">
<rect width="211.8" height="253.2" fill="#EBEBEB"/>
<rect x="3.5" y="4" width="205.3" height="244.7" fill="#F2F2F2"/>
<g transform="translate(0 -0.354251)">
<g mask="url(#lm)" clip-path="url(#rcb)"><rect width="215" height="256" fill="#FAE9DF"/>
<path fill="#8C0C25" d="M117.8 -1.8h5.3v2.7h-5.3zM114.4 0.7h10.4v2.7h-10.4zM112.7 3.2h13.8v2.7h-13.8zM110.9 5.8h15.5v2.7h-15.5zM114.4 8.3h12.1v2.7h-12.1zM117.8 10.8h5.3v2.7h-5.3zM37.4 26h3.6v2.7h-3.6zM35.7 28.5h7v2.7h-7zM35.7 31.1h8.7v2.7h-8.7zM35.7 33.6h10.4v2.7h-10.4zM35.7 36.1h8.7v2.7h-8.7zM35.7 38.7h7v2.7h-7zM102.4 157.6h1.9v2.7h-1.9zM201.6 175.3h3.6v2.7h-3.6zM16.9 182.9h3.6v2.7h-3.6zM16.9 185.4h1.9v2.7h-1.9zM184.5 215.8h3.6v2.7h-3.6zM184.5 218.3h3.6v2.7h-3.6zM175.9 223.3h1.9v2.7h-1.9z"/><path fill="#C43C3C" d="M112.7 -1.8h5.3v2.7h-5.3zM122.9 -1.8h1.9v2.7h-1.9zM110.9 0.7h3.6v2.7h-3.6zM124.6 0.7h1.9v2.7h-1.9zM109.2 3.2h3.6v2.7h-3.6zM126.3 3.2h1.9v2.7h-1.9zM109.2 5.8h1.9v2.7h-1.9zM126.3 5.8h1.9v2.7h-1.9zM110.9 8.3h3.6v2.7h-3.6zM126.3 8.3h1.9v2.7h-1.9zM114.4 10.8h3.6v2.7h-3.6zM122.9 10.8h5.3v2.7h-5.3zM117.8 13.4h8.7v2.7h-8.7zM35.7 23.5h10.4v2.7h-10.4zM34 26h3.6v2.7h-3.6zM40.8 26h5.3v2.7h-5.3zM34 28.5h1.9v2.7h-1.9zM42.5 28.5h3.6v2.7h-3.6zM34 31.1h1.9v2.7h-1.9zM44.2 31.1h3.6v2.7h-3.6zM34 33.6h1.9v2.7h-1.9zM45.9 33.6h1.9v2.7h-1.9zM34 36.1h1.9v2.7h-1.9zM44.2 36.1h1.9v2.7h-1.9zM34 38.7h1.9v2.7h-1.9zM42.5 38.7h1.9v2.7h-1.9zM34 41.2h10.4v2.7h-10.4zM35.7 43.7h10.4v2.7h-10.4zM42.5 46.2h5.3v2.7h-5.3zM42.5 48.8h5.3v2.7h-5.3zM52.8 53.8h3.6v2.7h-3.6zM52.8 56.4h3.6v2.7h-3.6zM10 58.9h1.9v2.7h-1.9zM10 61.4h1.9v2.7h-1.9zM47.7 71.5h1.9v2.7h-1.9zM47.7 74.1h1.9v2.7h-1.9zM10 79.1h1.9v2.7h-1.9zM10 81.7h1.9v2.7h-1.9zM162.3 137.3h3.6v2.7h-3.6zM174.2 144.9h1.9v2.7h-1.9zM174.2 147.4h1.9v2.7h-1.9zM102.4 155h3.6v2.7h-3.6zM104.1 157.6h1.9v2.7h-1.9zM102.4 160.1h1.9v2.7h-1.9zM203.3 172.7h1.9v2.7h-1.9zM201.6 177.8h3.6v2.7h-3.6zM16.9 180.3h3.6v2.7h-3.6zM15.2 182.9h1.9v2.7h-1.9zM18.6 185.4h1.9v2.7h-1.9zM184.5 213.2h3.6v2.7h-3.6zM184.5 220.8h1.9v2.7h-1.9zM174.2 223.3h1.9v2.7h-1.9zM177.7 223.3h1.9v2.7h-1.9z"/><path fill="#E58268" d="M109.2 -1.8h3.6v2.7h-3.6zM124.6 -1.8h3.6v2.7h-3.6zM133.2 -1.8h3.6v2.7h-3.6zM107.5 0.7h3.6v2.7h-3.6zM126.3 0.7h5.3v2.7h-5.3zM133.2 0.7h3.6v2.7h-3.6zM107.5 3.2h1.9v2.7h-1.9zM128 3.2h5.3v2.7h-5.3zM138.3 3.2h1.9v2.7h-1.9zM107.5 5.8h1.9v2.7h-1.9zM128 5.8h3.6v2.7h-3.6zM136.6 5.8h3.6v2.7h-3.6zM107.5 8.3h3.6v2.7h-3.6zM128 8.3h3.6v2.7h-3.6zM133.2 8.3h5.3v2.7h-5.3zM109.2 10.8h5.3v2.7h-5.3zM128 10.8h1.9v2.7h-1.9zM133.2 10.8h1.9v2.7h-1.9zM145.2 10.8h1.9v2.7h-1.9zM109.2 13.4h8.7v2.7h-8.7zM126.3 13.4h3.6v2.7h-3.6zM133.2 13.4h1.9v2.7h-1.9zM110.9 15.9h20.7v2.7h-20.7zM37.4 18.4h8.7v2.7h-8.7zM112.7 18.4h1.9v2.7h-1.9zM126.3 18.4h3.6v2.7h-3.6zM34 20.9h13.8v2.7h-13.8zM32.3 23.5h3.6v2.7h-3.6zM45.9 23.5h1.9v2.7h-1.9zM32.3 26h1.9v2.7h-1.9zM45.9 26h5.3v2.7h-5.3zM32.3 28.5h1.9v2.7h-1.9zM45.9 28.5h7v2.7h-7zM32.3 31.1h1.9v2.7h-1.9zM47.7 31.1h5.3v2.7h-5.3zM32.3 33.6h1.9v2.7h-1.9zM47.7 33.6h1.9v2.7h-1.9zM32.3 36.1h1.9v2.7h-1.9zM45.9 36.1h3.6v2.7h-3.6zM30.5 38.7h3.6v2.7h-3.6zM44.2 38.7h3.6v2.7h-3.6zM30.5 41.2h3.6v2.7h-3.6zM44.2 41.2h3.6v2.7h-3.6zM28.8 43.7h7v2.7h-7zM45.9 43.7h1.9v2.7h-1.9zM27.1 46.2h15.5v2.7h-15.5zM47.7 46.2h1.9v2.7h-1.9zM16.9 48.8h5.3v2.7h-5.3zM27.1 48.8h12.1v2.7h-12.1zM40.8 48.8h1.9v2.7h-1.9zM47.7 48.8h3.6v2.7h-3.6zM16.9 51.3h7v2.7h-7zM28.8 51.3h10.4v2.7h-10.4zM42.5 51.3h13.8v2.7h-13.8zM8.3 53.8h3.6v2.7h-3.6zM18.6 53.8h3.6v2.7h-3.6zM35.7 53.8h1.9v2.7h-1.9zM51.1 53.8h1.9v2.7h-1.9zM56.2 53.8h1.9v2.7h-1.9zM6.6 56.4h7v2.7h-7zM15.2 56.4h1.9v2.7h-1.9zM18.6 56.4h1.9v2.7h-1.9zM51.1 56.4h1.9v2.7h-1.9zM56.2 56.4h1.9v2.7h-1.9zM6.6 58.9h3.6v2.7h-3.6zM11.7 58.9h3.6v2.7h-3.6zM27.1 58.9h1.9v2.7h-1.9zM54.5 58.9h1.9v2.7h-1.9zM6.6 61.4h3.6v2.7h-3.6zM11.7 61.4h1.9v2.7h-1.9zM25.4 61.4h3.6v2.7h-3.6zM3.2 64h1.9v2.7h-1.9zM8.3 64h5.3v2.7h-5.3zM22 64h7v2.7h-7zM3.2 66.5h3.6v2.7h-3.6zM20.3 66.5h7v2.7h-7zM3.2 69h5.3v2.7h-5.3zM11.7 69h1.9v2.7h-1.9zM20.3 69h12.1v2.7h-12.1zM47.7 69h3.6v2.7h-3.6zM4.9 71.5h8.7v2.7h-8.7zM20.3 71.5h10.4v2.7h-10.4zM45.9 71.5h1.9v2.7h-1.9zM49.4 71.5h1.9v2.7h-1.9zM8.3 74.1h5.3v2.7h-5.3zM27.1 74.1h3.6v2.7h-3.6zM45.9 74.1h1.9v2.7h-1.9zM49.4 74.1h1.9v2.7h-1.9zM8.3 76.6h5.3v2.7h-5.3zM28.8 76.6h3.6v2.7h-3.6zM47.7 76.6h3.6v2.7h-3.6zM4.9 79.1h5.3v2.7h-5.3zM11.7 79.1h1.9v2.7h-1.9zM4.9 81.7h5.3v2.7h-5.3zM11.7 81.7h1.9v2.7h-1.9zM35.7 81.7h1.9v2.7h-1.9zM49.4 81.7h3.6v2.7h-3.6zM1.5 84.2h1.9v2.7h-1.9zM8.3 84.2h5.3v2.7h-5.3zM35.7 84.2h1.9v2.7h-1.9zM8.3 86.7h5.3v2.7h-5.3zM63 117.1h1.9v2.7h-1.9zM51.1 119.6h1.9v2.7h-1.9zM51.1 122.1h1.9v2.7h-1.9zM57.9 124.7h1.9v2.7h-1.9zM57.9 127.2h1.9v2.7h-1.9zM160.5 137.3h1.9v2.7h-1.9zM165.7 137.3h1.9v2.7h-1.9zM162.3 139.9h3.6v2.7h-3.6zM172.5 144.9h1.9v2.7h-1.9zM172.5 147.4h1.9v2.7h-1.9zM175.9 147.4h1.9v2.7h-1.9zM129.8 150h3.6v2.7h-3.6zM174.2 150h1.9v2.7h-1.9zM102.4 152.5h3.6v2.7h-3.6zM128 152.5h8.7v2.7h-8.7zM174.2 152.5h1.9v2.7h-1.9zM100.7 155h1.9v2.7h-1.9zM105.8 155h1.9v2.7h-1.9zM128 155h10.4v2.7h-10.4zM100.7 157.6h1.9v2.7h-1.9zM105.8 157.6h1.9v2.7h-1.9zM134.9 157.6h1.9v2.7h-1.9zM100.7 160.1h1.9v2.7h-1.9zM104.1 160.1h1.9v2.7h-1.9zM201.6 172.7h1.9v2.7h-1.9zM205 172.7h1.9v2.7h-1.9zM199.9 175.3h1.9v2.7h-1.9zM205 175.3h1.9v2.7h-1.9zM16.9 177.8h5.3v2.7h-5.3zM199.9 177.8h1.9v2.7h-1.9zM15.2 180.3h1.9v2.7h-1.9zM20.3 180.3h1.9v2.7h-1.9zM20.3 182.9h1.9v2.7h-1.9zM15.2 185.4h1.9v2.7h-1.9zM20.3 185.4h1.9v2.7h-1.9zM16.9 187.9h3.6v2.7h-3.6zM184.5 210.7h3.6v2.7h-3.6zM182.8 213.2h1.9v2.7h-1.9zM182.8 215.8h1.9v2.7h-1.9zM182.8 218.3h1.9v2.7h-1.9zM172.5 220.8h7v2.7h-7zM186.2 220.8h1.9v2.7h-1.9zM172.5 223.3h1.9v2.7h-1.9zM179.4 223.3h1.9v2.7h-1.9zM184.5 223.3h1.9v2.7h-1.9zM175.9 225.9h3.6v2.7h-3.6z"/><path fill="#F8C0A4" d="M64.8 -1.8h3.6v2.7h-3.6zM105.8 -1.8h3.6v2.7h-3.6zM128 -1.8h5.3v2.7h-5.3zM136.6 -1.8h7v2.7h-7zM145.2 -1.8h17.3v2.7h-17.3zM187.9 -1.8h1.9v2.7h-1.9zM131.5 0.7h1.9v2.7h-1.9zM136.6 0.7h27.5v2.7h-27.5zM133.2 3.2h5.3v2.7h-5.3zM140 3.2h5.3v2.7h-5.3zM146.9 3.2h10.4v2.7h-10.4zM131.5 5.8h5.3v2.7h-5.3zM140 5.8h17.3v2.7h-17.3zM131.5 8.3h1.9v2.7h-1.9zM138.3 8.3h13.8v2.7h-13.8zM164 8.3h1.9v2.7h-1.9zM107.5 10.8h1.9v2.7h-1.9zM129.8 10.8h3.6v2.7h-3.6zM134.9 10.8h10.4v2.7h-10.4zM146.9 10.8h3.6v2.7h-3.6zM40.8 13.4h10.4v2.7h-10.4zM129.8 13.4h3.6v2.7h-3.6zM134.9 13.4h10.4v2.7h-10.4zM174.2 13.4h1.9v2.7h-1.9zM196.5 13.4h1.9v2.7h-1.9zM32.3 15.9h19v2.7h-19zM131.5 15.9h8.7v2.7h-8.7zM167.4 15.9h1.9v2.7h-1.9zM174.2 15.9h1.9v2.7h-1.9zM30.5 18.4h7v2.7h-7zM45.9 18.4h5.3v2.7h-5.3zM52.8 18.4h3.6v2.7h-3.6zM114.4 18.4h12.1v2.7h-12.1zM129.8 18.4h8.7v2.7h-8.7zM152 18.4h1.9v2.7h-1.9zM165.7 18.4h3.6v2.7h-3.6zM28.8 20.9h5.3v2.7h-5.3zM47.7 20.9h8.7v2.7h-8.7zM116.1 20.9h3.6v2.7h-3.6zM121.2 20.9h12.1v2.7h-12.1zM152 20.9h1.9v2.7h-1.9zM155.4 20.9h1.9v2.7h-1.9zM164 20.9h3.6v2.7h-3.6zM28.8 23.5h3.6v2.7h-3.6zM47.7 23.5h5.3v2.7h-5.3zM63 23.5h1.9v2.7h-1.9zM153.7 23.5h5.3v2.7h-5.3zM162.3 23.5h3.6v2.7h-3.6zM28.8 26h3.6v2.7h-3.6zM51.1 26h3.6v2.7h-3.6zM131.5 26h1.9v2.7h-1.9zM155.4 26h3.6v2.7h-3.6zM203.3 26h1.9v2.7h-1.9zM28.8 28.5h3.6v2.7h-3.6zM52.8 28.5h1.9v2.7h-1.9zM169.1 28.5h1.9v2.7h-1.9zM201.6 28.5h3.6v2.7h-3.6zM28.8 31.1h3.6v2.7h-3.6zM52.8 31.1h3.6v2.7h-3.6zM167.4 31.1h3.6v2.7h-3.6zM198.2 31.1h3.6v2.7h-3.6zM27.1 33.6h5.3v2.7h-5.3zM49.4 33.6h10.4v2.7h-10.4zM153.7 33.6h1.9v2.7h-1.9zM23.7 36.1h1.9v2.7h-1.9zM27.1 36.1h5.3v2.7h-5.3zM49.4 36.1h3.6v2.7h-3.6zM56.2 36.1h3.6v2.7h-3.6zM155.4 36.1h3.6v2.7h-3.6zM27.1 38.7h3.6v2.7h-3.6zM47.7 38.7h5.3v2.7h-5.3zM56.2 38.7h7v2.7h-7zM145.2 38.7h1.9v2.7h-1.9zM157.1 38.7h1.9v2.7h-1.9zM27.1 41.2h3.6v2.7h-3.6zM47.7 41.2h3.6v2.7h-3.6zM56.2 41.2h7v2.7h-7zM22 43.7h7v2.7h-7zM47.7 43.7h3.6v2.7h-3.6zM59.6 43.7h1.9v2.7h-1.9zM128 43.7h3.6v2.7h-3.6zM15.2 46.2h12.1v2.7h-12.1zM49.4 46.2h3.6v2.7h-3.6zM59.6 46.2h7v2.7h-7zM128 46.2h3.6v2.7h-3.6zM134.9 46.2h1.9v2.7h-1.9zM13.4 48.8h3.6v2.7h-3.6zM22 48.8h5.3v2.7h-5.3zM39.1 48.8h1.9v2.7h-1.9zM51.1 48.8h3.6v2.7h-3.6zM57.9 48.8h8.7v2.7h-8.7zM11.7 51.3h5.3v2.7h-5.3zM23.7 51.3h5.3v2.7h-5.3zM39.1 51.3h3.6v2.7h-3.6zM56.2 51.3h12.1v2.7h-12.1zM4.9 53.8h3.6v2.7h-3.6zM11.7 53.8h7v2.7h-7zM22 53.8h13.8v2.7h-13.8zM37.4 53.8h13.8v2.7h-13.8zM57.9 53.8h8.7v2.7h-8.7zM3.2 56.4h3.6v2.7h-3.6zM13.4 56.4h1.9v2.7h-1.9zM16.9 56.4h1.9v2.7h-1.9zM20.3 56.4h20.7v2.7h-20.7zM49.4 56.4h1.9v2.7h-1.9zM57.9 56.4h7v2.7h-7zM3.2 58.9h3.6v2.7h-3.6zM15.2 58.9h12.1v2.7h-12.1zM28.8 58.9h12.1v2.7h-12.1zM51.1 58.9h3.6v2.7h-3.6zM56.2 58.9h8.7v2.7h-8.7zM3.2 61.4h3.6v2.7h-3.6zM13.4 61.4h12.1v2.7h-12.1zM28.8 61.4h10.4v2.7h-10.4zM52.8 61.4h10.4v2.7h-10.4zM4.9 64h3.6v2.7h-3.6zM13.4 64h8.7v2.7h-8.7zM28.8 64h7v2.7h-7zM49.4 64h1.9v2.7h-1.9zM57.9 64h1.9v2.7h-1.9zM6.6 66.5h13.8v2.7h-13.8zM27.1 66.5h8.7v2.7h-8.7zM44.2 66.5h7v2.7h-7zM114.4 66.5h3.6v2.7h-3.6zM124.6 66.5h1.9v2.7h-1.9zM8.3 69h3.6v2.7h-3.6zM13.4 69h7v2.7h-7zM32.3 69h5.3v2.7h-5.3zM44.2 69h3.6v2.7h-3.6zM51.1 69h1.9v2.7h-1.9zM114.4 69h1.9v2.7h-1.9zM122.9 69h3.6v2.7h-3.6zM13.4 71.5h7v2.7h-7zM30.5 71.5h7v2.7h-7zM44.2 71.5h1.9v2.7h-1.9zM51.1 71.5h1.9v2.7h-1.9zM121.2 71.5h3.6v2.7h-3.6zM4.9 74.1h3.6v2.7h-3.6zM13.4 74.1h13.8v2.7h-13.8zM30.5 74.1h5.3v2.7h-5.3zM44.2 74.1h1.9v2.7h-1.9zM51.1 74.1h1.9v2.7h-1.9zM116.1 74.1h7v2.7h-7zM1.5 76.6h7v2.7h-7zM13.4 76.6h15.5v2.7h-15.5zM32.3 76.6h3.6v2.7h-3.6zM45.9 76.6h1.9v2.7h-1.9zM51.1 76.6h1.9v2.7h-1.9zM117.8 76.6h1.9v2.7h-1.9zM121.2 76.6h1.9v2.7h-1.9zM-0.2 79.1h5.3v2.7h-5.3zM13.4 79.1h20.7v2.7h-20.7zM35.7 79.1h3.6v2.7h-3.6zM45.9 79.1h7v2.7h-7zM1.5 81.7h3.6v2.7h-3.6zM13.4 81.7h20.7v2.7h-20.7zM37.4 81.7h1.9v2.7h-1.9zM45.9 81.7h3.6v2.7h-3.6zM52.8 81.7h1.9v2.7h-1.9zM116.1 81.7h3.6v2.7h-3.6zM3.2 84.2h5.3v2.7h-5.3zM13.4 84.2h10.4v2.7h-10.4zM37.4 84.2h1.9v2.7h-1.9zM47.7 84.2h7v2.7h-7zM105.8 84.2h1.9v2.7h-1.9zM117.8 84.2h1.9v2.7h-1.9zM3.2 86.7h5.3v2.7h-5.3zM13.4 86.7h7v2.7h-7zM37.4 86.7h1.9v2.7h-1.9zM49.4 86.7h3.6v2.7h-3.6zM4.9 89.3h8.7v2.7h-8.7zM54.5 89.3h3.6v2.7h-3.6zM45.9 91.8h1.9v2.7h-1.9zM52.8 91.8h3.6v2.7h-3.6zM59.6 91.8h5.3v2.7h-5.3zM42.5 94.3h12.1v2.7h-12.1zM42.5 96.8h7v2.7h-7zM81.9 104.4h3.6v2.7h-3.6zM90.4 107h1.9v2.7h-1.9zM40.8 112h8.7v2.7h-8.7zM97.3 112h5.3v2.7h-5.3zM40.8 114.6h15.5v2.7h-15.5zM59.6 114.6h7v2.7h-7zM148.6 114.6h3.6v2.7h-3.6zM42.5 117.1h20.7v2.7h-20.7zM64.8 117.1h3.6v2.7h-3.6zM150.3 117.1h3.6v2.7h-3.6zM42.5 119.6h8.7v2.7h-8.7zM52.8 119.6h15.5v2.7h-15.5zM95.5 119.6h3.6v2.7h-3.6zM150.3 119.6h1.9v2.7h-1.9zM182.8 119.6h3.6v2.7h-3.6zM40.8 122.1h10.4v2.7h-10.4zM52.8 122.1h17.3v2.7h-17.3zM148.6 122.1h3.6v2.7h-3.6zM45.9 124.7h12.1v2.7h-12.1zM59.6 124.7h12.1v2.7h-12.1zM208.4 124.7h1.9v2.7h-1.9zM49.4 127.2h8.7v2.7h-8.7zM59.6 127.2h12.1v2.7h-12.1zM102.4 127.2h5.3v2.7h-5.3zM49.4 129.7h22.4v2.7h-22.4zM102.4 129.7h5.3v2.7h-5.3zM157.1 129.7h1.9v2.7h-1.9zM52.8 132.3h19v2.7h-19zM104.1 132.3h3.6v2.7h-3.6zM61.3 134.8h12.1v2.7h-12.1zM102.4 134.8h10.4v2.7h-10.4zM162.3 134.8h1.9v2.7h-1.9zM59.6 137.3h15.5v2.7h-15.5zM92.1 137.3h1.9v2.7h-1.9zM102.4 137.3h10.4v2.7h-10.4zM134.9 137.3h3.6v2.7h-3.6zM157.1 137.3h3.6v2.7h-3.6zM167.4 137.3h1.9v2.7h-1.9zM61.3 139.9h1.9v2.7h-1.9zM64.8 139.9h10.4v2.7h-10.4zM93.8 139.9h1.9v2.7h-1.9zM102.4 139.9h3.6v2.7h-3.6zM110.9 139.9h1.9v2.7h-1.9zM131.5 139.9h7v2.7h-7zM158.8 139.9h3.6v2.7h-3.6zM165.7 139.9h5.3v2.7h-5.3zM66.5 142.4h8.7v2.7h-8.7zM83.6 142.4h3.6v2.7h-3.6zM100.7 142.4h3.6v2.7h-3.6zM110.9 142.4h1.9v2.7h-1.9zM117.8 142.4h1.9v2.7h-1.9zM131.5 142.4h5.3v2.7h-5.3zM143.4 142.4h1.9v2.7h-1.9zM162.3 142.4h1.9v2.7h-1.9zM170.8 142.4h5.3v2.7h-5.3zM64.8 144.9h5.3v2.7h-5.3zM71.6 144.9h5.3v2.7h-5.3zM85.3 144.9h3.6v2.7h-3.6zM102.4 144.9h3.6v2.7h-3.6zM170.8 144.9h1.9v2.7h-1.9zM175.9 144.9h1.9v2.7h-1.9zM196.5 144.9h1.9v2.7h-1.9zM205 144.9h3.6v2.7h-3.6zM64.8 147.4h12.1v2.7h-12.1zM87 147.4h1.9v2.7h-1.9zM93.8 147.4h1.9v2.7h-1.9zM102.4 147.4h3.6v2.7h-3.6zM128 147.4h7v2.7h-7zM194.8 147.4h5.3v2.7h-5.3zM206.7 147.4h1.9v2.7h-1.9zM64.8 150h12.1v2.7h-12.1zM92.1 150h5.3v2.7h-5.3zM100.7 150h7v2.7h-7zM124.6 150h5.3v2.7h-5.3zM133.2 150h5.3v2.7h-5.3zM172.5 150h1.9v2.7h-1.9zM175.9 150h1.9v2.7h-1.9zM186.2 150h1.9v2.7h-1.9zM64.8 152.5h12.1v2.7h-12.1zM88.7 152.5h8.7v2.7h-8.7zM99 152.5h3.6v2.7h-3.6zM105.8 152.5h1.9v2.7h-1.9zM122.9 152.5h5.3v2.7h-5.3zM136.6 152.5h3.6v2.7h-3.6zM172.5 152.5h1.9v2.7h-1.9zM175.9 152.5h3.6v2.7h-3.6zM189.6 152.5h1.9v2.7h-1.9zM63 155h12.1v2.7h-12.1zM92.1 155h8.7v2.7h-8.7zM107.5 155h1.9v2.7h-1.9zM122.9 155h5.3v2.7h-5.3zM138.3 155h1.9v2.7h-1.9zM172.5 155h8.7v2.7h-8.7zM189.6 155h1.9v2.7h-1.9zM63 157.6h8.7v2.7h-8.7zM73.3 157.6h1.9v2.7h-1.9zM93.8 157.6h7v2.7h-7zM107.5 157.6h3.6v2.7h-3.6zM122.9 157.6h12.1v2.7h-12.1zM136.6 157.6h3.6v2.7h-3.6zM172.5 157.6h10.4v2.7h-10.4zM210.2 157.6h1.9v2.7h-1.9zM64.8 160.1h7v2.7h-7zM92.1 160.1h8.7v2.7h-8.7zM105.8 160.1h3.6v2.7h-3.6zM124.6 160.1h12.1v2.7h-12.1zM152 160.1h5.3v2.7h-5.3zM170.8 160.1h3.6v2.7h-3.6zM189.6 160.1h1.9v2.7h-1.9zM210.2 160.1h3.6v2.7h-3.6zM45.9 162.6h1.9v2.7h-1.9zM66.5 162.6h5.3v2.7h-5.3zM93.8 162.6h13.8v2.7h-13.8zM131.5 162.6h1.9v2.7h-1.9zM150.3 162.6h7v2.7h-7zM184.5 162.6h8.7v2.7h-8.7zM210.2 162.6h1.9v2.7h-1.9zM66.5 165.2h5.3v2.7h-5.3zM81.9 165.2h3.6v2.7h-3.6zM95.5 165.2h1.9v2.7h-1.9zM105.8 165.2h3.6v2.7h-3.6zM119.5 165.2h1.9v2.7h-1.9zM150.3 165.2h8.7v2.7h-8.7zM162.3 165.2h3.6v2.7h-3.6zM186.2 165.2h7v2.7h-7zM18.6 167.7h1.9v2.7h-1.9zM23.7 167.7h1.9v2.7h-1.9zM28.8 167.7h1.9v2.7h-1.9zM44.2 167.7h1.9v2.7h-1.9zM59.6 167.7h12.1v2.7h-12.1zM81.9 167.7h1.9v2.7h-1.9zM117.8 167.7h5.3v2.7h-5.3zM138.3 167.7h1.9v2.7h-1.9zM150.3 167.7h15.5v2.7h-15.5zM187.9 167.7h7v2.7h-7zM13.4 170.2h42.9v2.7h-42.9zM59.6 170.2h13.8v2.7h-13.8zM80.2 170.2h3.6v2.7h-3.6zM116.1 170.2h3.6v2.7h-3.6zM148.6 170.2h15.5v2.7h-15.5zM191.3 170.2h3.6v2.7h-3.6zM201.6 170.2h5.3v2.7h-5.3zM11.7 172.7h19v2.7h-19zM34 172.7h3.6v2.7h-3.6zM49.4 172.7h7v2.7h-7zM66.5 172.7h19v2.7h-19zM116.1 172.7h1.9v2.7h-1.9zM146.9 172.7h15.5v2.7h-15.5zM193 172.7h3.6v2.7h-3.6zM199.9 172.7h1.9v2.7h-1.9zM206.7 172.7h1.9v2.7h-1.9zM11.7 175.3h15.5v2.7h-15.5zM68.2 175.3h5.3v2.7h-5.3zM76.7 175.3h5.3v2.7h-5.3zM146.9 175.3h5.3v2.7h-5.3zM157.1 175.3h3.6v2.7h-3.6zM193 175.3h3.6v2.7h-3.6zM198.2 175.3h1.9v2.7h-1.9zM206.7 175.3h1.9v2.7h-1.9zM11.7 177.8h5.3v2.7h-5.3zM22 177.8h5.3v2.7h-5.3zM68.2 177.8h3.6v2.7h-3.6zM155.4 177.8h5.3v2.7h-5.3zM191.3 177.8h5.3v2.7h-5.3zM198.2 177.8h1.9v2.7h-1.9zM205 177.8h1.9v2.7h-1.9zM13.4 180.3h1.9v2.7h-1.9zM22 180.3h5.3v2.7h-5.3zM87 180.3h8.7v2.7h-8.7zM199.9 180.3h5.3v2.7h-5.3zM13.4 182.9h1.9v2.7h-1.9zM22 182.9h5.3v2.7h-5.3zM35.7 182.9h1.9v2.7h-1.9zM92.1 182.9h3.6v2.7h-3.6zM13.4 185.4h1.9v2.7h-1.9zM22 185.4h7v2.7h-7zM35.7 185.4h1.9v2.7h-1.9zM136.6 185.4h1.9v2.7h-1.9zM13.4 187.9h3.6v2.7h-3.6zM20.3 187.9h7v2.7h-7zM136.6 187.9h3.6v2.7h-3.6zM15.2 190.5h8.7v2.7h-8.7zM138.3 190.5h1.9v2.7h-1.9zM174.2 190.5h3.6v2.7h-3.6zM140 193h1.9v2.7h-1.9zM174.2 193h3.6v2.7h-3.6zM141.7 195.5h1.9v2.7h-1.9zM191.3 195.5h3.6v2.7h-3.6zM100.7 198h5.3v2.7h-5.3zM191.3 198h3.6v2.7h-3.6zM100.7 200.6h5.3v2.7h-5.3zM182.8 200.6h1.9v2.7h-1.9zM189.6 200.6h5.3v2.7h-5.3zM138.3 203.1h1.9v2.7h-1.9zM175.9 203.1h1.9v2.7h-1.9zM182.8 203.1h3.6v2.7h-3.6zM187.9 203.1h5.3v2.7h-5.3zM16.9 205.6h1.9v2.7h-1.9zM181.1 205.6h5.3v2.7h-5.3zM187.9 205.6h7v2.7h-7zM181.1 208.2h12.1v2.7h-12.1zM140 210.7h1.9v2.7h-1.9zM182.8 210.7h1.9v2.7h-1.9zM187.9 210.7h7v2.7h-7zM32.3 213.2h1.9v2.7h-1.9zM76.7 213.2h3.6v2.7h-3.6zM181.1 213.2h1.9v2.7h-1.9zM187.9 213.2h5.3v2.7h-5.3zM174.2 215.8h1.9v2.7h-1.9zM177.7 215.8h5.3v2.7h-5.3zM187.9 215.8h5.3v2.7h-5.3zM158.8 218.3h24.1v2.7h-24.1zM187.9 218.3h5.3v2.7h-5.3zM157.1 220.8h10.4v2.7h-10.4zM169.1 220.8h3.6v2.7h-3.6zM179.4 220.8h5.3v2.7h-5.3zM187.9 220.8h3.6v2.7h-3.6zM35.7 223.3h1.9v2.7h-1.9zM157.1 223.3h8.7v2.7h-8.7zM170.8 223.3h1.9v2.7h-1.9zM181.1 223.3h3.6v2.7h-3.6zM186.2 223.3h3.6v2.7h-3.6zM157.1 225.9h10.4v2.7h-10.4zM170.8 225.9h5.3v2.7h-5.3zM179.4 225.9h8.7v2.7h-8.7zM158.8 228.4h8.7v2.7h-8.7zM175.9 228.4h7v2.7h-7zM23.7 230.9h1.9v2.7h-1.9zM157.1 230.9h1.9v2.7h-1.9zM162.3 230.9h10.4v2.7h-10.4zM174.2 230.9h8.7v2.7h-8.7zM18.6 233.5h3.6v2.7h-3.6zM134.9 233.5h5.3v2.7h-5.3zM158.8 233.5h1.9v2.7h-1.9zM165.7 233.5h7v2.7h-7zM175.9 233.5h7v2.7h-7zM18.6 236h3.6v2.7h-3.6zM134.9 236h5.3v2.7h-5.3zM179.4 236h1.9v2.7h-1.9zM30.5 241.1h1.9v2.7h-1.9zM37.4 241.1h1.9v2.7h-1.9zM35.7 243.6h3.6v2.7h-3.6z"/><path fill="#E4EEF4" d="M201.6 -1.8h1.9v2.7h-1.9zM61.3 0.7h1.9v2.7h-1.9zM57.9 3.2h5.3v2.7h-5.3zM167.4 3.2h1.9v2.7h-1.9zM57.9 5.8h5.3v2.7h-5.3zM182.8 8.3h3.6v2.7h-3.6zM182.8 10.8h3.6v2.7h-3.6zM25.4 13.4h1.9v2.7h-1.9zM179.4 15.9h3.6v2.7h-3.6zM177.7 18.4h5.3v2.7h-5.3zM186.2 18.4h3.6v2.7h-3.6zM201.6 18.4h1.9v2.7h-1.9zM179.4 20.9h10.4v2.7h-10.4zM179.4 23.5h10.4v2.7h-10.4zM181.1 26h7v2.7h-7zM182.8 28.5h5.3v2.7h-5.3zM133.2 31.1h1.9v2.7h-1.9zM181.1 31.1h7v2.7h-7zM181.1 33.6h8.7v2.7h-8.7zM128 36.1h1.9v2.7h-1.9zM186.2 36.1h1.9v2.7h-1.9zM186.2 38.7h1.9v2.7h-1.9zM153.7 48.8h1.9v2.7h-1.9zM172.5 48.8h3.6v2.7h-3.6zM194.8 48.8h1.9v2.7h-1.9zM201.6 48.8h1.9v2.7h-1.9zM152 51.3h3.6v2.7h-3.6zM172.5 51.3h5.3v2.7h-5.3zM184.5 51.3h1.9v2.7h-1.9zM201.6 51.3h1.9v2.7h-1.9zM152 53.8h3.6v2.7h-3.6zM175.9 53.8h1.9v2.7h-1.9zM181.1 53.8h3.6v2.7h-3.6zM199.9 53.8h3.6v2.7h-3.6zM208.4 53.8h5.3v2.7h-5.3zM71.6 56.4h1.9v2.7h-1.9zM129.8 56.4h5.3v2.7h-5.3zM141.7 56.4h3.6v2.7h-3.6zM152 56.4h5.3v2.7h-5.3zM165.7 56.4h8.7v2.7h-8.7zM181.1 56.4h3.6v2.7h-3.6zM194.8 56.4h19v2.7h-19zM42.5 58.9h3.6v2.7h-3.6zM129.8 58.9h7v2.7h-7zM140 58.9h7v2.7h-7zM150.3 58.9h8.7v2.7h-8.7zM160.5 58.9h12.1v2.7h-12.1zM182.8 58.9h1.9v2.7h-1.9zM187.9 58.9h5.3v2.7h-5.3zM194.8 58.9h7v2.7h-7zM203.3 58.9h10.4v2.7h-10.4zM114.4 61.4h3.6v2.7h-3.6zM121.2 61.4h1.9v2.7h-1.9zM129.8 61.4h19v2.7h-19zM150.3 61.4h51.5v2.7h-51.5zM206.7 61.4h7v2.7h-7zM75 64h1.9v2.7h-1.9zM129.8 64h73.7v2.7h-73.7zM206.7 64h7v2.7h-7zM73.3 66.5h3.6v2.7h-3.6zM129.8 66.5h42.9v2.7h-42.9zM174.2 66.5h24.1v2.7h-24.1zM199.9 66.5h13.8v2.7h-13.8zM75 69h7v2.7h-7zM85.3 69h1.9v2.7h-1.9zM129.8 69h29.2v2.7h-29.2zM162.3 69h12.1v2.7h-12.1zM175.9 69h30.9v2.7h-30.9zM208.4 69h5.3v2.7h-5.3zM40.8 71.5h1.9v2.7h-1.9zM75 71.5h7v2.7h-7zM87 71.5h1.9v2.7h-1.9zM131.5 71.5h1.9v2.7h-1.9zM136.6 71.5h70.3v2.7h-70.3zM208.4 71.5h5.3v2.7h-5.3zM75 74.1h8.7v2.7h-8.7zM87 74.1h3.6v2.7h-3.6zM104.1 74.1h1.9v2.7h-1.9zM134.9 74.1h41.2v2.7h-41.2zM177.7 74.1h20.7v2.7h-20.7zM199.9 74.1h13.8v2.7h-13.8zM75 76.6h8.7v2.7h-8.7zM129.8 76.6h34.4v2.7h-34.4zM167.4 76.6h27.5v2.7h-27.5zM199.9 76.6h13.8v2.7h-13.8zM75 79.1h8.7v2.7h-8.7zM129.8 79.1h36.1v2.7h-36.1zM167.4 79.1h46.3v2.7h-46.3zM76.7 81.7h7v2.7h-7zM129.8 81.7h30.9v2.7h-30.9zM162.3 81.7h3.6v2.7h-3.6zM169.1 81.7h41.2v2.7h-41.2zM80.2 84.2h3.6v2.7h-3.6zM129.8 84.2h24.1v2.7h-24.1zM155.4 84.2h37.8v2.7h-37.8zM194.8 84.2h3.6v2.7h-3.6zM199.9 84.2h5.3v2.7h-5.3zM42.5 86.7h1.9v2.7h-1.9zM134.9 86.7h13.8v2.7h-13.8zM157.1 86.7h36.1v2.7h-36.1zM194.8 86.7h10.4v2.7h-10.4zM210.2 86.7h3.6v2.7h-3.6zM109.2 89.3h1.9v2.7h-1.9zM112.7 89.3h1.9v2.7h-1.9zM126.3 89.3h3.6v2.7h-3.6zM134.9 89.3h12.1v2.7h-12.1zM153.7 89.3h13.8v2.7h-13.8zM174.2 89.3h1.9v2.7h-1.9zM177.7 89.3h29.2v2.7h-29.2zM210.2 89.3h3.6v2.7h-3.6zM93.8 91.8h3.6v2.7h-3.6zM138.3 91.8h10.4v2.7h-10.4zM153.7 91.8h12.1v2.7h-12.1zM177.7 91.8h36.1v2.7h-36.1zM138.3 94.3h25.8v2.7h-25.8zM177.7 94.3h36.1v2.7h-36.1zM141.7 96.8h22.4v2.7h-22.4zM167.4 96.8h7v2.7h-7zM175.9 96.8h22.4v2.7h-22.4zM199.9 96.8h13.8v2.7h-13.8zM61.3 99.4h1.9v2.7h-1.9zM99 99.4h1.9v2.7h-1.9zM129.8 99.4h3.6v2.7h-3.6zM141.7 99.4h7v2.7h-7zM155.4 99.4h17.3v2.7h-17.3zM175.9 99.4h34.4v2.7h-34.4zM211.9 99.4h1.9v2.7h-1.9zM121.2 101.9h1.9v2.7h-1.9zM128 101.9h5.3v2.7h-5.3zM141.7 101.9h5.3v2.7h-5.3zM155.4 101.9h15.5v2.7h-15.5zM175.9 101.9h20.7v2.7h-20.7zM199.9 101.9h3.6v2.7h-3.6zM208.4 101.9h5.3v2.7h-5.3zM121.2 104.4h1.9v2.7h-1.9zM128 104.4h3.6v2.7h-3.6zM143.4 104.4h5.3v2.7h-5.3zM155.4 104.4h1.9v2.7h-1.9zM160.5 104.4h10.4v2.7h-10.4zM174.2 104.4h22.4v2.7h-22.4zM199.9 104.4h1.9v2.7h-1.9zM210.2 104.4h3.6v2.7h-3.6zM54.5 107h3.6v2.7h-3.6zM64.8 107h3.6v2.7h-3.6zM146.9 107h3.6v2.7h-3.6zM153.7 107h5.3v2.7h-5.3zM160.5 107h12.1v2.7h-12.1zM174.2 107h3.6v2.7h-3.6zM181.1 107h25.8v2.7h-25.8zM211.9 107h1.9v2.7h-1.9zM51.1 109.5h7v2.7h-7zM117.8 109.5h1.9v2.7h-1.9zM150.3 109.5h10.4v2.7h-10.4zM162.3 109.5h51.5v2.7h-51.5zM152 112h8.7v2.7h-8.7zM162.3 112h12.1v2.7h-12.1zM175.9 112h29.2v2.7h-29.2zM206.7 112h3.6v2.7h-3.6zM105.8 114.6h1.9v2.7h-1.9zM157.1 114.6h17.3v2.7h-17.3zM175.9 114.6h27.5v2.7h-27.5zM206.7 114.6h1.9v2.7h-1.9zM109.2 117.1h1.9v2.7h-1.9zM157.1 117.1h17.3v2.7h-17.3zM187.9 117.1h1.9v2.7h-1.9zM193 117.1h3.6v2.7h-3.6zM198.2 117.1h5.3v2.7h-5.3zM157.1 119.6h17.3v2.7h-17.3zM157.1 122.1h8.7v2.7h-8.7zM169.1 122.1h3.6v2.7h-3.6zM134.9 124.7h1.9v2.7h-1.9zM143.4 124.7h3.6v2.7h-3.6zM187.9 124.7h3.6v2.7h-3.6zM150.3 127.2h3.6v2.7h-3.6zM122.9 129.7h1.9v2.7h-1.9zM129.8 129.7h1.9v2.7h-1.9zM150.3 129.7h3.6v2.7h-3.6zM122.9 132.3h1.9v2.7h-1.9zM129.8 132.3h1.9v2.7h-1.9zM152 132.3h1.9v2.7h-1.9zM172.5 132.3h3.6v2.7h-3.6zM198.2 132.3h1.9v2.7h-1.9zM122.9 134.8h3.6v2.7h-3.6zM172.5 134.8h3.6v2.7h-3.6zM76.7 137.3h3.6v2.7h-3.6zM122.9 137.3h3.6v2.7h-3.6zM76.7 139.9h3.6v2.7h-3.6zM122.9 139.9h5.3v2.7h-5.3zM126.3 142.4h1.9v2.7h-1.9zM155.4 144.9h1.9v2.7h-1.9zM211.9 144.9h1.9v2.7h-1.9zM110.9 147.4h3.6v2.7h-3.6zM141.7 147.4h8.7v2.7h-8.7zM153.7 147.4h3.6v2.7h-3.6zM110.9 150h3.6v2.7h-3.6zM169.1 150h1.9v2.7h-1.9zM110.9 152.5h3.6v2.7h-3.6zM169.1 152.5h1.9v2.7h-1.9zM169.1 155h1.9v2.7h-1.9zM54.5 162.6h1.9v2.7h-1.9zM92.1 170.2h1.9v2.7h-1.9zM109.2 172.7h1.9v2.7h-1.9zM172.5 175.3h1.9v2.7h-1.9zM30.5 177.8h1.9v2.7h-1.9zM59.6 177.8h3.6v2.7h-3.6zM129.8 177.8h1.9v2.7h-1.9zM172.5 177.8h1.9v2.7h-1.9zM211.9 177.8h1.9v2.7h-1.9zM42.5 180.3h1.9v2.7h-1.9zM49.4 180.3h5.3v2.7h-5.3zM57.9 180.3h5.3v2.7h-5.3zM40.8 182.9h5.3v2.7h-5.3zM51.1 182.9h3.6v2.7h-3.6zM57.9 182.9h5.3v2.7h-5.3zM42.5 185.4h5.3v2.7h-5.3zM59.6 185.4h3.6v2.7h-3.6zM66.5 185.4h8.7v2.7h-8.7zM76.7 185.4h8.7v2.7h-8.7zM42.5 187.9h8.7v2.7h-8.7zM57.9 187.9h7v2.7h-7zM66.5 187.9h19v2.7h-19zM93.8 187.9h1.9v2.7h-1.9zM42.5 190.5h7v2.7h-7zM52.8 190.5h12.1v2.7h-12.1zM66.5 190.5h19v2.7h-19zM210.2 190.5h3.6v2.7h-3.6zM40.8 193h8.7v2.7h-8.7zM54.5 193h10.4v2.7h-10.4zM66.5 193h15.5v2.7h-15.5zM199.9 193h1.9v2.7h-1.9zM210.2 193h3.6v2.7h-3.6zM37.4 195.5h1.9v2.7h-1.9zM40.8 195.5h3.6v2.7h-3.6zM47.7 195.5h3.6v2.7h-3.6zM54.5 195.5h10.4v2.7h-10.4zM68.2 195.5h3.6v2.7h-3.6zM73.3 195.5h3.6v2.7h-3.6zM80.2 195.5h1.9v2.7h-1.9zM198.2 195.5h1.9v2.7h-1.9zM211.9 195.5h1.9v2.7h-1.9zM35.7 198h10.4v2.7h-10.4zM47.7 198h3.6v2.7h-3.6zM54.5 198h5.3v2.7h-5.3zM69.9 198h7v2.7h-7zM78.4 198h1.9v2.7h-1.9zM35.7 200.6h24.1v2.7h-24.1zM66.5 200.6h10.4v2.7h-10.4zM78.4 200.6h1.9v2.7h-1.9zM93.8 200.6h3.6v2.7h-3.6zM11.7 203.1h1.9v2.7h-1.9zM35.7 203.1h25.8v2.7h-25.8zM64.8 203.1h13.8v2.7h-13.8zM93.8 203.1h3.6v2.7h-3.6zM11.7 205.6h1.9v2.7h-1.9zM40.8 205.6h10.4v2.7h-10.4zM52.8 205.6h15.5v2.7h-15.5zM73.3 205.6h3.6v2.7h-3.6zM93.8 205.6h1.9v2.7h-1.9zM22 208.2h1.9v2.7h-1.9zM40.8 208.2h10.4v2.7h-10.4zM57.9 208.2h8.7v2.7h-8.7zM69.9 208.2h7v2.7h-7zM87 208.2h1.9v2.7h-1.9zM211.9 208.2h1.9v2.7h-1.9zM39.1 210.7h12.1v2.7h-12.1zM63 210.7h3.6v2.7h-3.6zM68.2 210.7h5.3v2.7h-5.3zM87 210.7h1.9v2.7h-1.9zM23.7 213.2h1.9v2.7h-1.9zM39.1 213.2h12.1v2.7h-12.1zM63 213.2h3.6v2.7h-3.6zM68.2 213.2h5.3v2.7h-5.3zM20.3 215.8h5.3v2.7h-5.3zM39.1 215.8h8.7v2.7h-8.7zM49.4 215.8h1.9v2.7h-1.9zM59.6 215.8h7v2.7h-7zM69.9 215.8h3.6v2.7h-3.6zM10 218.3h3.6v2.7h-3.6zM18.6 218.3h7v2.7h-7zM39.1 218.3h3.6v2.7h-3.6zM51.1 218.3h5.3v2.7h-5.3zM57.9 218.3h10.4v2.7h-10.4zM10 220.8h5.3v2.7h-5.3zM16.9 220.8h5.3v2.7h-5.3zM27.1 220.8h5.3v2.7h-5.3zM51.1 220.8h7v2.7h-7zM59.6 220.8h10.4v2.7h-10.4zM73.3 220.8h1.9v2.7h-1.9zM11.7 223.3h1.9v2.7h-1.9zM18.6 223.3h1.9v2.7h-1.9zM27.1 223.3h5.3v2.7h-5.3zM42.5 223.3h1.9v2.7h-1.9zM51.1 223.3h5.3v2.7h-5.3zM61.3 223.3h7v2.7h-7zM30.5 225.9h3.6v2.7h-3.6zM47.7 225.9h7v2.7h-7zM138.3 225.9h5.3v2.7h-5.3zM30.5 228.4h3.6v2.7h-3.6zM49.4 228.4h3.6v2.7h-3.6zM131.5 228.4h12.1v2.7h-12.1zM97.3 230.9h19v2.7h-19zM117.8 230.9h7v2.7h-7zM128 230.9h5.3v2.7h-5.3zM143.4 230.9h5.3v2.7h-5.3zM150.3 230.9h1.9v2.7h-1.9zM81.9 233.5h15.5v2.7h-15.5zM116.1 233.5h3.6v2.7h-3.6zM122.9 233.5h10.4v2.7h-10.4zM141.7 233.5h10.4v2.7h-10.4zM42.5 236h3.6v2.7h-3.6zM80.2 236h10.4v2.7h-10.4zM122.9 236h5.3v2.7h-5.3zM129.8 236h3.6v2.7h-3.6zM141.7 236h10.4v2.7h-10.4zM80.2 238.5h20.7v2.7h-20.7zM114.4 238.5h19v2.7h-19zM140 238.5h5.3v2.7h-5.3zM146.9 238.5h5.3v2.7h-5.3zM155.4 238.5h3.6v2.7h-3.6zM177.7 238.5h1.9v2.7h-1.9zM75 241.1h13.8v2.7h-13.8zM97.3 241.1h24.1v2.7h-24.1zM124.6 241.1h5.3v2.7h-5.3zM131.5 241.1h5.3v2.7h-5.3zM140 241.1h5.3v2.7h-5.3zM148.6 241.1h3.6v2.7h-3.6zM175.9 241.1h1.9v2.7h-1.9zM68.2 243.6h3.6v2.7h-3.6zM73.3 243.6h34.4v2.7h-34.4zM109.2 243.6h19v2.7h-19zM133.2 243.6h3.6v2.7h-3.6zM140 243.6h1.9v2.7h-1.9zM145.2 243.6h7v2.7h-7zM68.2 246.1h3.6v2.7h-3.6zM75 246.1h32.6v2.7h-32.6zM110.9 246.1h17.3v2.7h-17.3zM145.2 246.1h8.7v2.7h-8.7zM61.3 248.6h10.4v2.7h-10.4zM78.4 248.6h8.7v2.7h-8.7zM88.7 248.6h20.7v2.7h-20.7zM110.9 248.6h19v2.7h-19zM143.4 248.6h10.4v2.7h-10.4zM61.3 251.2h12.1v2.7h-12.1zM81.9 251.2h3.6v2.7h-3.6zM90.4 251.2h8.7v2.7h-8.7zM102.4 251.2h8.7v2.7h-8.7zM116.1 251.2h5.3v2.7h-5.3zM126.3 251.2h8.7v2.7h-8.7zM143.4 251.2h5.3v2.7h-5.3zM150.3 251.2h3.6v2.7h-3.6z"/><path fill="#B2D5E7" d="M172.5 66.5h1.9v2.7h-1.9zM174.2 69h1.9v2.7h-1.9zM198.2 84.2h1.9v2.7h-1.9zM210.2 99.4h1.9v2.7h-1.9zM76.7 195.5h3.6v2.7h-3.6zM76.7 198h1.9v2.7h-1.9zM76.7 200.6h1.9v2.7h-1.9zM97.3 233.5h19v2.7h-19zM119.5 233.5h3.6v2.7h-3.6zM90.4 236h7v2.7h-7zM114.4 236h8.7v2.7h-8.7zM128 236h1.9v2.7h-1.9zM100.7 238.5h13.8v2.7h-13.8zM99 251.2h3.6v2.7h-3.6z"/><path fill="#6AACD0" d="M97.3 236h17.3v2.7h-17.3z"/>
</g>
<g fill="none" stroke="#0d0d0d" stroke-width="0.7" stroke-linejoin="round"><use href="#land"/><use href="#nod"/><use href="#bord"/></g>
</g></g>
<g transform="translate(995.4 125.5) scale(0.988)" clip-path="url(#pcb)">
<rect width="211.8" height="253.2" fill="#EBEBEB"/>
<rect x="3.5" y="4" width="205.3" height="244.7" fill="#F2F2F2"/>
<g transform="translate(0 -0.354251)">
<g mask="url(#lm)" clip-path="url(#rcb)"><rect width="215" height="256" fill="#FAE9DF"/>
<path fill="#E4EEF4" d="M158.8 -1.8h1.9v2.7h-1.9zM181.1 0.7h1.9v2.7h-1.9zM121.2 3.2h1.9v2.7h-1.9zM59.6 5.8h1.9v2.7h-1.9zM148.6 8.3h1.9v2.7h-1.9zM167.4 8.3h1.9v2.7h-1.9zM27.1 15.9h1.9v2.7h-1.9zM114.4 15.9h1.9v2.7h-1.9zM134.9 15.9h1.9v2.7h-1.9zM59.6 18.4h1.9v2.7h-1.9zM141.7 23.5h1.9v2.7h-1.9zM157.1 26h1.9v2.7h-1.9zM39.1 28.5h1.9v2.7h-1.9zM25.4 38.7h1.9v2.7h-1.9zM146.9 43.7h1.9v2.7h-1.9zM162.3 43.7h1.9v2.7h-1.9zM37.4 46.2h1.9v2.7h-1.9zM61.3 48.8h1.9v2.7h-1.9zM22 53.8h1.9v2.7h-1.9zM56.2 53.8h1.9v2.7h-1.9zM175.9 53.8h1.9v2.7h-1.9zM211.9 53.8h1.9v2.7h-1.9zM140 56.4h1.9v2.7h-1.9zM146.9 56.4h1.9v2.7h-1.9zM146.9 58.9h3.6v2.7h-3.6zM211.9 58.9h1.9v2.7h-1.9zM66.5 64h1.9v2.7h-1.9zM117.8 64h1.9v2.7h-1.9zM140 64h1.9v2.7h-1.9zM42.5 66.5h1.9v2.7h-1.9zM80.2 69h1.9v2.7h-1.9zM145.2 74.1h1.9v2.7h-1.9zM34 76.6h1.9v2.7h-1.9zM83.6 76.6h1.9v2.7h-1.9zM155.4 76.6h1.9v2.7h-1.9zM105.8 79.1h1.9v2.7h-1.9zM129.8 79.1h1.9v2.7h-1.9zM146.9 79.1h1.9v2.7h-1.9zM153.7 79.1h1.9v2.7h-1.9zM169.1 79.1h1.9v2.7h-1.9zM16.9 84.2h1.9v2.7h-1.9zM73.3 84.2h1.9v2.7h-1.9zM199.9 84.2h1.9v2.7h-1.9zM71.6 86.7h1.9v2.7h-1.9zM170.8 86.7h3.6v2.7h-3.6zM69.9 89.3h1.9v2.7h-1.9zM124.6 89.3h1.9v2.7h-1.9zM143.4 89.3h1.9v2.7h-1.9zM148.6 89.3h1.9v2.7h-1.9zM143.4 91.8h3.6v2.7h-3.6zM196.5 91.8h1.9v2.7h-1.9zM150.3 94.3h1.9v2.7h-1.9zM83.6 96.8h1.9v2.7h-1.9zM131.5 99.4h1.9v2.7h-1.9zM201.6 99.4h1.9v2.7h-1.9zM170.8 101.9h1.9v2.7h-1.9zM54.5 104.4h1.9v2.7h-1.9zM157.1 109.5h1.9v2.7h-1.9zM208.4 109.5h1.9v2.7h-1.9zM44.2 112h1.9v2.7h-1.9zM66.5 112h1.9v2.7h-1.9zM133.2 114.6h1.9v2.7h-1.9zM80.2 117.1h1.9v2.7h-1.9zM105.8 124.7h1.9v2.7h-1.9zM160.5 127.2h1.9v2.7h-1.9zM54.5 129.7h1.9v2.7h-1.9zM97.3 129.7h1.9v2.7h-1.9zM124.6 129.7h1.9v2.7h-1.9zM134.9 132.3h1.9v2.7h-1.9zM158.8 132.3h1.9v2.7h-1.9zM138.3 134.8h1.9v2.7h-1.9zM124.6 139.9h1.9v2.7h-1.9zM177.7 139.9h1.9v2.7h-1.9zM92.1 147.4h1.9v2.7h-1.9zM157.1 147.4h1.9v2.7h-1.9zM90.4 155h1.9v2.7h-1.9zM140 155h1.9v2.7h-1.9zM66.5 157.6h1.9v2.7h-1.9zM133.2 157.6h1.9v2.7h-1.9zM136.6 157.6h1.9v2.7h-1.9zM199.9 160.1h1.9v2.7h-1.9zM23.7 162.6h1.9v2.7h-1.9zM117.8 162.6h1.9v2.7h-1.9zM174.2 162.6h1.9v2.7h-1.9zM138.3 167.7h1.9v2.7h-1.9zM194.8 170.2h1.9v2.7h-1.9zM39.1 172.7h1.9v2.7h-1.9zM138.3 172.7h1.9v2.7h-1.9zM160.5 172.7h1.9v2.7h-1.9zM129.8 177.8h1.9v2.7h-1.9zM59.6 180.3h1.9v2.7h-1.9zM186.2 180.3h1.9v2.7h-1.9zM87 185.4h1.9v2.7h-1.9zM25.4 187.9h1.9v2.7h-1.9zM64.8 190.5h1.9v2.7h-1.9zM128 195.5h1.9v2.7h-1.9zM143.4 195.5h1.9v2.7h-1.9zM37.4 198h1.9v2.7h-1.9zM45.9 198h1.9v2.7h-1.9zM10 200.6h1.9v2.7h-1.9zM25.4 200.6h1.9v2.7h-1.9zM23.7 205.6h1.9v2.7h-1.9zM184.5 208.2h3.6v2.7h-3.6zM37.4 210.7h1.9v2.7h-1.9zM56.2 213.2h1.9v2.7h-1.9zM179.4 218.3h1.9v2.7h-1.9zM52.8 223.3h1.9v2.7h-1.9zM157.1 223.3h1.9v2.7h-1.9zM56.2 228.4h1.9v2.7h-1.9zM59.6 228.4h1.9v2.7h-1.9zM92.1 230.9h1.9v2.7h-1.9zM39.1 238.5h1.9v2.7h-1.9zM121.2 241.1h1.9v2.7h-1.9zM148.6 241.1h1.9v2.7h-1.9zM143.4 243.6h1.9v2.7h-1.9z"/>
</g>
<g fill="none" stroke="#0d0d0d" stroke-width="0.7" stroke-linejoin="round"><use href="#land"/><use href="#nod"/><use href="#bord"/></g>
</g></g>
<g transform="translate(995.4 389.6) scale(0.988)" clip-path="url(#pcb)">
<rect width="211.8" height="253.2" fill="#EBEBEB"/>
<rect x="3.5" y="4" width="205.3" height="244.7" fill="#F2F2F2"/>
<g transform="translate(0 -0.354251)">
<g mask="url(#lm)" clip-path="url(#rcb)"><rect width="215" height="256" fill="#FAE9DF"/>
<path fill="#E4EEF4" d="M107.5 -1.8h1.9v2.7h-1.9zM114.4 -1.8h1.9v2.7h-1.9zM66.5 0.7h1.9v2.7h-1.9zM134.9 0.7h1.9v2.7h-1.9zM150.3 0.7h1.9v2.7h-1.9zM177.7 0.7h1.9v2.7h-1.9zM162.3 5.8h1.9v2.7h-1.9zM164 10.8h1.9v2.7h-1.9zM44.2 15.9h1.9v2.7h-1.9zM160.5 15.9h1.9v2.7h-1.9zM117.8 18.4h1.9v2.7h-1.9zM35.7 23.5h1.9v2.7h-1.9zM153.7 26h1.9v2.7h-1.9zM40.8 28.5h1.9v2.7h-1.9zM131.5 33.6h3.6v2.7h-3.6zM164 33.6h1.9v2.7h-1.9zM157.1 38.7h1.9v2.7h-1.9zM145.2 48.8h1.9v2.7h-1.9zM167.4 48.8h1.9v2.7h-1.9zM198.2 48.8h1.9v2.7h-1.9zM25.4 51.3h1.9v2.7h-1.9zM157.1 53.8h1.9v2.7h-1.9zM177.7 53.8h1.9v2.7h-1.9zM6.6 56.4h1.9v2.7h-1.9zM57.9 56.4h1.9v2.7h-1.9zM146.9 56.4h1.9v2.7h-1.9zM146.9 58.9h1.9v2.7h-1.9zM191.3 58.9h1.9v2.7h-1.9zM164 61.4h1.9v2.7h-1.9zM179.4 61.4h1.9v2.7h-1.9zM61.3 66.5h1.9v2.7h-1.9zM158.8 69h1.9v2.7h-1.9zM174.2 69h1.9v2.7h-1.9zM11.7 71.5h1.9v2.7h-1.9zM124.6 71.5h1.9v2.7h-1.9zM146.9 71.5h1.9v2.7h-1.9zM153.7 71.5h1.9v2.7h-1.9zM153.7 74.1h1.9v2.7h-1.9zM194.8 74.1h1.9v2.7h-1.9zM87 79.1h1.9v2.7h-1.9zM112.7 79.1h1.9v2.7h-1.9zM182.8 79.1h1.9v2.7h-1.9zM170.8 81.7h1.9v2.7h-1.9zM182.8 81.7h1.9v2.7h-1.9zM71.6 84.2h1.9v2.7h-1.9zM126.3 84.2h1.9v2.7h-1.9zM210.2 84.2h1.9v2.7h-1.9zM153.7 86.7h1.9v2.7h-1.9zM45.9 91.8h1.9v2.7h-1.9zM54.5 91.8h1.9v2.7h-1.9zM87 91.8h1.9v2.7h-1.9zM205 94.3h1.9v2.7h-1.9zM73.3 96.8h1.9v2.7h-1.9zM134.9 99.4h1.9v2.7h-1.9zM78.4 101.9h1.9v2.7h-1.9zM107.5 101.9h1.9v2.7h-1.9zM146.9 101.9h1.9v2.7h-1.9zM175.9 101.9h1.9v2.7h-1.9zM175.9 104.4h1.9v2.7h-1.9zM175.9 107h1.9v2.7h-1.9zM205 109.5h1.9v2.7h-1.9zM121.2 112h1.9v2.7h-1.9zM75 114.6h1.9v2.7h-1.9zM129.8 114.6h1.9v2.7h-1.9zM59.6 119.6h1.9v2.7h-1.9zM99 119.6h1.9v2.7h-1.9zM138.3 119.6h1.9v2.7h-1.9zM150.3 119.6h1.9v2.7h-1.9zM203.3 119.6h1.9v2.7h-1.9zM136.6 124.7h1.9v2.7h-1.9zM177.7 124.7h1.9v2.7h-1.9zM117.8 129.7h1.9v2.7h-1.9zM138.3 129.7h1.9v2.7h-1.9zM81.9 132.3h1.9v2.7h-1.9zM117.8 132.3h1.9v2.7h-1.9zM203.3 132.3h1.9v2.7h-1.9zM145.2 134.8h1.9v2.7h-1.9zM64.8 137.3h1.9v2.7h-1.9zM92.1 137.3h1.9v2.7h-1.9zM150.3 137.3h1.9v2.7h-1.9zM68.2 139.9h1.9v2.7h-1.9zM126.3 139.9h1.9v2.7h-1.9zM69.9 144.9h1.9v2.7h-1.9zM100.7 150h1.9v2.7h-1.9zM100.7 152.5h1.9v2.7h-1.9zM100.7 155h1.9v2.7h-1.9zM73.3 157.6h1.9v2.7h-1.9zM87 157.6h1.9v2.7h-1.9zM146.9 157.6h1.9v2.7h-1.9zM150.3 157.6h1.9v2.7h-1.9zM85.3 160.1h1.9v2.7h-1.9zM170.8 160.1h1.9v2.7h-1.9zM66.5 162.6h1.9v2.7h-1.9zM88.7 162.6h1.9v2.7h-1.9zM122.9 162.6h1.9v2.7h-1.9zM27.1 165.2h1.9v2.7h-1.9zM187.9 167.7h1.9v2.7h-1.9zM194.8 167.7h1.9v2.7h-1.9zM210.2 167.7h1.9v2.7h-1.9zM35.7 172.7h1.9v2.7h-1.9zM18.6 175.3h1.9v2.7h-1.9zM164 175.3h1.9v2.7h-1.9zM140 177.8h1.9v2.7h-1.9zM40.8 180.3h1.9v2.7h-1.9zM63 180.3h1.9v2.7h-1.9zM42.5 185.4h1.9v2.7h-1.9zM32.3 187.9h1.9v2.7h-1.9zM16.9 190.5h1.9v2.7h-1.9zM134.9 193h1.9v2.7h-1.9zM140 193h1.9v2.7h-1.9zM30.5 195.5h1.9v2.7h-1.9zM134.9 198h1.9v2.7h-1.9zM39.1 200.6h1.9v2.7h-1.9zM93.8 200.6h1.9v2.7h-1.9zM63 203.1h1.9v2.7h-1.9zM95.5 203.1h1.9v2.7h-1.9zM141.7 203.1h1.9v2.7h-1.9zM189.6 205.6h1.9v2.7h-1.9zM211.9 205.6h1.9v2.7h-1.9zM27.1 210.7h1.9v2.7h-1.9zM39.1 213.2h1.9v2.7h-1.9zM85.3 215.8h1.9v2.7h-1.9zM186.2 215.8h1.9v2.7h-1.9zM167.4 218.3h1.9v2.7h-1.9zM174.2 220.8h1.9v2.7h-1.9zM54.5 230.9h3.6v2.7h-3.6zM152 230.9h1.9v2.7h-1.9zM15.2 233.5h1.9v2.7h-1.9zM175.9 233.5h3.6v2.7h-3.6zM107.5 238.5h1.9v2.7h-1.9zM148.6 238.5h1.9v2.7h-1.9zM114.4 241.1h1.9v2.7h-1.9zM66.5 246.1h1.9v2.7h-1.9zM83.6 246.1h1.9v2.7h-1.9zM83.6 248.6h1.9v2.7h-1.9zM134.9 248.6h1.9v2.7h-1.9zM63 251.2h1.9v2.7h-1.9zM88.7 251.2h1.9v2.7h-1.9z"/>
</g>
<g fill="none" stroke="#0d0d0d" stroke-width="0.7" stroke-linejoin="round"><use href="#land"/><use href="#nod"/><use href="#bord"/></g>
</g></g>
<rect x="764.8" y="174.4" width="7.3" height="2.8" fill="#333"/>
<text x="759.9" y="181.9" font-size="16" text-anchor="end" fill="#4D4D4D">55°N</text>
<rect x="764.8" y="224.4" width="7.3" height="2.8" fill="#333"/>
<text x="759.9" y="231.9" font-size="16" text-anchor="end" fill="#4D4D4D">50°N</text>
<rect x="764.8" y="274.4" width="7.3" height="2.8" fill="#333"/>
<text x="759.9" y="281.9" font-size="16" text-anchor="end" fill="#4D4D4D">45°N</text>
<rect x="764.8" y="324.4" width="7.3" height="2.8" fill="#333"/>
<text x="759.9" y="331.9" font-size="16" text-anchor="end" fill="#4D4D4D">40°N</text>
<rect x="764.8" y="438.5" width="7.3" height="2.8" fill="#333"/>
<text x="759.9" y="446.0" font-size="16" text-anchor="end" fill="#4D4D4D">55°N</text>
<rect x="764.8" y="488.5" width="7.3" height="2.8" fill="#333"/>
<text x="759.9" y="496.0" font-size="16" text-anchor="end" fill="#4D4D4D">50°N</text>
<rect x="764.8" y="538.5" width="7.3" height="2.8" fill="#333"/>
<text x="759.9" y="546.0" font-size="16" text-anchor="end" fill="#4D4D4D">45°N</text>
<rect x="764.8" y="588.5" width="7.3" height="2.8" fill="#333"/>
<text x="759.9" y="596.0" font-size="16" text-anchor="end" fill="#4D4D4D">40°N</text>
<rect x="777.2" y="639.8" width="2.8" height="7.3" fill="#333"/>
<text x="778.6" y="663.6" font-size="16" text-anchor="middle" fill="#4D4D4D">10°W</text>
<rect x="817.8" y="639.8" width="2.8" height="7.3" fill="#333"/>
<text x="819.2" y="663.6" font-size="16" text-anchor="middle" fill="#4D4D4D">4°W</text>
<rect x="858.3" y="639.8" width="2.8" height="7.3" fill="#333"/>
<text x="859.7" y="663.6" font-size="16" text-anchor="middle" fill="#4D4D4D">2°E</text>
<rect x="898.9" y="639.8" width="2.8" height="7.3" fill="#333"/>
<text x="900.3" y="663.6" font-size="16" text-anchor="middle" fill="#4D4D4D">8°E</text>
<rect x="939.5" y="639.8" width="2.8" height="7.3" fill="#333"/>
<text x="940.9" y="663.6" font-size="16" text-anchor="middle" fill="#4D4D4D">14°E</text>
<rect x="1000.5" y="639.8" width="2.8" height="7.3" fill="#333"/>
<text x="1001.9" y="663.6" font-size="16" text-anchor="middle" fill="#4D4D4D">10°W</text>
<rect x="1041.1" y="639.8" width="2.8" height="7.3" fill="#333"/>
<text x="1042.5" y="663.6" font-size="16" text-anchor="middle" fill="#4D4D4D">4°W</text>
<rect x="1081.6" y="639.8" width="2.8" height="7.3" fill="#333"/>
<text x="1083.0" y="663.6" font-size="16" text-anchor="middle" fill="#4D4D4D">2°E</text>
<rect x="1122.2" y="639.8" width="2.8" height="7.3" fill="#333"/>
<text x="1123.6" y="663.6" font-size="16" text-anchor="middle" fill="#4D4D4D">8°E</text>
<rect x="1162.8" y="639.8" width="2.8" height="7.3" fill="#333"/>
<text x="1164.2" y="663.6" font-size="16" text-anchor="middle" fill="#4D4D4D">14°E</text>
<text x="31.2" y="51.6" font-size="29.5" fill="#000">a)</text>
<text x="705.2" y="51.5" font-size="29.5" fill="#000">b)</text>
<rect x="606.9" y="131.0" width="28.4" height="54.4" fill="#8C0C25"/>
<rect x="606.9" y="185.0" width="28.4" height="53.4" fill="#C43C3C"/>
<rect x="606.9" y="238.0" width="28.4" height="53.4" fill="#E58268"/>
<rect x="606.9" y="291.0" width="28.4" height="53.4" fill="#F8C0A4"/>
<rect x="606.9" y="344.0" width="28.4" height="53.4" fill="#FAE9DF"/>
<rect x="606.9" y="397.0" width="28.4" height="53.4" fill="#E4EEF4"/>
<rect x="606.9" y="450.0" width="28.4" height="53.4" fill="#B2D5E7"/>
<rect x="606.9" y="503.0" width="28.4" height="53.4" fill="#6AACD0"/>
<rect x="606.9" y="556.0" width="28.4" height="53.4" fill="#327CB8"/>
<rect x="606.9" y="609.0" width="28.4" height="54.3" fill="#134B86"/>
<rect x="606.9" y="131.2" width="5.7" height="2" fill="#fff" opacity="0.55"/>
<rect x="629.6" y="131.2" width="5.7" height="2" fill="#fff" opacity="0.55"/>
<text x="647.3" y="139.2" font-size="20.3" fill="#1a1a1a">0.5</text>
<rect x="606.9" y="184.2" width="5.7" height="2" fill="#fff" opacity="0.55"/>
<rect x="629.6" y="184.2" width="5.7" height="2" fill="#fff" opacity="0.55"/>
<text x="647.3" y="192.2" font-size="20.3" fill="#1a1a1a">0.4</text>
<rect x="606.9" y="237.2" width="5.7" height="2" fill="#fff" opacity="0.55"/>
<rect x="629.6" y="237.2" width="5.7" height="2" fill="#fff" opacity="0.55"/>
<text x="647.3" y="245.2" font-size="20.3" fill="#1a1a1a">0.3</text>
<rect x="606.9" y="290.2" width="5.7" height="2" fill="#fff" opacity="0.55"/>
<rect x="629.6" y="290.2" width="5.7" height="2" fill="#fff" opacity="0.55"/>
<text x="647.3" y="298.2" font-size="20.3" fill="#1a1a1a">0.2</text>
<rect x="606.9" y="343.2" width="5.7" height="2" fill="#fff" opacity="0.55"/>
<rect x="629.6" y="343.2" width="5.7" height="2" fill="#fff" opacity="0.55"/>
<text x="647.3" y="351.2" font-size="20.3" fill="#1a1a1a">0.1</text>
<rect x="606.9" y="396.2" width="5.7" height="2" fill="#fff" opacity="0.55"/>
<rect x="629.6" y="396.2" width="5.7" height="2" fill="#fff" opacity="0.55"/>
<text x="647.3" y="404.2" font-size="20.3" fill="#1a1a1a">0.0</text>
<rect x="606.9" y="449.2" width="5.7" height="2" fill="#fff" opacity="0.55"/>
<rect x="629.6" y="449.2" width="5.7" height="2" fill="#fff" opacity="0.55"/>
<text x="647.3" y="457.2" font-size="20.3" fill="#1a1a1a">−0.1</text>
<rect x="606.9" y="502.2" width="5.7" height="2" fill="#fff" opacity="0.55"/>
<rect x="629.6" y="502.2" width="5.7" height="2" fill="#fff" opacity="0.55"/>
<text x="647.3" y="510.2" font-size="20.3" fill="#1a1a1a">−0.2</text>
<rect x="606.9" y="555.2" width="5.7" height="2" fill="#fff" opacity="0.55"/>
<rect x="629.6" y="555.2" width="5.7" height="2" fill="#fff" opacity="0.55"/>
<text x="647.3" y="563.2" font-size="20.3" fill="#1a1a1a">−0.3</text>
<rect x="606.9" y="608.2" width="5.7" height="2" fill="#fff" opacity="0.55"/>
<rect x="629.6" y="608.2" width="5.7" height="2" fill="#fff" opacity="0.55"/>
<text x="647.3" y="616.2" font-size="20.3" fill="#1a1a1a">−0.4</text>
<rect x="606.9" y="661.2" width="5.7" height="2" fill="#fff" opacity="0.55"/>
<rect x="629.6" y="661.2" width="5.7" height="2" fill="#fff" opacity="0.55"/>
<text x="647.3" y="669.2" font-size="20.3" fill="#1a1a1a">−0.5</text>
<text x="607" y="119" font-size="20.3" fill="#1a1a1a">°C</text>
<rect x="1275.5" y="131.0" width="28.5" height="54.4" fill="#134B86"/>
<rect x="1275.5" y="185.0" width="28.5" height="53.4" fill="#327CB8"/>
<rect x="1275.5" y="238.0" width="28.5" height="53.4" fill="#6AACD0"/>
<rect x="1275.5" y="291.0" width="28.5" height="53.4" fill="#B2D5E7"/>
<rect x="1275.5" y="344.0" width="28.5" height="53.4" fill="#E4EEF4"/>
<rect x="1275.5" y="397.0" width="28.5" height="53.4" fill="#FAE9DF"/>
<rect x="1275.5" y="450.0" width="28.5" height="53.4" fill="#F8C0A4"/>
<rect x="1275.5" y="503.0" width="28.5" height="53.4" fill="#E58268"/>
<rect x="1275.5" y="556.0" width="28.5" height="53.4" fill="#C43C3C"/>
<rect x="1275.5" y="609.0" width="28.5" height="54.3" fill="#8C0C25"/>
<rect x="1275.5" y="131.2" width="5.7" height="2" fill="#fff" opacity="0.55"/>
<rect x="1298.3" y="131.2" width="5.7" height="2" fill="#fff" opacity="0.55"/>
<text x="1316" y="139.2" font-size="20.3" fill="#1a1a1a">&gt;50</text>
<rect x="1275.5" y="184.2" width="5.7" height="2" fill="#fff" opacity="0.55"/>
<rect x="1298.3" y="184.2" width="5.7" height="2" fill="#fff" opacity="0.55"/>
<text x="1316" y="192.2" font-size="20.3" fill="#1a1a1a">40</text>
<rect x="1275.5" y="237.2" width="5.7" height="2" fill="#fff" opacity="0.55"/>
<rect x="1298.3" y="237.2" width="5.7" height="2" fill="#fff" opacity="0.55"/>
<text x="1316" y="245.2" font-size="20.3" fill="#1a1a1a">30</text>
<rect x="1275.5" y="290.2" width="5.7" height="2" fill="#fff" opacity="0.55"/>
<rect x="1298.3" y="290.2" width="5.7" height="2" fill="#fff" opacity="0.55"/>
<text x="1316" y="298.2" font-size="20.3" fill="#1a1a1a">20</text>
<rect x="1275.5" y="343.2" width="5.7" height="2" fill="#fff" opacity="0.55"/>
<rect x="1298.3" y="343.2" width="5.7" height="2" fill="#fff" opacity="0.55"/>
<text x="1316" y="351.2" font-size="20.3" fill="#1a1a1a">10</text>
<rect x="1275.5" y="396.2" width="5.7" height="2" fill="#fff" opacity="0.55"/>
<rect x="1298.3" y="396.2" width="5.7" height="2" fill="#fff" opacity="0.55"/>
<text x="1316" y="404.2" font-size="20.3" fill="#1a1a1a">0</text>
<rect x="1275.5" y="449.2" width="5.7" height="2" fill="#fff" opacity="0.55"/>
<rect x="1298.3" y="449.2" width="5.7" height="2" fill="#fff" opacity="0.55"/>
<text x="1316" y="457.2" font-size="20.3" fill="#1a1a1a">−10</text>
<rect x="1275.5" y="502.2" width="5.7" height="2" fill="#fff" opacity="0.55"/>
<rect x="1298.3" y="502.2" width="5.7" height="2" fill="#fff" opacity="0.55"/>
<text x="1316" y="510.2" font-size="20.3" fill="#1a1a1a">−20</text>
<rect x="1275.5" y="555.2" width="5.7" height="2" fill="#fff" opacity="0.55"/>
<rect x="1298.3" y="555.2" width="5.7" height="2" fill="#fff" opacity="0.55"/>
<text x="1316" y="563.2" font-size="20.3" fill="#1a1a1a">−30</text>
<rect x="1275.5" y="608.2" width="5.7" height="2" fill="#fff" opacity="0.55"/>
<rect x="1298.3" y="608.2" width="5.7" height="2" fill="#fff" opacity="0.55"/>
<text x="1316" y="616.2" font-size="20.3" fill="#1a1a1a">−40</text>
<rect x="1275.5" y="661.2" width="5.7" height="2" fill="#fff" opacity="0.55"/>
<rect x="1298.3" y="661.2" width="5.7" height="2" fill="#fff" opacity="0.55"/>
<text x="1316" y="669.2" font-size="20.3" fill="#1a1a1a">&lt;−50</text>
<text x="1276" y="119" font-size="20.3" fill="#1a1a1a">mm</text>
</svg></body></html>
